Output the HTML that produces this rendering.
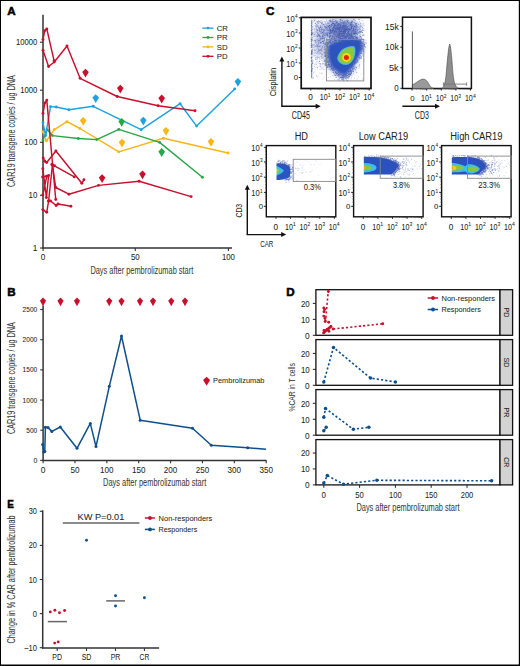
<!DOCTYPE html><html><head><meta charset="utf-8"><style>html,body{margin:0;padding:0;background:#fff;}svg{display:block;}text{font-family:"Liberation Sans", sans-serif;fill:#231f20;stroke:#231f20;stroke-width:0.05px;}</style></head><body>
<svg width="520" height="666" viewBox="0 0 520 666">
<defs><filter id="b1" x="-50%" y="-50%" width="200%" height="200%"><feGaussianBlur stdDeviation="1.2"/></filter><filter id="b3" x="-50%" y="-50%" width="200%" height="200%"><feGaussianBlur stdDeviation="3"/></filter><filter id="b2" x="-50%" y="-50%" width="200%" height="200%"><feGaussianBlur stdDeviation="2"/></filter><filter id="b05" x="-50%" y="-50%" width="200%" height="200%"><feGaussianBlur stdDeviation="0.6"/></filter></defs>
<rect x="0" y="0" width="520" height="666" fill="#000"/>
<rect x="1" y="1" width="517.8" height="663.5" fill="#fff"/>
<text x="7.2" y="14.9" font-size="11.6" font-weight="bold" style="fill:#000;stroke:#000;stroke-width:0.55px">A</text>
<line x1="43" y1="14.8" x2="43" y2="248.6" stroke="#333" stroke-width="1.5"/>
<line x1="42.3" y1="248" x2="232" y2="248" stroke="#333" stroke-width="1.5"/>
<line x1="40" y1="42.2" x2="43" y2="42.2" stroke="#333" stroke-width="1.1"/>
<text x="37.3" y="45.1" font-size="8.2" text-anchor="end" textLength="21.25" lengthAdjust="spacingAndGlyphs">10000</text>
<line x1="40" y1="90.2" x2="43" y2="90.2" stroke="#333" stroke-width="1.1"/>
<text x="37.3" y="93.1" font-size="8.2" text-anchor="end" textLength="17.1" lengthAdjust="spacingAndGlyphs">1000</text>
<line x1="40" y1="142.3" x2="43" y2="142.3" stroke="#333" stroke-width="1.1"/>
<text x="37.3" y="145.2" font-size="8.2" text-anchor="end" textLength="12.95" lengthAdjust="spacingAndGlyphs">100</text>
<line x1="40" y1="195.3" x2="43" y2="195.3" stroke="#333" stroke-width="1.1"/>
<text x="37.3" y="198.2" font-size="8.2" text-anchor="end" textLength="8.8" lengthAdjust="spacingAndGlyphs">10</text>
<line x1="40" y1="248" x2="43" y2="248" stroke="#333" stroke-width="1.1"/>
<text x="37.3" y="250.9" font-size="8.2" text-anchor="end" textLength="4.65" lengthAdjust="spacingAndGlyphs">1</text>
<line x1="43.1" y1="248" x2="43.1" y2="251" stroke="#333" stroke-width="1.1"/>
<text x="43.1" y="259.8" font-size="8.2" text-anchor="middle" textLength="4.6" lengthAdjust="spacingAndGlyphs">0</text>
<line x1="135.3" y1="248" x2="135.3" y2="251" stroke="#333" stroke-width="1.1"/>
<text x="135.3" y="259.8" font-size="8.2" text-anchor="middle" textLength="8.8" lengthAdjust="spacingAndGlyphs">50</text>
<line x1="228.4" y1="248" x2="228.4" y2="251" stroke="#333" stroke-width="1.1"/>
<text x="228.4" y="259.8" font-size="8.2" text-anchor="middle" textLength="13" lengthAdjust="spacingAndGlyphs">100</text>
<text x="90.4" y="273.7" font-size="10.1" textLength="102.8" lengthAdjust="spacingAndGlyphs" style="fill:#3a3a3a;stroke:#3a3a3a">Days after pembrolizumab start</text>
<text x="15" y="186.9" font-size="10" textLength="111.8" lengthAdjust="spacingAndGlyphs" transform="rotate(-90 15 186.9)" style="fill:#3a3a3a;stroke:#3a3a3a">CAR19 transgene copies / ug DNA</text>
<polyline points="43,131.8 46.4,140.8 54.3,129.6 67,121.7 79.9,128.5 118.8,151.9 163.4,138.2 228,153" fill="none" stroke="#fbb515" stroke-width="1.45" stroke-linejoin="round"/>
<circle cx="43" cy="131.8" r="1.45" fill="#fbb515"/>
<circle cx="46.4" cy="140.8" r="1.45" fill="#fbb515"/>
<circle cx="54.3" cy="129.6" r="1.45" fill="#fbb515"/>
<circle cx="67" cy="121.7" r="1.45" fill="#fbb515"/>
<circle cx="79.9" cy="128.5" r="1.45" fill="#fbb515"/>
<circle cx="118.8" cy="151.9" r="1.45" fill="#fbb515"/>
<circle cx="163.4" cy="138.2" r="1.45" fill="#fbb515"/>
<circle cx="228" cy="153" r="1.45" fill="#fbb515"/>
<polyline points="43,140.1 47.1,129.6 52.4,135.6 78.4,138.5 96.7,139.6 118.8,129.4 159.6,142.4 202.4,177.3" fill="none" stroke="#27a846" stroke-width="1.45" stroke-linejoin="round"/>
<circle cx="43" cy="140.1" r="1.45" fill="#27a846"/>
<circle cx="47.1" cy="129.6" r="1.45" fill="#27a846"/>
<circle cx="52.4" cy="135.6" r="1.45" fill="#27a846"/>
<circle cx="78.4" cy="138.5" r="1.45" fill="#27a846"/>
<circle cx="96.7" cy="139.6" r="1.45" fill="#27a846"/>
<circle cx="118.8" cy="129.4" r="1.45" fill="#27a846"/>
<circle cx="159.6" cy="142.4" r="1.45" fill="#27a846"/>
<circle cx="202.4" cy="177.3" r="1.45" fill="#27a846"/>
<polyline points="43,122.8 45.6,135.6 50.5,106.6 56.2,107 68.9,109.7 93.2,106.3 141.2,129.7 180.1,103.7 196.6,126.1 234.7,88.9" fill="none" stroke="#1fa2dd" stroke-width="1.45" stroke-linejoin="round"/>
<circle cx="43" cy="122.8" r="1.45" fill="#1fa2dd"/>
<circle cx="45.6" cy="135.6" r="1.45" fill="#1fa2dd"/>
<circle cx="50.5" cy="106.6" r="1.45" fill="#1fa2dd"/>
<circle cx="56.2" cy="107" r="1.45" fill="#1fa2dd"/>
<circle cx="68.9" cy="109.7" r="1.45" fill="#1fa2dd"/>
<circle cx="93.2" cy="106.3" r="1.45" fill="#1fa2dd"/>
<circle cx="141.2" cy="129.7" r="1.45" fill="#1fa2dd"/>
<circle cx="180.1" cy="103.7" r="1.45" fill="#1fa2dd"/>
<circle cx="196.6" cy="126.1" r="1.45" fill="#1fa2dd"/>
<circle cx="234.7" cy="88.9" r="1.45" fill="#1fa2dd"/>
<polyline points="43,39.5 44.7,30.8 46.8,28.9 54.1,60.8" fill="none" stroke="#c8102e" stroke-width="1.45" stroke-linejoin="round"/>
<circle cx="43" cy="39.5" r="1.45" fill="#c8102e"/>
<circle cx="44.7" cy="30.8" r="1.45" fill="#c8102e"/>
<circle cx="46.8" cy="28.9" r="1.45" fill="#c8102e"/>
<circle cx="54.1" cy="60.8" r="1.45" fill="#c8102e"/>
<polyline points="43,50.3 48.6,66.5 54.3,62 67,46 80.1,78.3 117.2,96.5 158.1,105.8 195,110.7" fill="none" stroke="#c8102e" stroke-width="1.45" stroke-linejoin="round"/>
<circle cx="43" cy="50.3" r="1.45" fill="#c8102e"/>
<circle cx="48.6" cy="66.5" r="1.45" fill="#c8102e"/>
<circle cx="54.3" cy="62" r="1.45" fill="#c8102e"/>
<circle cx="67" cy="46" r="1.45" fill="#c8102e"/>
<circle cx="80.1" cy="78.3" r="1.45" fill="#c8102e"/>
<circle cx="117.2" cy="96.5" r="1.45" fill="#c8102e"/>
<circle cx="158.1" cy="105.8" r="1.45" fill="#c8102e"/>
<circle cx="195" cy="110.7" r="1.45" fill="#c8102e"/>
<polyline points="43,113.4 44.9,102.9 46.8,100.1 55.75,199.5" fill="none" stroke="#c8102e" stroke-width="1.45" stroke-linejoin="round"/>
<circle cx="43" cy="113.4" r="1.45" fill="#c8102e"/>
<circle cx="44.9" cy="102.9" r="1.45" fill="#c8102e"/>
<circle cx="46.8" cy="100.1" r="1.45" fill="#c8102e"/>
<circle cx="55.75" cy="199.5" r="1.45" fill="#c8102e"/>
<polyline points="43.2,157.9 44.9,161.3 46.7,162.5 55.9,151 81.8,183.3 83.9,179.8" fill="none" stroke="#c8102e" stroke-width="1.45" stroke-linejoin="round"/>
<circle cx="43.2" cy="157.9" r="1.45" fill="#c8102e"/>
<circle cx="44.9" cy="161.3" r="1.45" fill="#c8102e"/>
<circle cx="46.7" cy="162.5" r="1.45" fill="#c8102e"/>
<circle cx="55.9" cy="151" r="1.45" fill="#c8102e"/>
<circle cx="81.8" cy="183.3" r="1.45" fill="#c8102e"/>
<circle cx="83.9" cy="179.8" r="1.45" fill="#c8102e"/>
<polyline points="51.8,164.5 54.5,165.8 74.3,176.9" fill="none" stroke="#c8102e" stroke-width="1.45" stroke-linejoin="round"/>
<circle cx="51.8" cy="164.5" r="1.45" fill="#c8102e"/>
<circle cx="54.5" cy="165.8" r="1.45" fill="#c8102e"/>
<circle cx="74.3" cy="176.9" r="1.45" fill="#c8102e"/>
<polyline points="42.85,168.75 46.4,197.6 48.6,175.5 42.6,177 46.75,176.3 42.85,195" fill="none" stroke="#c8102e" stroke-width="1.45" stroke-linejoin="round"/>
<circle cx="42.85" cy="168.75" r="1.45" fill="#c8102e"/>
<circle cx="46.4" cy="197.6" r="1.45" fill="#c8102e"/>
<circle cx="48.6" cy="175.5" r="1.45" fill="#c8102e"/>
<circle cx="42.6" cy="177" r="1.45" fill="#c8102e"/>
<circle cx="46.75" cy="176.3" r="1.45" fill="#c8102e"/>
<circle cx="42.85" cy="195" r="1.45" fill="#c8102e"/>
<polyline points="42.85,209.6 46.75,212.3 48.6,201 50.5,200.9 56.1,205.5 58,204 70.9,206.3" fill="none" stroke="#c8102e" stroke-width="1.45" stroke-linejoin="round"/>
<circle cx="42.85" cy="209.6" r="1.45" fill="#c8102e"/>
<circle cx="46.75" cy="212.3" r="1.45" fill="#c8102e"/>
<circle cx="48.6" cy="201" r="1.45" fill="#c8102e"/>
<circle cx="50.5" cy="200.9" r="1.45" fill="#c8102e"/>
<circle cx="56.1" cy="205.5" r="1.45" fill="#c8102e"/>
<circle cx="58" cy="204" r="1.45" fill="#c8102e"/>
<circle cx="70.9" cy="206.3" r="1.45" fill="#c8102e"/>
<polyline points="52.4,165 48.6,201" fill="none" stroke="#c8102e" stroke-width="1.45" stroke-linejoin="round"/>
<circle cx="52.4" cy="165" r="1.45" fill="#c8102e"/>
<circle cx="48.6" cy="201" r="1.45" fill="#c8102e"/>
<polyline points="52.4,165 55.75,187.5 68.9,194.2 98.5,185.4 139.1,181.2 191.1,196.6" fill="none" stroke="#c8102e" stroke-width="1.45" stroke-linejoin="round"/>
<circle cx="52.4" cy="165" r="1.45" fill="#c8102e"/>
<circle cx="55.75" cy="187.5" r="1.45" fill="#c8102e"/>
<circle cx="68.9" cy="194.2" r="1.45" fill="#c8102e"/>
<circle cx="98.5" cy="185.4" r="1.45" fill="#c8102e"/>
<circle cx="139.1" cy="181.2" r="1.45" fill="#c8102e"/>
<circle cx="191.1" cy="196.6" r="1.45" fill="#c8102e"/>
<path d="M85.5 68.7L88.8 72L85.5 77.5L82.2 72Z" fill="#c8102e"/>
<path d="M120.3 84.7L123.6 88L120.3 93.5L117 88Z" fill="#c8102e"/>
<path d="M161.7 94.6L165 97.9L161.7 103.4L158.4 97.9Z" fill="#c8102e"/>
<path d="M102.1 174.2L105.4 177.5L102.1 183L98.8 177.5Z" fill="#c8102e"/>
<path d="M142.5 170.4L145.8 173.7L142.5 179.2L139.2 173.7Z" fill="#c8102e"/>
<path d="M95.7 94.3L99 97.6L95.7 103.1L92.4 97.6Z" fill="#1fa2dd"/>
<path d="M143.3 116.8L146.6 120.1L143.3 125.6L140 120.1Z" fill="#1fa2dd"/>
<path d="M237.9 77.9L241.2 81.2L237.9 86.7L234.6 81.2Z" fill="#1fa2dd"/>
<path d="M83.2 117L86.5 120.3L83.2 125.8L79.9 120.3Z" fill="#fbb515"/>
<path d="M122 138.7L125.3 142L122 147.5L118.7 142Z" fill="#fbb515"/>
<path d="M166 127L169.3 130.3L166 135.8L162.7 130.3Z" fill="#fbb515"/>
<path d="M211 138L214.3 141.3L211 146.8L207.7 141.3Z" fill="#fbb515"/>
<path d="M121.7 117.9L125 121.2L121.7 126.7L118.4 121.2Z" fill="#27a846"/>
<path d="M161.7 148.1L165 151.4L161.7 156.9L158.4 151.4Z" fill="#27a846"/>
<line x1="202.4" y1="28.1" x2="213.5" y2="28.1" stroke="#1fa2dd" stroke-width="1.3"/>
<circle cx="208" cy="28.1" r="1.4" fill="#1fa2dd"/>
<text x="216.7" y="30.9" font-size="7.8">CR</text>
<line x1="202.4" y1="37.5" x2="213.5" y2="37.5" stroke="#27a846" stroke-width="1.3"/>
<circle cx="208" cy="37.5" r="1.4" fill="#27a846"/>
<text x="216.7" y="40.3" font-size="7.8">PR</text>
<line x1="202.4" y1="46.9" x2="213.5" y2="46.9" stroke="#fbb515" stroke-width="1.3"/>
<circle cx="208" cy="46.9" r="1.4" fill="#fbb515"/>
<text x="216.7" y="49.7" font-size="7.8">SD</text>
<line x1="202.4" y1="56.3" x2="213.5" y2="56.3" stroke="#c8102e" stroke-width="1.3"/>
<circle cx="208" cy="56.3" r="1.4" fill="#c8102e"/>
<text x="216.7" y="59.1" font-size="7.8">PD</text>
<text x="7.3" y="296.3" font-size="11.6" font-weight="bold" style="fill:#000;stroke:#000;stroke-width:0.55px">B</text>
<line x1="43.1" y1="305.5" x2="43.1" y2="461.1" stroke="#333" stroke-width="1.5"/>
<line x1="42.4" y1="460.4" x2="266.5" y2="460.4" stroke="#333" stroke-width="1.5"/>
<line x1="40.2" y1="460.4" x2="43.1" y2="460.4" stroke="#333" stroke-width="1.1"/>
<text x="37.3" y="463" font-size="7.4" text-anchor="end" textLength="3.9" lengthAdjust="spacingAndGlyphs">0</text>
<line x1="40.2" y1="430.22" x2="43.1" y2="430.22" stroke="#333" stroke-width="1.1"/>
<text x="37.3" y="432.82" font-size="7.4" text-anchor="end" textLength="11.1" lengthAdjust="spacingAndGlyphs">500</text>
<line x1="40.2" y1="400.04" x2="43.1" y2="400.04" stroke="#333" stroke-width="1.1"/>
<text x="37.3" y="402.64" font-size="7.4" text-anchor="end" textLength="14.7" lengthAdjust="spacingAndGlyphs">1000</text>
<line x1="40.2" y1="369.86" x2="43.1" y2="369.86" stroke="#333" stroke-width="1.1"/>
<text x="37.3" y="372.46" font-size="7.4" text-anchor="end" textLength="14.7" lengthAdjust="spacingAndGlyphs">1500</text>
<line x1="40.2" y1="339.68" x2="43.1" y2="339.68" stroke="#333" stroke-width="1.1"/>
<text x="37.3" y="342.28" font-size="7.4" text-anchor="end" textLength="14.7" lengthAdjust="spacingAndGlyphs">2000</text>
<line x1="40.2" y1="309.5" x2="43.1" y2="309.5" stroke="#333" stroke-width="1.1"/>
<text x="37.3" y="312.1" font-size="7.4" text-anchor="end" textLength="14.7" lengthAdjust="spacingAndGlyphs">2500</text>
<line x1="43.1" y1="460.4" x2="43.1" y2="463.2" stroke="#333" stroke-width="1.1"/>
<text x="43.1" y="472.7" font-size="9.2" text-anchor="middle" textLength="4.7" lengthAdjust="spacingAndGlyphs">0</text>
<line x1="74.97" y1="460.4" x2="74.97" y2="463.2" stroke="#333" stroke-width="1.1"/>
<text x="74.97" y="472.7" font-size="9.2" text-anchor="middle" textLength="9.1" lengthAdjust="spacingAndGlyphs">50</text>
<line x1="106.84" y1="460.4" x2="106.84" y2="463.2" stroke="#333" stroke-width="1.1"/>
<text x="106.84" y="472.7" font-size="9.2" text-anchor="middle" textLength="13.5" lengthAdjust="spacingAndGlyphs">100</text>
<line x1="138.71" y1="460.4" x2="138.71" y2="463.2" stroke="#333" stroke-width="1.1"/>
<text x="138.71" y="472.7" font-size="9.2" text-anchor="middle" textLength="13.5" lengthAdjust="spacingAndGlyphs">150</text>
<line x1="170.58" y1="460.4" x2="170.58" y2="463.2" stroke="#333" stroke-width="1.1"/>
<text x="170.58" y="472.7" font-size="9.2" text-anchor="middle" textLength="13.5" lengthAdjust="spacingAndGlyphs">200</text>
<line x1="202.45" y1="460.4" x2="202.45" y2="463.2" stroke="#333" stroke-width="1.1"/>
<text x="202.45" y="472.7" font-size="9.2" text-anchor="middle" textLength="13.5" lengthAdjust="spacingAndGlyphs">250</text>
<line x1="234.32" y1="460.4" x2="234.32" y2="463.2" stroke="#333" stroke-width="1.1"/>
<text x="234.32" y="472.7" font-size="9.2" text-anchor="middle" textLength="13.5" lengthAdjust="spacingAndGlyphs">300</text>
<line x1="266.19" y1="460.4" x2="266.19" y2="463.2" stroke="#333" stroke-width="1.1"/>
<text x="266.19" y="472.7" font-size="9.2" text-anchor="middle" textLength="13.5" lengthAdjust="spacingAndGlyphs">350</text>
<text x="103.1" y="485.8" font-size="10.1" textLength="103.1" lengthAdjust="spacingAndGlyphs" style="fill:#3a3a3a;stroke:#3a3a3a">Days after pembrolizumab start</text>
<text x="15" y="434.1" font-size="10" textLength="112" lengthAdjust="spacingAndGlyphs" transform="rotate(-90 15 434.1)" style="fill:#3a3a3a;stroke:#3a3a3a">CAR19 transgene copies / ug DNA</text>
<polyline points="42.7,444.5 43.75,451.9 44.8,451.5 45.4,427.2 48,427.6 51.8,431.4 60.3,427 77,448.3 90.3,423.4 96,446.6 109.3,386.3 121.5,336 140.2,420.2 192.5,428.3 211.3,445.2 247.7,447.7 266,449.2" fill="none" stroke="#0e4f8c" stroke-width="1.5" stroke-linejoin="round"/>
<circle cx="42.7" cy="444.5" r="1.5" fill="#0e4f8c"/>
<circle cx="43.75" cy="451.9" r="1.5" fill="#0e4f8c"/>
<circle cx="44.8" cy="451.5" r="1.5" fill="#0e4f8c"/>
<circle cx="45.4" cy="427.2" r="1.5" fill="#0e4f8c"/>
<circle cx="48" cy="427.6" r="1.5" fill="#0e4f8c"/>
<circle cx="51.8" cy="431.4" r="1.5" fill="#0e4f8c"/>
<circle cx="60.3" cy="427" r="1.5" fill="#0e4f8c"/>
<circle cx="77" cy="448.3" r="1.5" fill="#0e4f8c"/>
<circle cx="90.3" cy="423.4" r="1.5" fill="#0e4f8c"/>
<circle cx="96" cy="446.6" r="1.5" fill="#0e4f8c"/>
<circle cx="109.3" cy="386.3" r="1.5" fill="#0e4f8c"/>
<circle cx="121.5" cy="336" r="1.5" fill="#0e4f8c"/>
<circle cx="140.2" cy="420.2" r="1.5" fill="#0e4f8c"/>
<circle cx="192.5" cy="428.3" r="1.5" fill="#0e4f8c"/>
<circle cx="211.3" cy="445.2" r="1.5" fill="#0e4f8c"/>
<circle cx="247.7" cy="447.7" r="1.5" fill="#0e4f8c"/>
<path d="M43 297.59L46.1 300.81L43 306.19L39.9 300.81Z" fill="#c8102e"/>
<path d="M60.5 297.59L63.6 300.81L60.5 306.19L57.4 300.81Z" fill="#c8102e"/>
<path d="M77 297.59L80.1 300.81L77 306.19L73.9 300.81Z" fill="#c8102e"/>
<path d="M109.25 297.59L112.35 300.81L109.25 306.19L106.15 300.81Z" fill="#c8102e"/>
<path d="M121.5 297.59L124.6 300.81L121.5 306.19L118.4 300.81Z" fill="#c8102e"/>
<path d="M140 297.59L143.1 300.81L140 306.19L136.9 300.81Z" fill="#c8102e"/>
<path d="M153 297.59L156.1 300.81L153 306.19L149.9 300.81Z" fill="#c8102e"/>
<path d="M171.25 297.59L174.35 300.81L171.25 306.19L168.15 300.81Z" fill="#c8102e"/>
<path d="M185 297.59L188.1 300.81L185 306.19L181.9 300.81Z" fill="#c8102e"/>
<path d="M206.6 376.71L210.1 380.09L206.6 385.71L203.1 380.09Z" fill="#c8102e"/>
<text x="213.1" y="383.2" font-size="7.9" textLength="51.3" lengthAdjust="spacingAndGlyphs">Pembrolizumab</text>
<text x="266" y="15.1" font-size="11.6" font-weight="bold" style="fill:#000;stroke:#000;stroke-width:0.55px">C</text>
<clipPath id="c1"><rect x="302" y="18.4" width="68" height="69"/></clipPath>
<g clip-path="url(#c1)">
<g filter="url(#b3)">
<ellipse cx="342" cy="30" rx="18" ry="10" fill="#4c62b6" opacity="0.6"/>
<ellipse cx="320" cy="40" rx="7" ry="18" fill="#6a7cc0" opacity="0.35"/>
<path d="M326 44 L358 39 L363 47 L350 74 L343 78 L326 64Z" fill="#3c58b8" opacity="0.55"/>
</g>
<path d="M314.54 69.1h0.8v0.8h-0.8zM315.1 53.49h0.8v0.8h-0.8zM345.11 54.56h0.8v0.8h-0.8zM342.3 43.2h0.8v0.8h-0.8zM328.2 68.78h0.8v0.8h-0.8zM317.41 53.84h0.8v0.8h-0.8zM331.55 52.41h0.8v0.8h-0.8zM335.56 56.15h0.8v0.8h-0.8zM319.98 48.83h0.8v0.8h-0.8zM342.44 46.83h0.8v0.8h-0.8zM320.82 26.14h0.8v0.8h-0.8zM362.28 28.21h0.8v0.8h-0.8zM319.94 59.17h0.8v0.8h-0.8zM331.39 53.55h0.8v0.8h-0.8zM315.27 23.11h0.8v0.8h-0.8zM314.76 19.01h0.8v0.8h-0.8zM343.62 47.92h0.8v0.8h-0.8zM337.22 38.02h0.8v0.8h-0.8zM330.99 61.09h0.8v0.8h-0.8zM329.31 32.61h0.8v0.8h-0.8zM330.67 20.77h0.8v0.8h-0.8zM353.48 47.81h0.8v0.8h-0.8zM362.14 41.24h0.8v0.8h-0.8zM351.38 48.16h0.8v0.8h-0.8zM334.78 57.79h0.8v0.8h-0.8zM336.32 64.34h0.8v0.8h-0.8zM350.05 29.37h0.8v0.8h-0.8zM320.19 52.45h0.8v0.8h-0.8zM317.4 64.72h0.8v0.8h-0.8zM334.77 72.18h0.8v0.8h-0.8zM340.58 69.89h0.8v0.8h-0.8zM312.98 45.85h0.8v0.8h-0.8zM343.95 66.34h0.8v0.8h-0.8zM339.21 52.88h0.8v0.8h-0.8zM358.37 22.47h0.8v0.8h-0.8zM335.74 20.7h0.8v0.8h-0.8zM360.45 73.46h0.8v0.8h-0.8zM356.1 27.37h0.8v0.8h-0.8zM327.9 26.46h0.8v0.8h-0.8zM339.17 37.02h0.8v0.8h-0.8zM317.92 75.03h0.8v0.8h-0.8zM326.28 74.26h0.8v0.8h-0.8zM341.96 61.73h0.8v0.8h-0.8zM326.65 67.77h0.8v0.8h-0.8zM334.33 23.42h0.8v0.8h-0.8zM345.31 67.9h0.8v0.8h-0.8zM324.52 25.68h0.8v0.8h-0.8zM345.01 51.4h0.8v0.8h-0.8zM327.22 49.51h0.8v0.8h-0.8zM328.16 32.13h0.8v0.8h-0.8zM363.55 70.06h0.8v0.8h-0.8zM327.39 47.03h0.8v0.8h-0.8zM346.44 34.14h0.8v0.8h-0.8zM316.77 68.84h0.8v0.8h-0.8zM332.97 21.54h0.8v0.8h-0.8zM327.73 57.41h0.8v0.8h-0.8zM342.74 51.28h0.8v0.8h-0.8zM351.53 53.68h0.8v0.8h-0.8zM347.85 61.29h0.8v0.8h-0.8zM360.96 73.77h0.8v0.8h-0.8zM324.33 65.14h0.8v0.8h-0.8zM345.75 23.73h0.8v0.8h-0.8zM327.98 53.63h0.8v0.8h-0.8zM332.31 74.91h0.8v0.8h-0.8zM339.51 77.12h0.8v0.8h-0.8zM358.56 61.9h0.8v0.8h-0.8zM351.41 70.19h0.8v0.8h-0.8zM361.34 30.94h0.8v0.8h-0.8zM356.85 36.12h0.8v0.8h-0.8zM355.82 36.42h0.8v0.8h-0.8zM340.83 62.89h0.8v0.8h-0.8zM332.7 29.21h0.8v0.8h-0.8zM364.31 46.45h0.8v0.8h-0.8zM340.76 33.89h0.8v0.8h-0.8zM329.95 24.56h0.8v0.8h-0.8zM331.34 68.37h0.8v0.8h-0.8zM332.1 64.5h0.8v0.8h-0.8zM331.79 39.63h0.8v0.8h-0.8zM353.49 70.77h0.8v0.8h-0.8zM356.56 72.25h0.8v0.8h-0.8zM362.83 48.88h0.8v0.8h-0.8zM356.91 78.31h0.8v0.8h-0.8zM353.11 32.65h0.8v0.8h-0.8zM316.46 66.39h0.8v0.8h-0.8zM353.07 33.19h0.8v0.8h-0.8zM345.89 37.53h0.8v0.8h-0.8zM348.68 25.84h0.8v0.8h-0.8zM327.77 76.56h0.8v0.8h-0.8zM326.63 38.3h0.8v0.8h-0.8zM336.95 33.32h0.8v0.8h-0.8zM358.45 58.48h0.8v0.8h-0.8zM362.92 38.01h0.8v0.8h-0.8zM319.69 43h0.8v0.8h-0.8zM350.47 79.85h0.8v0.8h-0.8zM335.23 25.65h0.8v0.8h-0.8zM326.69 40.44h0.8v0.8h-0.8zM316.61 62.02h0.8v0.8h-0.8zM331.57 75.09h0.8v0.8h-0.8zM352.25 21.48h0.8v0.8h-0.8zM336.36 68h0.8v0.8h-0.8zM328.62 35.81h0.8v0.8h-0.8zM361.69 22.99h0.8v0.8h-0.8zM359.96 68.7h0.8v0.8h-0.8zM327.92 61.22h0.8v0.8h-0.8zM316.15 31.04h0.8v0.8h-0.8zM324.98 22.95h0.8v0.8h-0.8zM337.29 52.22h0.8v0.8h-0.8zM363.46 72.89h0.8v0.8h-0.8zM325.91 24.13h0.8v0.8h-0.8zM340.27 66.21h0.8v0.8h-0.8zM325.67 45.8h0.8v0.8h-0.8zM364.1 49.95h0.8v0.8h-0.8zM327.42 26.27h0.8v0.8h-0.8zM343.53 69.5h0.8v0.8h-0.8zM360.83 41.71h0.8v0.8h-0.8zM349.26 40.33h0.8v0.8h-0.8zM331.36 27.62h0.8v0.8h-0.8zM350.44 74.75h0.8v0.8h-0.8zM321.72 38.04h0.8v0.8h-0.8zM322.69 19.36h0.8v0.8h-0.8zM342.33 41.25h0.8v0.8h-0.8zM318.82 22.15h0.8v0.8h-0.8zM345.64 74.5h0.8v0.8h-0.8z" fill="#3c52ab" opacity="0.15"/>
<path d="M323.27 24.24h0.8v0.8h-0.8zM315.67 24.53h0.8v0.8h-0.8zM314.45 71.37h0.8v0.8h-0.8zM341.63 56.76h0.8v0.8h-0.8zM347.72 45.08h0.8v0.8h-0.8zM336.44 75.33h0.8v0.8h-0.8zM352.94 23.99h0.8v0.8h-0.8zM318.2 44.51h0.8v0.8h-0.8zM342.08 72.4h0.8v0.8h-0.8zM329.86 40.36h0.8v0.8h-0.8zM315.41 63.6h0.8v0.8h-0.8zM345.97 79.58h0.8v0.8h-0.8zM330.22 76.38h0.8v0.8h-0.8zM325 42.85h0.8v0.8h-0.8zM326.59 27.35h0.8v0.8h-0.8zM357.36 35.98h0.8v0.8h-0.8zM363.79 60.65h0.8v0.8h-0.8zM337.46 54.94h0.8v0.8h-0.8zM346.39 64.13h0.8v0.8h-0.8zM353.89 42.94h0.8v0.8h-0.8zM332.69 48.37h0.8v0.8h-0.8zM331.75 57.7h0.8v0.8h-0.8zM356.57 79.58h0.8v0.8h-0.8zM317.36 39.9h0.8v0.8h-0.8zM357.32 61.47h0.8v0.8h-0.8zM339.22 74.4h0.8v0.8h-0.8zM354.17 31.19h0.8v0.8h-0.8zM348.36 77.35h0.8v0.8h-0.8zM354.45 63.11h0.8v0.8h-0.8zM317.36 47.67h0.8v0.8h-0.8zM354.04 78.27h0.8v0.8h-0.8zM313.45 55.04h0.8v0.8h-0.8zM363.47 59.09h0.8v0.8h-0.8zM324.63 54.77h0.8v0.8h-0.8zM359.78 40.58h0.8v0.8h-0.8zM343.82 31.16h0.8v0.8h-0.8zM335.75 51.53h0.8v0.8h-0.8zM358.02 76.47h0.8v0.8h-0.8zM361.32 58.25h0.8v0.8h-0.8zM319.51 72.85h0.8v0.8h-0.8zM323.53 77.1h0.8v0.8h-0.8zM355.7 28.85h0.8v0.8h-0.8zM364.19 43.63h0.8v0.8h-0.8zM331.21 39.62h0.8v0.8h-0.8zM335.12 20.1h0.8v0.8h-0.8zM363.01 25.39h0.8v0.8h-0.8zM326.2 26.9h0.8v0.8h-0.8zM356.6 60.23h0.8v0.8h-0.8zM343.93 32.57h0.8v0.8h-0.8zM357.3 46.68h0.8v0.8h-0.8zM364.2 44.48h0.8v0.8h-0.8zM325.75 30.05h0.8v0.8h-0.8zM326.2 68.02h0.8v0.8h-0.8zM340.93 30.56h0.8v0.8h-0.8zM354.99 45.36h0.8v0.8h-0.8zM350.26 27.52h0.8v0.8h-0.8zM315.71 64.19h0.8v0.8h-0.8zM326.12 19.22h0.8v0.8h-0.8zM328.99 21.1h0.8v0.8h-0.8zM323.44 30.16h0.8v0.8h-0.8zM332.45 38.89h0.8v0.8h-0.8zM330.94 25.4h0.8v0.8h-0.8zM339.9 33.92h0.8v0.8h-0.8zM336.88 68.36h0.8v0.8h-0.8zM350.84 78.52h0.8v0.8h-0.8zM317.22 32.28h0.8v0.8h-0.8zM327.27 50.51h0.8v0.8h-0.8zM322.46 78.67h0.8v0.8h-0.8zM362.83 46.42h0.8v0.8h-0.8zM343.68 57.53h0.8v0.8h-0.8zM338.14 72.44h0.8v0.8h-0.8zM313.3 19.22h0.8v0.8h-0.8zM319.39 39.98h0.8v0.8h-0.8zM318.35 39.21h0.8v0.8h-0.8zM359.33 36.68h0.8v0.8h-0.8zM316.01 75.45h0.8v0.8h-0.8zM328.57 66.16h0.8v0.8h-0.8zM351.52 58.31h0.8v0.8h-0.8zM318.68 47.8h0.8v0.8h-0.8zM315.95 49.54h0.8v0.8h-0.8zM340.9 46.63h0.8v0.8h-0.8zM358.58 64.73h0.8v0.8h-0.8zM338.15 54.03h0.8v0.8h-0.8zM326.23 34.16h0.8v0.8h-0.8zM345.9 45.34h0.8v0.8h-0.8zM318.68 44.94h0.8v0.8h-0.8zM348.8 70.64h0.8v0.8h-0.8zM344.89 51.22h0.8v0.8h-0.8zM312.06 51.79h0.8v0.8h-0.8zM328.14 20.33h0.8v0.8h-0.8zM325.51 59.71h0.8v0.8h-0.8zM323.91 21.08h0.8v0.8h-0.8zM349.71 41.1h0.8v0.8h-0.8zM356.37 23.11h0.8v0.8h-0.8zM324.12 32.51h0.8v0.8h-0.8zM321.83 32.62h0.8v0.8h-0.8zM313.24 55.36h0.8v0.8h-0.8zM314.72 22.67h0.8v0.8h-0.8zM335.61 62.43h0.8v0.8h-0.8zM350.08 70.19h0.8v0.8h-0.8zM341.46 65.29h0.8v0.8h-0.8zM330.72 69.12h0.8v0.8h-0.8zM328.97 63.98h0.8v0.8h-0.8zM317.63 62.65h0.8v0.8h-0.8zM362.08 42.58h0.8v0.8h-0.8zM343.88 39h0.8v0.8h-0.8zM334.11 79.29h0.8v0.8h-0.8zM321.09 27.11h0.8v0.8h-0.8zM352.94 36.93h0.8v0.8h-0.8zM321.88 22.95h0.8v0.8h-0.8zM346.11 25.13h0.8v0.8h-0.8zM364.03 25.24h0.8v0.8h-0.8zM358.35 33.1h0.8v0.8h-0.8zM354.99 43.95h0.8v0.8h-0.8zM313.65 49.23h0.8v0.8h-0.8zM315.32 25.18h0.8v0.8h-0.8zM328.15 77.14h0.8v0.8h-0.8zM351.13 72.91h0.8v0.8h-0.8zM333.86 71.72h0.8v0.8h-0.8zM345.84 42.83h0.8v0.8h-0.8zM334.25 69.04h0.8v0.8h-0.8z" fill="#3c52ab" opacity="0.3"/>
<path d="M329 28.2h0.8v0.8h-0.8zM331.2 22.54h0.8v0.8h-0.8zM334 51.98h0.8v0.8h-0.8zM327.74 67.46h0.8v0.8h-0.8zM339.57 72.38h0.8v0.8h-0.8zM362.51 23.73h0.8v0.8h-0.8zM361.6 47.92h0.8v0.8h-0.8zM326.94 42.53h0.8v0.8h-0.8zM323.46 36.53h0.8v0.8h-0.8zM316.23 46.4h0.8v0.8h-0.8zM326.8 27.89h0.8v0.8h-0.8zM348.25 50.44h0.8v0.8h-0.8zM359.23 66.58h0.8v0.8h-0.8zM335.13 25.71h0.8v0.8h-0.8zM340.17 76.89h0.8v0.8h-0.8zM313.34 72.33h0.8v0.8h-0.8zM337.13 61.22h0.8v0.8h-0.8zM313.21 77.01h0.8v0.8h-0.8zM351.8 37.18h0.8v0.8h-0.8zM352.53 51.49h0.8v0.8h-0.8zM354.32 68.92h0.8v0.8h-0.8zM322.73 57.07h0.8v0.8h-0.8zM356.12 48.25h0.8v0.8h-0.8zM330.06 58.23h0.8v0.8h-0.8zM318.29 42.7h0.8v0.8h-0.8zM354.34 27.92h0.8v0.8h-0.8zM312.75 78.22h0.8v0.8h-0.8zM313.47 31.98h0.8v0.8h-0.8zM346.78 68.72h0.8v0.8h-0.8zM334.08 74.98h0.8v0.8h-0.8zM318.87 28.26h0.8v0.8h-0.8zM321.05 47.88h0.8v0.8h-0.8zM318.32 22.77h0.8v0.8h-0.8zM326.54 66.11h0.8v0.8h-0.8zM335.27 56.36h0.8v0.8h-0.8zM338.66 34.11h0.8v0.8h-0.8zM332.6 38.27h0.8v0.8h-0.8zM324.63 23.46h0.8v0.8h-0.8zM358.46 28.93h0.8v0.8h-0.8zM322.28 38.43h0.8v0.8h-0.8zM333.31 51.73h0.8v0.8h-0.8zM344.64 21.64h0.8v0.8h-0.8zM313.94 20.12h0.8v0.8h-0.8zM324.9 46.27h0.8v0.8h-0.8zM340.66 73.21h0.8v0.8h-0.8zM329.99 69.77h0.8v0.8h-0.8zM334.61 22.38h0.8v0.8h-0.8zM356.17 72.1h0.8v0.8h-0.8zM362.97 55.53h0.8v0.8h-0.8zM362.49 78.33h0.8v0.8h-0.8zM332.04 47.95h0.8v0.8h-0.8zM346.52 62.68h0.8v0.8h-0.8zM319.85 63.17h0.8v0.8h-0.8zM319.6 69.32h0.8v0.8h-0.8zM358.83 57.27h0.8v0.8h-0.8zM348.81 49.84h0.8v0.8h-0.8zM355.39 54.63h0.8v0.8h-0.8zM316.47 21.55h0.8v0.8h-0.8zM341.32 57.29h0.8v0.8h-0.8zM312.17 67.66h0.8v0.8h-0.8zM346.61 23.03h0.8v0.8h-0.8zM356.39 23.68h0.8v0.8h-0.8zM327.08 21.85h0.8v0.8h-0.8zM329.42 58.74h0.8v0.8h-0.8zM337.33 48.63h0.8v0.8h-0.8zM336.46 65.8h0.8v0.8h-0.8zM312.92 47h0.8v0.8h-0.8zM315.92 24.51h0.8v0.8h-0.8zM347.78 43.73h0.8v0.8h-0.8zM315.41 42.8h0.8v0.8h-0.8zM325.09 35.21h0.8v0.8h-0.8zM358.42 68.53h0.8v0.8h-0.8zM333 72.42h0.8v0.8h-0.8zM361.01 44.06h0.8v0.8h-0.8zM337.49 74.63h0.8v0.8h-0.8zM326.79 34.6h0.8v0.8h-0.8zM363.26 34.87h0.8v0.8h-0.8zM324.53 48.47h0.8v0.8h-0.8zM318.61 49.71h0.8v0.8h-0.8zM332.55 75.54h0.8v0.8h-0.8zM339.42 60.61h0.8v0.8h-0.8zM332.37 32.64h0.8v0.8h-0.8zM313.54 44.12h0.8v0.8h-0.8zM322.4 67.62h0.8v0.8h-0.8zM317.72 57.04h0.8v0.8h-0.8zM359.8 22.44h0.8v0.8h-0.8zM329.29 30.32h0.8v0.8h-0.8zM351.18 20.95h0.8v0.8h-0.8zM313.59 44.06h0.8v0.8h-0.8zM325.49 64.58h0.8v0.8h-0.8zM329.8 35.61h0.8v0.8h-0.8zM314.29 64.53h0.8v0.8h-0.8zM349.88 55.33h0.8v0.8h-0.8zM360.73 30.16h0.8v0.8h-0.8zM336.19 66.81h0.8v0.8h-0.8zM344.57 60.12h0.8v0.8h-0.8zM341.76 41.75h0.8v0.8h-0.8zM324.88 28.35h0.8v0.8h-0.8zM335.58 34.86h0.8v0.8h-0.8zM361.65 25.45h0.8v0.8h-0.8zM346.86 28.43h0.8v0.8h-0.8zM316.79 28.99h0.8v0.8h-0.8zM326.24 79.28h0.8v0.8h-0.8zM342.08 75.56h0.8v0.8h-0.8z" fill="#3c52ab" opacity="0.45"/>
<path d="M345.23 34.65h0.8v0.8h-0.8zM351 36.13h0.8v0.8h-0.8zM335.93 43.64h0.8v0.8h-0.8zM353.35 29.77h0.8v0.8h-0.8zM330.91 24.77h0.8v0.8h-0.8zM353.47 25.48h0.8v0.8h-0.8zM336.91 26.16h0.8v0.8h-0.8zM335.73 30.9h0.8v0.8h-0.8zM333.49 25.48h0.8v0.8h-0.8zM344.07 22.75h0.8v0.8h-0.8zM331.95 20.96h0.8v0.8h-0.8zM337.7 43.42h0.8v0.8h-0.8zM335.76 20.7h0.8v0.8h-0.8zM319.53 30.78h0.8v0.8h-0.8zM330.41 25.71h0.8v0.8h-0.8zM340.85 32.74h0.8v0.8h-0.8zM350.57 41.71h0.8v0.8h-0.8zM323.87 24.02h0.8v0.8h-0.8zM340 33.52h0.8v0.8h-0.8zM349.33 41.35h0.8v0.8h-0.8zM340.24 19.46h0.8v0.8h-0.8zM333.73 34.29h0.8v0.8h-0.8zM344.78 27.38h0.8v0.8h-0.8zM348.89 28.97h0.8v0.8h-0.8zM338.54 31.77h0.8v0.8h-0.8zM357.01 26.62h0.8v0.8h-0.8zM342.14 31.17h0.8v0.8h-0.8zM331.99 29.59h0.8v0.8h-0.8zM353.9 43.98h0.8v0.8h-0.8zM354.62 31.69h0.8v0.8h-0.8zM345.26 20.14h0.8v0.8h-0.8zM354.77 35.95h0.8v0.8h-0.8zM342.71 34.26h0.8v0.8h-0.8zM350.24 29.97h0.8v0.8h-0.8zM352.23 35.26h0.8v0.8h-0.8zM350.26 21.85h0.8v0.8h-0.8zM339.11 29.04h0.8v0.8h-0.8zM343.44 32.29h0.8v0.8h-0.8zM337.72 28.12h0.8v0.8h-0.8zM341.24 29.33h0.8v0.8h-0.8zM346.47 29.86h0.8v0.8h-0.8zM340.93 34.12h0.8v0.8h-0.8zM337.58 37.67h0.8v0.8h-0.8zM328.34 44.01h0.8v0.8h-0.8zM350.25 23.19h0.8v0.8h-0.8zM342.24 31.31h0.8v0.8h-0.8zM338.03 42.33h0.8v0.8h-0.8zM343.73 29.98h0.8v0.8h-0.8zM333.36 21.19h0.8v0.8h-0.8zM334.61 27.1h0.8v0.8h-0.8zM349.91 35.11h0.8v0.8h-0.8zM341.28 34.33h0.8v0.8h-0.8zM335.77 28.47h0.8v0.8h-0.8zM327.39 29.82h0.8v0.8h-0.8zM349.03 27.16h0.8v0.8h-0.8zM333.12 36.23h0.8v0.8h-0.8zM354.16 33.08h0.8v0.8h-0.8zM351.33 30.36h0.8v0.8h-0.8zM341.85 37.86h0.8v0.8h-0.8zM321.91 41.15h0.8v0.8h-0.8zM336.17 31.99h0.8v0.8h-0.8zM331.99 22.29h0.8v0.8h-0.8zM340.84 30.1h0.8v0.8h-0.8zM342 34.24h0.8v0.8h-0.8zM339.63 27.93h0.8v0.8h-0.8zM341.34 36.09h0.8v0.8h-0.8zM319.8 39.69h0.8v0.8h-0.8zM320.75 32.44h0.8v0.8h-0.8zM344.37 38.06h0.8v0.8h-0.8zM337.84 35.46h0.8v0.8h-0.8zM348.42 26.39h0.8v0.8h-0.8zM347.6 41.34h0.8v0.8h-0.8zM329.85 25.86h0.8v0.8h-0.8zM329.57 24.98h0.8v0.8h-0.8zM342.37 27.77h0.8v0.8h-0.8zM349.12 25.64h0.8v0.8h-0.8zM343.05 32.69h0.8v0.8h-0.8zM329.01 35.23h0.8v0.8h-0.8zM329.85 31.12h0.8v0.8h-0.8zM351.49 27.27h0.8v0.8h-0.8zM343.35 34.9h0.8v0.8h-0.8zM360.8 43.62h0.8v0.8h-0.8zM357.84 32.24h0.8v0.8h-0.8zM326.27 34.52h0.8v0.8h-0.8zM351.95 22.07h0.8v0.8h-0.8zM344.82 29.81h0.8v0.8h-0.8zM335.95 41.5h0.8v0.8h-0.8zM340.43 23.19h0.8v0.8h-0.8zM335.27 39.31h0.8v0.8h-0.8zM318.41 21.28h0.8v0.8h-0.8zM341.34 35.07h0.8v0.8h-0.8zM344.07 36.17h0.8v0.8h-0.8zM344.87 23.5h0.8v0.8h-0.8zM332.87 29.52h0.8v0.8h-0.8zM335.29 30.82h0.8v0.8h-0.8zM332.13 35.86h0.8v0.8h-0.8zM338.52 29.06h0.8v0.8h-0.8zM341.93 32.94h0.8v0.8h-0.8zM351.74 30.77h0.8v0.8h-0.8zM318.57 35.4h0.8v0.8h-0.8zM351.31 23.41h0.8v0.8h-0.8zM335.65 30.82h0.8v0.8h-0.8zM357.73 23.47h0.8v0.8h-0.8zM347.25 32.34h0.8v0.8h-0.8zM345.61 35.51h0.8v0.8h-0.8zM340.65 26.49h0.8v0.8h-0.8zM352.44 42.04h0.8v0.8h-0.8zM348.95 36.87h0.8v0.8h-0.8zM350.81 27.9h0.8v0.8h-0.8zM338.79 35.59h0.8v0.8h-0.8zM338.15 28.2h0.8v0.8h-0.8zM336.72 29.71h0.8v0.8h-0.8zM340.94 38.17h0.8v0.8h-0.8zM362.9 43.76h0.8v0.8h-0.8zM330.03 21.96h0.8v0.8h-0.8zM324.34 26.11h0.8v0.8h-0.8zM334.91 33.26h0.8v0.8h-0.8zM339.86 37.44h0.8v0.8h-0.8zM344.02 20.05h0.8v0.8h-0.8zM339.97 19.24h0.8v0.8h-0.8zM322.97 29.35h0.8v0.8h-0.8zM351.91 38.7h0.8v0.8h-0.8zM350.47 33.85h0.8v0.8h-0.8zM343.8 27.46h0.8v0.8h-0.8zM348.97 29.99h0.8v0.8h-0.8zM343.01 29.42h0.8v0.8h-0.8zM345.92 33.27h0.8v0.8h-0.8zM335.06 29.7h0.8v0.8h-0.8zM322.62 41.3h0.8v0.8h-0.8zM330.86 25.55h0.8v0.8h-0.8zM341.21 30.09h0.8v0.8h-0.8zM346.53 40.92h0.8v0.8h-0.8zM329.81 21.54h0.8v0.8h-0.8zM346.11 33.11h0.8v0.8h-0.8zM349.01 35.22h0.8v0.8h-0.8zM336.46 30.16h0.8v0.8h-0.8zM323.69 32.79h0.8v0.8h-0.8zM351.3 31.49h0.8v0.8h-0.8zM346.49 29.13h0.8v0.8h-0.8zM333.38 43.05h0.8v0.8h-0.8zM361.38 19.96h0.8v0.8h-0.8zM331.89 34.33h0.8v0.8h-0.8zM334.3 27.35h0.8v0.8h-0.8zM336.56 23.35h0.8v0.8h-0.8zM329.89 27.56h0.8v0.8h-0.8zM338.36 32.91h0.8v0.8h-0.8zM351.52 25.87h0.8v0.8h-0.8zM332.82 27.75h0.8v0.8h-0.8zM345.6 33h0.8v0.8h-0.8zM328.25 22.73h0.8v0.8h-0.8zM348.95 32.74h0.8v0.8h-0.8zM364.24 35.41h0.8v0.8h-0.8zM329.75 38.12h0.8v0.8h-0.8zM324.34 32.22h0.8v0.8h-0.8zM337.31 25.51h0.8v0.8h-0.8zM342.27 34.69h0.8v0.8h-0.8zM339.66 44.19h0.8v0.8h-0.8zM331.44 28.34h0.8v0.8h-0.8zM346.73 44.81h0.8v0.8h-0.8zM340.5 19.14h0.8v0.8h-0.8zM349.96 44.65h0.8v0.8h-0.8zM339.31 35.65h0.8v0.8h-0.8zM356.72 21.65h0.8v0.8h-0.8zM333.57 38.9h0.8v0.8h-0.8zM340.42 20h0.8v0.8h-0.8zM337.94 27.64h0.8v0.8h-0.8zM339.57 29.64h0.8v0.8h-0.8zM328.98 38.2h0.8v0.8h-0.8zM334.39 25.46h0.8v0.8h-0.8zM319.12 29.8h0.8v0.8h-0.8zM347.82 23.02h0.8v0.8h-0.8zM342.68 36.41h0.8v0.8h-0.8zM346.55 36.63h0.8v0.8h-0.8zM344.59 36.76h0.8v0.8h-0.8zM353.51 31.63h0.8v0.8h-0.8zM349.54 33.1h0.8v0.8h-0.8zM348.6 34.85h0.8v0.8h-0.8zM338.05 34.22h0.8v0.8h-0.8zM337.89 36.94h0.8v0.8h-0.8zM337.63 26.64h0.8v0.8h-0.8zM356.63 36.48h0.8v0.8h-0.8zM341.57 24.78h0.8v0.8h-0.8zM336.36 25.75h0.8v0.8h-0.8zM346.01 26.44h0.8v0.8h-0.8zM339.36 32.29h0.8v0.8h-0.8zM330.24 31.29h0.8v0.8h-0.8zM355.36 36.16h0.8v0.8h-0.8zM343.23 31.36h0.8v0.8h-0.8zM338.19 34.77h0.8v0.8h-0.8zM363.53 28.25h0.8v0.8h-0.8zM328.68 22.26h0.8v0.8h-0.8zM341.01 20.29h0.8v0.8h-0.8zM350.85 28.69h0.8v0.8h-0.8zM332.77 28.21h0.8v0.8h-0.8zM345.75 49.22h0.8v0.8h-0.8zM326.96 27.54h0.8v0.8h-0.8zM337.23 33.69h0.8v0.8h-0.8zM326.07 26.34h0.8v0.8h-0.8zM342.79 37.73h0.8v0.8h-0.8zM337.09 31.89h0.8v0.8h-0.8zM348.69 30.66h0.8v0.8h-0.8zM359.57 23.98h0.8v0.8h-0.8zM334.1 19.14h0.8v0.8h-0.8zM357.15 27.41h0.8v0.8h-0.8zM324.82 27.19h0.8v0.8h-0.8zM363.45 34.27h0.8v0.8h-0.8zM355.81 39.04h0.8v0.8h-0.8zM351.12 31.56h0.8v0.8h-0.8zM330.53 31.65h0.8v0.8h-0.8zM342.84 29.21h0.8v0.8h-0.8zM333.13 35.97h0.8v0.8h-0.8zM338.17 23.85h0.8v0.8h-0.8zM351.59 24.12h0.8v0.8h-0.8zM352.49 25.23h0.8v0.8h-0.8zM334.08 27.99h0.8v0.8h-0.8zM348.1 36.41h0.8v0.8h-0.8zM330.14 26.87h0.8v0.8h-0.8zM345.66 29.2h0.8v0.8h-0.8zM356.4 38.23h0.8v0.8h-0.8zM344.41 22.89h0.8v0.8h-0.8zM347.82 33.03h0.8v0.8h-0.8zM323.87 37.14h0.8v0.8h-0.8zM346.63 25.79h0.8v0.8h-0.8zM340.75 36.33h0.8v0.8h-0.8zM342.75 21.19h0.8v0.8h-0.8zM351.49 23.37h0.8v0.8h-0.8zM342.18 33.39h0.8v0.8h-0.8zM339.06 34.19h0.8v0.8h-0.8zM340.15 40.96h0.8v0.8h-0.8zM338.08 25.27h0.8v0.8h-0.8zM353.65 21.55h0.8v0.8h-0.8zM314.76 22.87h0.8v0.8h-0.8zM343.07 32.13h0.8v0.8h-0.8zM352.66 40.33h0.8v0.8h-0.8zM346.42 23.65h0.8v0.8h-0.8zM342.18 27.96h0.8v0.8h-0.8zM329.27 30.9h0.8v0.8h-0.8zM359.06 33.2h0.8v0.8h-0.8zM323.5 35.98h0.8v0.8h-0.8zM333.43 32.54h0.8v0.8h-0.8zM354.67 38.13h0.8v0.8h-0.8zM337.74 25.22h0.8v0.8h-0.8zM355.21 27.67h0.8v0.8h-0.8zM335.36 33.05h0.8v0.8h-0.8zM332.36 52.47h0.8v0.8h-0.8zM342.77 33.23h0.8v0.8h-0.8zM351.7 21.82h0.8v0.8h-0.8zM334.83 19.38h0.8v0.8h-0.8zM351.53 40.28h0.8v0.8h-0.8zM344.57 30.77h0.8v0.8h-0.8zM346.23 40.38h0.8v0.8h-0.8zM353.52 32.96h0.8v0.8h-0.8zM333.67 44.14h0.8v0.8h-0.8zM341.29 30.92h0.8v0.8h-0.8zM323.21 28.5h0.8v0.8h-0.8zM337.93 34.95h0.8v0.8h-0.8zM341.07 25.45h0.8v0.8h-0.8zM349.88 31.53h0.8v0.8h-0.8zM348.75 21.81h0.8v0.8h-0.8zM331.31 48.12h0.8v0.8h-0.8zM348.39 26.2h0.8v0.8h-0.8zM331.94 19.96h0.8v0.8h-0.8zM333.37 24.66h0.8v0.8h-0.8zM337.55 34.57h0.8v0.8h-0.8zM344.86 26.24h0.8v0.8h-0.8zM350.47 39.43h0.8v0.8h-0.8zM331.26 22.51h0.8v0.8h-0.8zM345.95 39.67h0.8v0.8h-0.8zM340.64 37.12h0.8v0.8h-0.8zM329.02 20.54h0.8v0.8h-0.8zM334.89 26.45h0.8v0.8h-0.8zM340.03 24.35h0.8v0.8h-0.8zM338.83 29.78h0.8v0.8h-0.8zM355.2 27.05h0.8v0.8h-0.8zM330.04 31.46h0.8v0.8h-0.8zM347.2 34.34h0.8v0.8h-0.8zM324.12 34.7h0.8v0.8h-0.8zM339.22 23.2h0.8v0.8h-0.8zM348.51 36.52h0.8v0.8h-0.8zM352.41 49.49h0.8v0.8h-0.8zM346.79 26.77h0.8v0.8h-0.8zM333.67 21.3h0.8v0.8h-0.8zM343.19 29.32h0.8v0.8h-0.8zM343.93 35.52h0.8v0.8h-0.8zM328.94 35.04h0.8v0.8h-0.8zM340.08 35.63h0.8v0.8h-0.8zM355.62 43.41h0.8v0.8h-0.8zM330.86 30.2h0.8v0.8h-0.8zM351.89 30.13h0.8v0.8h-0.8zM344.09 39.67h0.8v0.8h-0.8zM343.82 34.77h0.8v0.8h-0.8zM328.37 35.5h0.8v0.8h-0.8zM358.97 21.1h0.8v0.8h-0.8zM327.48 25.08h0.8v0.8h-0.8zM347.08 35.28h0.8v0.8h-0.8zM352.44 36.01h0.8v0.8h-0.8zM332.82 26.6h0.8v0.8h-0.8zM338.89 27.42h0.8v0.8h-0.8zM339.74 28.4h0.8v0.8h-0.8zM339.44 36.14h0.8v0.8h-0.8zM349.43 32.41h0.8v0.8h-0.8zM339.34 39.71h0.8v0.8h-0.8zM320.96 30.83h0.8v0.8h-0.8zM328.19 26.42h0.8v0.8h-0.8zM333.74 30.34h0.8v0.8h-0.8zM353.34 35.65h0.8v0.8h-0.8zM341.13 28.57h0.8v0.8h-0.8zM350.13 33.81h0.8v0.8h-0.8zM345.88 36.3h0.8v0.8h-0.8zM346.13 23.77h0.8v0.8h-0.8zM333.3 34.76h0.8v0.8h-0.8zM342.85 26.31h0.8v0.8h-0.8zM335.86 20.88h0.8v0.8h-0.8zM360.54 36.39h0.8v0.8h-0.8zM351.95 20.86h0.8v0.8h-0.8zM334.28 20.76h0.8v0.8h-0.8zM334.06 22.8h0.8v0.8h-0.8zM346.68 24.65h0.8v0.8h-0.8zM340.19 31.09h0.8v0.8h-0.8zM325.95 49.78h0.8v0.8h-0.8zM334.77 29.76h0.8v0.8h-0.8zM340.81 29.14h0.8v0.8h-0.8zM335.08 35.02h0.8v0.8h-0.8zM345.46 21.75h0.8v0.8h-0.8zM340.96 31.6h0.8v0.8h-0.8zM332.49 31.08h0.8v0.8h-0.8zM339.8 19.45h0.8v0.8h-0.8zM352.88 28.43h0.8v0.8h-0.8zM362.16 26.7h0.8v0.8h-0.8zM348.88 38.79h0.8v0.8h-0.8zM344.5 24.78h0.8v0.8h-0.8zM347.52 43.1h0.8v0.8h-0.8zM350.59 40.76h0.8v0.8h-0.8zM337.37 37.78h0.8v0.8h-0.8zM353.33 43.47h0.8v0.8h-0.8zM341.27 36.2h0.8v0.8h-0.8zM338.24 34.63h0.8v0.8h-0.8zM349.41 28.45h0.8v0.8h-0.8zM350.68 39.5h0.8v0.8h-0.8zM320.62 30.95h0.8v0.8h-0.8zM329.81 19.43h0.8v0.8h-0.8zM335.9 27.36h0.8v0.8h-0.8zM341 35.8h0.8v0.8h-0.8zM353.94 32.23h0.8v0.8h-0.8zM346.69 25.73h0.8v0.8h-0.8zM330.65 25.94h0.8v0.8h-0.8zM360.17 34.23h0.8v0.8h-0.8zM354 29.11h0.8v0.8h-0.8zM345.56 43.18h0.8v0.8h-0.8zM339.58 30.6h0.8v0.8h-0.8zM344.99 44.92h0.8v0.8h-0.8zM327.99 49h0.8v0.8h-0.8zM338.25 37h0.8v0.8h-0.8zM337.54 31.91h0.8v0.8h-0.8zM345.16 23.35h0.8v0.8h-0.8zM343.07 31.84h0.8v0.8h-0.8zM340.29 22.47h0.8v0.8h-0.8zM360.8 31.76h0.8v0.8h-0.8zM327.78 31.97h0.8v0.8h-0.8zM330.5 19.63h0.8v0.8h-0.8zM339.08 29.53h0.8v0.8h-0.8zM337.53 26.82h0.8v0.8h-0.8zM342.91 29.16h0.8v0.8h-0.8zM322.57 40.63h0.8v0.8h-0.8zM341.53 35.03h0.8v0.8h-0.8zM348.24 38.16h0.8v0.8h-0.8zM342.58 30.76h0.8v0.8h-0.8zM358.51 31.55h0.8v0.8h-0.8zM344.82 38.14h0.8v0.8h-0.8zM343.43 45.42h0.8v0.8h-0.8zM333.99 28.09h0.8v0.8h-0.8zM345.94 31.12h0.8v0.8h-0.8zM335.01 20.09h0.8v0.8h-0.8zM353.6 26.78h0.8v0.8h-0.8zM356.05 25.3h0.8v0.8h-0.8zM340.06 20.66h0.8v0.8h-0.8zM348.24 24.99h0.8v0.8h-0.8zM342.14 25.4h0.8v0.8h-0.8zM359.17 31.13h0.8v0.8h-0.8zM333.92 33.88h0.8v0.8h-0.8zM316.74 26.78h0.8v0.8h-0.8zM339.64 23.75h0.8v0.8h-0.8zM344.38 33.07h0.8v0.8h-0.8zM339.11 25.39h0.8v0.8h-0.8zM340.42 22.4h0.8v0.8h-0.8zM338.43 33.96h0.8v0.8h-0.8zM329.81 37.64h0.8v0.8h-0.8zM326.81 34.83h0.8v0.8h-0.8zM343.23 29.48h0.8v0.8h-0.8zM338.15 26.04h0.8v0.8h-0.8zM344.2 28.76h0.8v0.8h-0.8zM339.03 36.06h0.8v0.8h-0.8zM344.8 33.48h0.8v0.8h-0.8zM361.48 32.27h0.8v0.8h-0.8zM341.9 31.86h0.8v0.8h-0.8zM332.17 19.59h0.8v0.8h-0.8zM335.87 31.56h0.8v0.8h-0.8zM338.84 32.11h0.8v0.8h-0.8zM342.62 37.35h0.8v0.8h-0.8zM346.56 27.36h0.8v0.8h-0.8zM337.08 25.34h0.8v0.8h-0.8zM332.55 22.63h0.8v0.8h-0.8zM327.45 42.16h0.8v0.8h-0.8zM345.37 29.32h0.8v0.8h-0.8zM346.82 26.36h0.8v0.8h-0.8zM342.93 25.87h0.8v0.8h-0.8zM360.46 43.21h0.8v0.8h-0.8zM347.81 35.63h0.8v0.8h-0.8zM347.18 37.38h0.8v0.8h-0.8zM341.74 40.09h0.8v0.8h-0.8zM350.85 35.2h0.8v0.8h-0.8zM363.2 27.92h0.8v0.8h-0.8zM335.67 48.73h0.8v0.8h-0.8zM362.6 20.35h0.8v0.8h-0.8zM348.8 21.22h0.8v0.8h-0.8zM358.96 27.83h0.8v0.8h-0.8zM346.28 30.59h0.8v0.8h-0.8zM332.23 29.13h0.8v0.8h-0.8zM342.55 27.36h0.8v0.8h-0.8zM328.88 19.93h0.8v0.8h-0.8zM356.92 32.16h0.8v0.8h-0.8zM359.6 33.27h0.8v0.8h-0.8zM348.49 33.72h0.8v0.8h-0.8zM343.62 25.99h0.8v0.8h-0.8zM359.59 41.75h0.8v0.8h-0.8zM334.33 31.72h0.8v0.8h-0.8zM336.4 38.27h0.8v0.8h-0.8zM334.6 33.73h0.8v0.8h-0.8zM353.02 36.19h0.8v0.8h-0.8zM343.86 26.09h0.8v0.8h-0.8zM333.1 30.14h0.8v0.8h-0.8zM357.75 33.17h0.8v0.8h-0.8zM337.01 21.98h0.8v0.8h-0.8zM346.26 28.79h0.8v0.8h-0.8zM349.98 25.57h0.8v0.8h-0.8zM333.47 31.89h0.8v0.8h-0.8zM354.71 27.08h0.8v0.8h-0.8zM343.4 23.56h0.8v0.8h-0.8zM345 32.66h0.8v0.8h-0.8zM339.52 24.59h0.8v0.8h-0.8zM329.77 33.31h0.8v0.8h-0.8zM351.33 26.52h0.8v0.8h-0.8zM336.74 33.92h0.8v0.8h-0.8zM335.97 21.63h0.8v0.8h-0.8zM336.13 36.45h0.8v0.8h-0.8zM334.1 33.31h0.8v0.8h-0.8zM333.22 29.46h0.8v0.8h-0.8zM350.74 24.74h0.8v0.8h-0.8zM339.67 32.95h0.8v0.8h-0.8zM340.93 32.42h0.8v0.8h-0.8zM342.55 33.65h0.8v0.8h-0.8zM341.36 24.49h0.8v0.8h-0.8zM347.24 31.55h0.8v0.8h-0.8zM344.27 24.62h0.8v0.8h-0.8zM345.71 21.84h0.8v0.8h-0.8zM325.49 26.33h0.8v0.8h-0.8zM356.39 32.11h0.8v0.8h-0.8zM348.42 26.12h0.8v0.8h-0.8zM353.48 28.66h0.8v0.8h-0.8zM339.7 31.66h0.8v0.8h-0.8zM337.68 31.61h0.8v0.8h-0.8zM341.57 39.44h0.8v0.8h-0.8zM342.69 35.31h0.8v0.8h-0.8zM357.81 29.32h0.8v0.8h-0.8zM344.93 29.96h0.8v0.8h-0.8zM338.02 32.05h0.8v0.8h-0.8zM342.78 25.78h0.8v0.8h-0.8zM335.74 26.98h0.8v0.8h-0.8zM334.82 25.3h0.8v0.8h-0.8zM352.62 28.31h0.8v0.8h-0.8zM339.18 32.78h0.8v0.8h-0.8zM345.4 43.35h0.8v0.8h-0.8zM332.34 28.83h0.8v0.8h-0.8zM340.8 34.69h0.8v0.8h-0.8zM332.5 31.18h0.8v0.8h-0.8zM339.15 32.94h0.8v0.8h-0.8zM358.85 35.62h0.8v0.8h-0.8zM345.97 29.16h0.8v0.8h-0.8zM320.56 26.03h0.8v0.8h-0.8zM342.81 27.07h0.8v0.8h-0.8zM345.3 31.56h0.8v0.8h-0.8zM338.66 28.51h0.8v0.8h-0.8zM340.3 26.82h0.8v0.8h-0.8zM322.14 26.74h0.8v0.8h-0.8zM330.62 38.18h0.8v0.8h-0.8zM347.14 28.21h0.8v0.8h-0.8zM346.62 19.1h0.8v0.8h-0.8zM334 31.4h0.8v0.8h-0.8zM323.24 31.66h0.8v0.8h-0.8zM321.11 38.19h0.8v0.8h-0.8zM344.98 30.44h0.8v0.8h-0.8zM353.15 32.66h0.8v0.8h-0.8zM357.41 37.09h0.8v0.8h-0.8zM344.14 34.49h0.8v0.8h-0.8zM338.91 34.59h0.8v0.8h-0.8zM341.79 33.48h0.8v0.8h-0.8zM353.46 25.65h0.8v0.8h-0.8zM348.39 35.19h0.8v0.8h-0.8zM337.66 36.65h0.8v0.8h-0.8zM324.92 44.11h0.8v0.8h-0.8zM342.98 49.79h0.8v0.8h-0.8zM335.98 33.3h0.8v0.8h-0.8zM345.27 39.01h0.8v0.8h-0.8zM342.15 25.85h0.8v0.8h-0.8zM352.92 25.63h0.8v0.8h-0.8zM348.71 31.39h0.8v0.8h-0.8zM347.92 28.23h0.8v0.8h-0.8zM329.21 37.08h0.8v0.8h-0.8zM344.33 31.23h0.8v0.8h-0.8zM341.82 34.87h0.8v0.8h-0.8zM344.8 33.76h0.8v0.8h-0.8zM340.32 30.67h0.8v0.8h-0.8zM342.48 34.84h0.8v0.8h-0.8zM342.95 44.03h0.8v0.8h-0.8zM342.19 32.93h0.8v0.8h-0.8zM342.26 24.64h0.8v0.8h-0.8zM336.57 32.82h0.8v0.8h-0.8zM344.05 25.45h0.8v0.8h-0.8zM341.38 38.69h0.8v0.8h-0.8zM342.69 30.66h0.8v0.8h-0.8zM338 24.12h0.8v0.8h-0.8zM344.95 32.22h0.8v0.8h-0.8zM364.43 30.07h0.8v0.8h-0.8zM331.94 28.07h0.8v0.8h-0.8zM357.22 34.11h0.8v0.8h-0.8zM348.69 35.02h0.8v0.8h-0.8zM326.39 38.26h0.8v0.8h-0.8zM352.63 29.97h0.8v0.8h-0.8zM351.39 23.52h0.8v0.8h-0.8zM337.8 26.42h0.8v0.8h-0.8zM333.55 29.75h0.8v0.8h-0.8zM334.17 38.09h0.8v0.8h-0.8zM331.27 23.99h0.8v0.8h-0.8zM325.89 32.24h0.8v0.8h-0.8zM339.21 23.54h0.8v0.8h-0.8zM342.48 19.62h0.8v0.8h-0.8zM348.96 45.09h0.8v0.8h-0.8zM340.61 34.95h0.8v0.8h-0.8zM348.28 30.28h0.8v0.8h-0.8zM347.4 25.98h0.8v0.8h-0.8zM350.17 26.32h0.8v0.8h-0.8zM337.01 33.82h0.8v0.8h-0.8zM354.79 37.36h0.8v0.8h-0.8zM351.38 35.17h0.8v0.8h-0.8zM343.52 30.37h0.8v0.8h-0.8zM363.87 44.67h0.8v0.8h-0.8zM333.69 27.45h0.8v0.8h-0.8z" fill="#3c52ab" opacity="0.35"/>
<path d="M336.39 30.89h0.8v0.8h-0.8zM326.03 38.65h0.8v0.8h-0.8zM344.87 35.48h0.8v0.8h-0.8zM347.4 29.46h0.8v0.8h-0.8zM323.3 34.74h0.8v0.8h-0.8zM328.9 35.62h0.8v0.8h-0.8zM328.88 34.19h0.8v0.8h-0.8zM351.44 20.07h0.8v0.8h-0.8zM346.1 33.29h0.8v0.8h-0.8zM357.44 42.55h0.8v0.8h-0.8zM351.8 49.58h0.8v0.8h-0.8zM350.52 33.6h0.8v0.8h-0.8zM353.55 43.53h0.8v0.8h-0.8zM351.13 26.66h0.8v0.8h-0.8zM330.31 36.68h0.8v0.8h-0.8zM342.36 28.81h0.8v0.8h-0.8zM341.84 39.67h0.8v0.8h-0.8zM341.27 24.27h0.8v0.8h-0.8zM355.1 30.45h0.8v0.8h-0.8zM338.54 39.08h0.8v0.8h-0.8zM329.33 25.69h0.8v0.8h-0.8zM350.18 38.81h0.8v0.8h-0.8zM339.09 33.62h0.8v0.8h-0.8zM331.91 29.46h0.8v0.8h-0.8zM354.05 22.16h0.8v0.8h-0.8zM359.4 35.48h0.8v0.8h-0.8zM332.98 23.1h0.8v0.8h-0.8zM344.4 27h0.8v0.8h-0.8zM334.42 36.3h0.8v0.8h-0.8zM363.33 23.41h0.8v0.8h-0.8zM343.72 34.94h0.8v0.8h-0.8zM348.74 23.72h0.8v0.8h-0.8zM355.22 22.82h0.8v0.8h-0.8zM345.76 21.26h0.8v0.8h-0.8zM339.95 24.45h0.8v0.8h-0.8zM343.64 21.57h0.8v0.8h-0.8zM344.83 28.67h0.8v0.8h-0.8zM353.61 31.22h0.8v0.8h-0.8zM340.41 47.76h0.8v0.8h-0.8zM337.64 29.76h0.8v0.8h-0.8zM335.76 36.59h0.8v0.8h-0.8zM354.86 23.72h0.8v0.8h-0.8zM336.39 25.85h0.8v0.8h-0.8zM322.06 29.08h0.8v0.8h-0.8zM327.12 33.45h0.8v0.8h-0.8zM337.44 29.27h0.8v0.8h-0.8zM346.2 35.39h0.8v0.8h-0.8zM346.52 20.07h0.8v0.8h-0.8zM338 45.29h0.8v0.8h-0.8zM351.86 32.49h0.8v0.8h-0.8zM341.39 32.42h0.8v0.8h-0.8zM327.13 25.78h0.8v0.8h-0.8zM335.07 25.02h0.8v0.8h-0.8zM341.04 41.85h0.8v0.8h-0.8zM336.79 27.14h0.8v0.8h-0.8zM340.02 31.15h0.8v0.8h-0.8zM335.47 32.27h0.8v0.8h-0.8zM327.76 30.24h0.8v0.8h-0.8zM331.82 30.02h0.8v0.8h-0.8zM345.77 41.3h0.8v0.8h-0.8zM352.38 31.61h0.8v0.8h-0.8zM347.19 21.76h0.8v0.8h-0.8zM333.39 38.96h0.8v0.8h-0.8zM331.74 21.17h0.8v0.8h-0.8zM330.07 41.8h0.8v0.8h-0.8zM337.67 20.76h0.8v0.8h-0.8zM338.34 38.58h0.8v0.8h-0.8zM338.98 28.93h0.8v0.8h-0.8zM346.88 35.87h0.8v0.8h-0.8zM359.57 35.61h0.8v0.8h-0.8zM343.17 27.24h0.8v0.8h-0.8zM342.97 33.62h0.8v0.8h-0.8zM345.9 27.44h0.8v0.8h-0.8zM338.72 34.31h0.8v0.8h-0.8zM342.93 33.76h0.8v0.8h-0.8zM329.42 32.5h0.8v0.8h-0.8zM336.53 31.8h0.8v0.8h-0.8zM342.75 30.39h0.8v0.8h-0.8zM338.75 38.5h0.8v0.8h-0.8zM343.6 28.1h0.8v0.8h-0.8zM331.49 42.82h0.8v0.8h-0.8zM342.89 26.22h0.8v0.8h-0.8zM345.86 25.84h0.8v0.8h-0.8zM332.26 35.71h0.8v0.8h-0.8zM332 20.76h0.8v0.8h-0.8zM331.77 36.28h0.8v0.8h-0.8zM338.94 30.37h0.8v0.8h-0.8zM344.39 32.36h0.8v0.8h-0.8zM354.53 25.75h0.8v0.8h-0.8zM345.79 28.24h0.8v0.8h-0.8zM334.86 28.94h0.8v0.8h-0.8zM353.28 30.04h0.8v0.8h-0.8zM338.03 30.12h0.8v0.8h-0.8zM343.01 34.49h0.8v0.8h-0.8zM338.58 39.61h0.8v0.8h-0.8zM319.5 34.98h0.8v0.8h-0.8zM336.62 22.05h0.8v0.8h-0.8zM352.96 40.88h0.8v0.8h-0.8zM347.74 29.8h0.8v0.8h-0.8zM324.83 32.75h0.8v0.8h-0.8zM348.63 22.72h0.8v0.8h-0.8zM342.98 25.93h0.8v0.8h-0.8zM341.88 31.4h0.8v0.8h-0.8zM343.41 40.16h0.8v0.8h-0.8zM351.12 25.38h0.8v0.8h-0.8zM338.75 39.91h0.8v0.8h-0.8zM342.53 46.83h0.8v0.8h-0.8zM337.98 31.66h0.8v0.8h-0.8zM362.02 30.15h0.8v0.8h-0.8zM336.07 28.49h0.8v0.8h-0.8zM340.82 28.07h0.8v0.8h-0.8zM342.5 32.93h0.8v0.8h-0.8zM355.95 27.09h0.8v0.8h-0.8zM348.98 34.81h0.8v0.8h-0.8zM334.53 35.32h0.8v0.8h-0.8zM360.12 23.42h0.8v0.8h-0.8zM334.41 25.45h0.8v0.8h-0.8zM341.45 26.6h0.8v0.8h-0.8zM354.84 32.45h0.8v0.8h-0.8zM338.93 34.66h0.8v0.8h-0.8zM350.54 35.9h0.8v0.8h-0.8zM341.67 35.69h0.8v0.8h-0.8zM346.04 29.56h0.8v0.8h-0.8zM360.05 32.28h0.8v0.8h-0.8zM337.48 27.7h0.8v0.8h-0.8zM332.82 30.25h0.8v0.8h-0.8zM352.91 19.27h0.8v0.8h-0.8zM350.66 34.86h0.8v0.8h-0.8zM349.38 43.16h0.8v0.8h-0.8zM335.2 40.95h0.8v0.8h-0.8zM323.04 24.1h0.8v0.8h-0.8zM356.66 25.88h0.8v0.8h-0.8zM334.81 32.16h0.8v0.8h-0.8zM345.45 36.04h0.8v0.8h-0.8zM330.22 31.33h0.8v0.8h-0.8zM351.17 28.35h0.8v0.8h-0.8zM323.13 41.16h0.8v0.8h-0.8zM338.08 35.41h0.8v0.8h-0.8zM315.18 22.96h0.8v0.8h-0.8zM348.94 28.87h0.8v0.8h-0.8zM338.28 30.49h0.8v0.8h-0.8zM358.93 45.22h0.8v0.8h-0.8zM355.99 33.15h0.8v0.8h-0.8zM319.55 37.95h0.8v0.8h-0.8zM321.25 29.94h0.8v0.8h-0.8zM352.71 35.61h0.8v0.8h-0.8zM332.45 36.77h0.8v0.8h-0.8zM316.66 25.74h0.8v0.8h-0.8zM338.02 36.55h0.8v0.8h-0.8zM335.57 51.23h0.8v0.8h-0.8zM360.49 36.78h0.8v0.8h-0.8zM335.39 23.94h0.8v0.8h-0.8zM358.29 38.75h0.8v0.8h-0.8zM353.48 42.01h0.8v0.8h-0.8zM351.53 24.14h0.8v0.8h-0.8zM351.16 22.37h0.8v0.8h-0.8zM340.6 25.26h0.8v0.8h-0.8zM334.31 42.07h0.8v0.8h-0.8zM336.8 34.55h0.8v0.8h-0.8zM348.54 29.79h0.8v0.8h-0.8zM354.33 33.65h0.8v0.8h-0.8zM338.18 39.26h0.8v0.8h-0.8zM353.26 29.21h0.8v0.8h-0.8zM344.46 27.08h0.8v0.8h-0.8zM339.36 33.06h0.8v0.8h-0.8zM337.18 30.73h0.8v0.8h-0.8zM362.89 30.1h0.8v0.8h-0.8zM347.54 45.29h0.8v0.8h-0.8zM340.08 29.44h0.8v0.8h-0.8zM341.68 30.42h0.8v0.8h-0.8zM338.74 26.97h0.8v0.8h-0.8zM352.99 28.38h0.8v0.8h-0.8zM335 40.96h0.8v0.8h-0.8zM339.48 32.55h0.8v0.8h-0.8zM320.01 22.2h0.8v0.8h-0.8zM333.52 44.76h0.8v0.8h-0.8zM337.5 39.97h0.8v0.8h-0.8zM347.2 33.23h0.8v0.8h-0.8zM352.36 48.21h0.8v0.8h-0.8zM334.46 35.04h0.8v0.8h-0.8zM332.35 29.55h0.8v0.8h-0.8zM342.21 35.56h0.8v0.8h-0.8zM336.02 37.21h0.8v0.8h-0.8zM352.65 39.03h0.8v0.8h-0.8zM333.13 26.72h0.8v0.8h-0.8zM340.08 28.24h0.8v0.8h-0.8zM334.89 23.42h0.8v0.8h-0.8zM350.63 43.25h0.8v0.8h-0.8zM346.11 24.55h0.8v0.8h-0.8zM347.74 29.31h0.8v0.8h-0.8zM335.68 21.66h0.8v0.8h-0.8zM339.63 25.98h0.8v0.8h-0.8zM330.69 36.41h0.8v0.8h-0.8zM344.72 36.63h0.8v0.8h-0.8zM327.64 26.26h0.8v0.8h-0.8zM340.85 29.25h0.8v0.8h-0.8zM341.16 33.98h0.8v0.8h-0.8zM337.5 23.56h0.8v0.8h-0.8zM350.09 38.01h0.8v0.8h-0.8zM338.56 28.45h0.8v0.8h-0.8zM357.68 47.11h0.8v0.8h-0.8zM344.41 27.99h0.8v0.8h-0.8zM352.79 33.22h0.8v0.8h-0.8zM337.58 29.69h0.8v0.8h-0.8zM350.59 41.69h0.8v0.8h-0.8zM333.42 37.51h0.8v0.8h-0.8zM351.19 38.61h0.8v0.8h-0.8zM344.41 32.07h0.8v0.8h-0.8zM335.04 31.63h0.8v0.8h-0.8zM356.81 34.75h0.8v0.8h-0.8zM346.94 28.62h0.8v0.8h-0.8zM330.37 28.76h0.8v0.8h-0.8zM338.21 39.71h0.8v0.8h-0.8zM327.67 32.22h0.8v0.8h-0.8zM337.34 29.98h0.8v0.8h-0.8zM332.28 37.94h0.8v0.8h-0.8zM345.79 25.03h0.8v0.8h-0.8zM341.81 35.58h0.8v0.8h-0.8zM325.55 35.57h0.8v0.8h-0.8zM342.57 25.48h0.8v0.8h-0.8zM334.13 37.58h0.8v0.8h-0.8zM329.15 32.85h0.8v0.8h-0.8zM350.02 28.67h0.8v0.8h-0.8zM339.07 32.38h0.8v0.8h-0.8zM334.67 27.97h0.8v0.8h-0.8zM340.02 26.29h0.8v0.8h-0.8zM321.99 35.76h0.8v0.8h-0.8zM335.67 26.5h0.8v0.8h-0.8zM352.07 30.46h0.8v0.8h-0.8zM343.6 29.86h0.8v0.8h-0.8zM328.45 36.6h0.8v0.8h-0.8zM336.06 36.17h0.8v0.8h-0.8zM334 41.05h0.8v0.8h-0.8zM352.88 29.91h0.8v0.8h-0.8zM334.09 37.58h0.8v0.8h-0.8zM342.91 31.7h0.8v0.8h-0.8zM356.74 38.48h0.8v0.8h-0.8zM350.23 39h0.8v0.8h-0.8zM335.97 26.15h0.8v0.8h-0.8zM332.55 28.18h0.8v0.8h-0.8zM337.16 37.55h0.8v0.8h-0.8zM359.57 29.55h0.8v0.8h-0.8zM355.16 20.3h0.8v0.8h-0.8zM347.2 29.93h0.8v0.8h-0.8zM340.18 37.15h0.8v0.8h-0.8zM347.26 27.18h0.8v0.8h-0.8zM336.47 22.39h0.8v0.8h-0.8zM350.24 43.74h0.8v0.8h-0.8zM343.36 30.85h0.8v0.8h-0.8zM342.09 23.18h0.8v0.8h-0.8zM349.53 29.36h0.8v0.8h-0.8zM340.2 37.15h0.8v0.8h-0.8zM318.52 40.15h0.8v0.8h-0.8zM356.65 34.3h0.8v0.8h-0.8zM327.76 32.68h0.8v0.8h-0.8zM328.63 30.4h0.8v0.8h-0.8zM357.12 25.52h0.8v0.8h-0.8zM344.01 29.46h0.8v0.8h-0.8zM329.11 41.67h0.8v0.8h-0.8zM346.14 33.83h0.8v0.8h-0.8zM345.98 22.97h0.8v0.8h-0.8zM337.8 26.22h0.8v0.8h-0.8zM357.41 30.79h0.8v0.8h-0.8zM342.75 37.72h0.8v0.8h-0.8zM359.46 43.74h0.8v0.8h-0.8zM340.05 25.31h0.8v0.8h-0.8zM329.59 35.02h0.8v0.8h-0.8zM340.17 33.35h0.8v0.8h-0.8zM333.13 36.88h0.8v0.8h-0.8zM352.03 36.65h0.8v0.8h-0.8zM338.75 23.86h0.8v0.8h-0.8zM343.64 33.3h0.8v0.8h-0.8zM334.12 20.91h0.8v0.8h-0.8zM319.97 26.87h0.8v0.8h-0.8zM325.85 27.02h0.8v0.8h-0.8zM340.41 30.47h0.8v0.8h-0.8zM345.89 28.17h0.8v0.8h-0.8zM349.99 30.6h0.8v0.8h-0.8zM353.39 24.04h0.8v0.8h-0.8zM335.26 44.24h0.8v0.8h-0.8zM334.16 36.57h0.8v0.8h-0.8zM340.62 27.26h0.8v0.8h-0.8zM319.57 35.6h0.8v0.8h-0.8zM325.34 26.29h0.8v0.8h-0.8zM329.39 36.24h0.8v0.8h-0.8zM339.06 23.72h0.8v0.8h-0.8zM345.95 34.07h0.8v0.8h-0.8zM354.51 43.71h0.8v0.8h-0.8zM339.27 34.6h0.8v0.8h-0.8zM353.35 27.82h0.8v0.8h-0.8zM340.11 31.08h0.8v0.8h-0.8zM320.72 20.35h0.8v0.8h-0.8zM343.97 34.78h0.8v0.8h-0.8zM350.56 32.95h0.8v0.8h-0.8zM333.12 31.74h0.8v0.8h-0.8zM349.61 42.11h0.8v0.8h-0.8zM347.81 20.54h0.8v0.8h-0.8zM354.75 33.27h0.8v0.8h-0.8zM353.14 19.09h0.8v0.8h-0.8zM345.62 28.59h0.8v0.8h-0.8zM340.4 39.66h0.8v0.8h-0.8zM347.24 33.23h0.8v0.8h-0.8zM339.52 27.39h0.8v0.8h-0.8zM359.71 30.79h0.8v0.8h-0.8zM353.87 33.01h0.8v0.8h-0.8zM326.35 24.73h0.8v0.8h-0.8zM341.1 41.75h0.8v0.8h-0.8zM359.26 28.57h0.8v0.8h-0.8zM344.02 41.35h0.8v0.8h-0.8zM334.36 33.66h0.8v0.8h-0.8zM350.19 25.49h0.8v0.8h-0.8zM333.25 26.26h0.8v0.8h-0.8zM338 30.18h0.8v0.8h-0.8zM349.78 22.94h0.8v0.8h-0.8zM344.77 26.05h0.8v0.8h-0.8zM325.58 42.25h0.8v0.8h-0.8zM338.16 35.81h0.8v0.8h-0.8zM349.13 35.63h0.8v0.8h-0.8zM354.44 32.42h0.8v0.8h-0.8zM328.21 42.63h0.8v0.8h-0.8zM319.24 21.27h0.8v0.8h-0.8zM348.26 29.94h0.8v0.8h-0.8zM338.05 24.97h0.8v0.8h-0.8zM322.64 42.87h0.8v0.8h-0.8zM351.71 40.62h0.8v0.8h-0.8zM331.74 19.46h0.8v0.8h-0.8zM342.13 25.38h0.8v0.8h-0.8zM339.95 24.12h0.8v0.8h-0.8zM345.02 28.14h0.8v0.8h-0.8zM333.46 28.35h0.8v0.8h-0.8zM335.85 19.71h0.8v0.8h-0.8zM351.61 20.63h0.8v0.8h-0.8zM332.48 35.84h0.8v0.8h-0.8zM340.05 33.19h0.8v0.8h-0.8zM335.52 23.01h0.8v0.8h-0.8zM329.74 19.58h0.8v0.8h-0.8zM359.78 29.02h0.8v0.8h-0.8zM325.6 34.12h0.8v0.8h-0.8zM341.45 33.41h0.8v0.8h-0.8zM333.7 31.6h0.8v0.8h-0.8zM353.67 32.47h0.8v0.8h-0.8zM324.49 43.35h0.8v0.8h-0.8zM339.89 21.84h0.8v0.8h-0.8zM322.81 42.07h0.8v0.8h-0.8zM333.77 23.87h0.8v0.8h-0.8zM345.74 37.61h0.8v0.8h-0.8zM347.07 42.2h0.8v0.8h-0.8zM351.3 31.65h0.8v0.8h-0.8zM347.97 32.19h0.8v0.8h-0.8zM347.98 25.82h0.8v0.8h-0.8zM337.86 31.26h0.8v0.8h-0.8zM349.2 24.06h0.8v0.8h-0.8zM335.16 30.76h0.8v0.8h-0.8zM327.03 35.4h0.8v0.8h-0.8zM353.3 43.63h0.8v0.8h-0.8zM338.25 30.43h0.8v0.8h-0.8zM335.24 38.62h0.8v0.8h-0.8zM348.76 31.22h0.8v0.8h-0.8zM359.3 19.28h0.8v0.8h-0.8zM352.64 33.62h0.8v0.8h-0.8zM339.67 23.29h0.8v0.8h-0.8zM338.05 28.83h0.8v0.8h-0.8zM316.98 29.92h0.8v0.8h-0.8zM346.56 38.69h0.8v0.8h-0.8zM348.76 34h0.8v0.8h-0.8zM331.06 30.03h0.8v0.8h-0.8zM352.21 46.14h0.8v0.8h-0.8zM341.82 34.75h0.8v0.8h-0.8zM343.36 29.62h0.8v0.8h-0.8zM354.38 31.72h0.8v0.8h-0.8zM344.51 45.49h0.8v0.8h-0.8zM343.42 32.59h0.8v0.8h-0.8zM319.1 27.06h0.8v0.8h-0.8zM347.84 33.58h0.8v0.8h-0.8zM348.21 30.72h0.8v0.8h-0.8zM339.87 37.81h0.8v0.8h-0.8zM338.94 25.83h0.8v0.8h-0.8zM344.01 33.89h0.8v0.8h-0.8zM349.15 25.05h0.8v0.8h-0.8zM347.37 33.97h0.8v0.8h-0.8zM338.9 29.74h0.8v0.8h-0.8zM347.07 28.72h0.8v0.8h-0.8zM344.43 35.62h0.8v0.8h-0.8zM346.48 26.86h0.8v0.8h-0.8zM339.75 38.76h0.8v0.8h-0.8zM331.83 31.35h0.8v0.8h-0.8zM350.62 33.74h0.8v0.8h-0.8zM344.93 40.4h0.8v0.8h-0.8zM330.87 32.12h0.8v0.8h-0.8zM343.16 27.37h0.8v0.8h-0.8zM338.91 28.67h0.8v0.8h-0.8zM338.73 23.39h0.8v0.8h-0.8zM334.89 29.82h0.8v0.8h-0.8zM339.2 27.71h0.8v0.8h-0.8zM353.06 40.98h0.8v0.8h-0.8zM341.45 29.82h0.8v0.8h-0.8zM346.53 25.95h0.8v0.8h-0.8zM321.49 22.71h0.8v0.8h-0.8zM347.93 31.66h0.8v0.8h-0.8zM348.91 29.38h0.8v0.8h-0.8zM336.95 27.63h0.8v0.8h-0.8zM353.74 57.36h0.8v0.8h-0.8zM338.43 49.84h0.8v0.8h-0.8zM348.13 31.87h0.8v0.8h-0.8zM340.95 29.68h0.8v0.8h-0.8zM332.57 27.06h0.8v0.8h-0.8zM339.17 47.59h0.8v0.8h-0.8zM331.24 35.14h0.8v0.8h-0.8zM332.58 27.2h0.8v0.8h-0.8zM334.75 23.21h0.8v0.8h-0.8zM329.67 34.67h0.8v0.8h-0.8zM355.83 28.29h0.8v0.8h-0.8zM331.4 44.88h0.8v0.8h-0.8zM362.2 26.99h0.8v0.8h-0.8zM339.46 24.39h0.8v0.8h-0.8zM347.27 31.84h0.8v0.8h-0.8zM331.24 24.28h0.8v0.8h-0.8zM333.13 29.28h0.8v0.8h-0.8zM327.67 24.44h0.8v0.8h-0.8zM342.86 25.11h0.8v0.8h-0.8zM343.89 33.19h0.8v0.8h-0.8zM326.3 28.55h0.8v0.8h-0.8zM349.03 28.58h0.8v0.8h-0.8zM344.3 43.4h0.8v0.8h-0.8zM344.99 23.61h0.8v0.8h-0.8zM347.12 23.95h0.8v0.8h-0.8zM346.08 44.09h0.8v0.8h-0.8zM342.44 36.41h0.8v0.8h-0.8zM344.37 25.21h0.8v0.8h-0.8zM338.67 36.35h0.8v0.8h-0.8zM344.99 32.65h0.8v0.8h-0.8zM331.11 30.35h0.8v0.8h-0.8zM342.51 28.02h0.8v0.8h-0.8zM345.16 30.48h0.8v0.8h-0.8zM347.68 22.35h0.8v0.8h-0.8zM345.01 34.78h0.8v0.8h-0.8zM335.45 27.49h0.8v0.8h-0.8zM338 35.48h0.8v0.8h-0.8zM353.69 42.04h0.8v0.8h-0.8zM335.72 41.43h0.8v0.8h-0.8zM340.71 30.54h0.8v0.8h-0.8zM325.19 21.69h0.8v0.8h-0.8zM343.21 37.06h0.8v0.8h-0.8zM339.7 19.37h0.8v0.8h-0.8zM341.7 41.22h0.8v0.8h-0.8zM331.14 42.14h0.8v0.8h-0.8zM346.75 27.45h0.8v0.8h-0.8zM338.71 31.03h0.8v0.8h-0.8zM336.5 26.34h0.8v0.8h-0.8zM351.95 25.02h0.8v0.8h-0.8zM355.14 24.29h0.8v0.8h-0.8zM344.99 29.4h0.8v0.8h-0.8zM355.05 33.03h0.8v0.8h-0.8zM351.19 34.38h0.8v0.8h-0.8zM335.79 27.76h0.8v0.8h-0.8zM346.05 44.01h0.8v0.8h-0.8zM352.25 25.63h0.8v0.8h-0.8zM344.62 39.57h0.8v0.8h-0.8zM344.82 44.98h0.8v0.8h-0.8zM339.03 37.98h0.8v0.8h-0.8zM343.57 21.69h0.8v0.8h-0.8zM335.6 36.85h0.8v0.8h-0.8zM350.89 27.59h0.8v0.8h-0.8zM347.83 36.29h0.8v0.8h-0.8zM328.51 22.53h0.8v0.8h-0.8zM334.77 37.98h0.8v0.8h-0.8zM334.7 24.89h0.8v0.8h-0.8zM343.74 25.7h0.8v0.8h-0.8zM334.21 29.64h0.8v0.8h-0.8zM339.36 35.57h0.8v0.8h-0.8zM342.3 21.57h0.8v0.8h-0.8zM347.19 33.89h0.8v0.8h-0.8zM324.19 45.94h0.8v0.8h-0.8zM337.33 37.39h0.8v0.8h-0.8zM326.37 20.44h0.8v0.8h-0.8zM340.94 30.93h0.8v0.8h-0.8zM331.22 38.04h0.8v0.8h-0.8zM354.47 26.82h0.8v0.8h-0.8zM357.24 30.38h0.8v0.8h-0.8zM337.46 29.01h0.8v0.8h-0.8zM341.18 34.39h0.8v0.8h-0.8zM326.96 35.03h0.8v0.8h-0.8zM351.52 34.74h0.8v0.8h-0.8zM340.88 33.44h0.8v0.8h-0.8zM342.59 23.28h0.8v0.8h-0.8zM322.08 40.96h0.8v0.8h-0.8zM350.6 28.51h0.8v0.8h-0.8zM330.31 20.44h0.8v0.8h-0.8zM324.68 33.01h0.8v0.8h-0.8zM333.6 24.67h0.8v0.8h-0.8zM344.44 38.06h0.8v0.8h-0.8zM331.18 37.8h0.8v0.8h-0.8zM360.42 23.37h0.8v0.8h-0.8zM334.11 31.24h0.8v0.8h-0.8zM333.85 31.05h0.8v0.8h-0.8zM332.55 36.83h0.8v0.8h-0.8zM343.12 24.93h0.8v0.8h-0.8zM338.1 26.21h0.8v0.8h-0.8zM337.79 23.11h0.8v0.8h-0.8zM333.2 30.4h0.8v0.8h-0.8zM329.29 24.83h0.8v0.8h-0.8zM354.73 38.42h0.8v0.8h-0.8zM334.76 35.46h0.8v0.8h-0.8zM333.05 28.91h0.8v0.8h-0.8zM351.65 35.66h0.8v0.8h-0.8zM333.02 27.07h0.8v0.8h-0.8zM344.48 36.14h0.8v0.8h-0.8zM346.81 35.94h0.8v0.8h-0.8zM341.92 26.44h0.8v0.8h-0.8zM349.33 40.07h0.8v0.8h-0.8zM339.57 28.25h0.8v0.8h-0.8zM354.99 36.6h0.8v0.8h-0.8zM340.66 32.7h0.8v0.8h-0.8zM330.83 38.12h0.8v0.8h-0.8zM347.13 40.78h0.8v0.8h-0.8zM358.8 25.81h0.8v0.8h-0.8zM344.6 32.87h0.8v0.8h-0.8zM346.41 47.76h0.8v0.8h-0.8zM333.1 39.81h0.8v0.8h-0.8zM350.46 37.47h0.8v0.8h-0.8zM343.04 34.97h0.8v0.8h-0.8zM332.98 31.68h0.8v0.8h-0.8zM339.56 29.79h0.8v0.8h-0.8zM332.86 33.26h0.8v0.8h-0.8zM329.91 28.68h0.8v0.8h-0.8zM329.18 37.35h0.8v0.8h-0.8zM327.16 35.72h0.8v0.8h-0.8zM331.85 22.91h0.8v0.8h-0.8zM333.27 29.08h0.8v0.8h-0.8zM327.29 29.38h0.8v0.8h-0.8zM344.42 26.24h0.8v0.8h-0.8zM341.06 22.93h0.8v0.8h-0.8zM353.7 19.55h0.8v0.8h-0.8zM357.8 41.3h0.8v0.8h-0.8zM341.56 27.57h0.8v0.8h-0.8zM335.71 22.45h0.8v0.8h-0.8zM344 36.88h0.8v0.8h-0.8zM336.05 24.96h0.8v0.8h-0.8zM329.46 29.91h0.8v0.8h-0.8zM339.92 43.02h0.8v0.8h-0.8zM348.12 39.44h0.8v0.8h-0.8z" fill="#3c52ab" opacity="0.55"/>
<path d="M329.47 20.35h0.8v0.8h-0.8zM347.39 34.68h0.8v0.8h-0.8zM344.62 26.81h0.8v0.8h-0.8zM350.2 22.26h0.8v0.8h-0.8zM344.63 28.02h0.8v0.8h-0.8zM330.06 40.44h0.8v0.8h-0.8zM339.12 30.87h0.8v0.8h-0.8zM352.74 29.38h0.8v0.8h-0.8zM346.85 34.71h0.8v0.8h-0.8zM345.21 31.66h0.8v0.8h-0.8zM336.27 28.49h0.8v0.8h-0.8zM331.12 25.84h0.8v0.8h-0.8zM346.18 34.64h0.8v0.8h-0.8zM354.91 34.83h0.8v0.8h-0.8zM338.83 28.18h0.8v0.8h-0.8zM340.12 25.65h0.8v0.8h-0.8zM335.46 21.38h0.8v0.8h-0.8zM341.52 36.13h0.8v0.8h-0.8zM345.54 37.49h0.8v0.8h-0.8zM343.48 46.24h0.8v0.8h-0.8zM327.17 35.32h0.8v0.8h-0.8zM337 21.71h0.8v0.8h-0.8zM344.82 31.89h0.8v0.8h-0.8zM342.49 26.35h0.8v0.8h-0.8zM344.87 29.37h0.8v0.8h-0.8zM342.76 32.76h0.8v0.8h-0.8zM356.23 37.1h0.8v0.8h-0.8zM342.61 29.29h0.8v0.8h-0.8zM343.33 24.61h0.8v0.8h-0.8zM354.34 33.69h0.8v0.8h-0.8zM355.12 29.08h0.8v0.8h-0.8zM342.7 35.19h0.8v0.8h-0.8zM343.22 22.92h0.8v0.8h-0.8zM338.54 37.99h0.8v0.8h-0.8zM332.23 30.95h0.8v0.8h-0.8zM343.15 38.74h0.8v0.8h-0.8zM329.31 25.04h0.8v0.8h-0.8zM332.36 22.55h0.8v0.8h-0.8zM345.04 36.53h0.8v0.8h-0.8zM348.41 22.4h0.8v0.8h-0.8zM338.95 35h0.8v0.8h-0.8zM347.99 30.87h0.8v0.8h-0.8zM337.9 23.27h0.8v0.8h-0.8zM333.9 26.68h0.8v0.8h-0.8zM342.95 44.69h0.8v0.8h-0.8zM350.42 22.44h0.8v0.8h-0.8zM354.58 22.74h0.8v0.8h-0.8zM342.48 38.07h0.8v0.8h-0.8zM344.87 37.16h0.8v0.8h-0.8zM318.86 29.59h0.8v0.8h-0.8zM331.64 23.42h0.8v0.8h-0.8zM341.32 35.97h0.8v0.8h-0.8zM333.82 32.16h0.8v0.8h-0.8zM337.04 23.77h0.8v0.8h-0.8zM344.85 24.72h0.8v0.8h-0.8zM343.57 26.9h0.8v0.8h-0.8zM328.45 23.32h0.8v0.8h-0.8zM352.28 25.89h0.8v0.8h-0.8zM345.51 27.06h0.8v0.8h-0.8zM342.13 35.2h0.8v0.8h-0.8zM329.4 32.8h0.8v0.8h-0.8zM346 37h0.8v0.8h-0.8zM355.5 32.71h0.8v0.8h-0.8zM332.58 41.21h0.8v0.8h-0.8zM330.64 24.53h0.8v0.8h-0.8zM353.61 25.83h0.8v0.8h-0.8zM351.02 39.36h0.8v0.8h-0.8zM355.74 33.44h0.8v0.8h-0.8zM343.56 23.76h0.8v0.8h-0.8zM336.28 22.5h0.8v0.8h-0.8zM340.77 31.42h0.8v0.8h-0.8zM330.96 39.67h0.8v0.8h-0.8zM343.72 31.09h0.8v0.8h-0.8zM360.31 27.51h0.8v0.8h-0.8zM350.91 33.46h0.8v0.8h-0.8zM358.48 26.84h0.8v0.8h-0.8zM337.92 35.9h0.8v0.8h-0.8zM357.38 29.22h0.8v0.8h-0.8zM331.14 38.44h0.8v0.8h-0.8zM340.68 34.74h0.8v0.8h-0.8zM358.41 46.2h0.8v0.8h-0.8zM339.59 33.42h0.8v0.8h-0.8zM332.24 31.66h0.8v0.8h-0.8zM348.64 28.87h0.8v0.8h-0.8zM351.38 33.49h0.8v0.8h-0.8zM344.24 35.13h0.8v0.8h-0.8zM338.67 33.36h0.8v0.8h-0.8zM334.47 27.31h0.8v0.8h-0.8zM320.37 38.6h0.8v0.8h-0.8zM354.12 33.81h0.8v0.8h-0.8zM328.85 27.05h0.8v0.8h-0.8zM336.96 34.72h0.8v0.8h-0.8zM345.26 30.12h0.8v0.8h-0.8zM341.4 39.39h0.8v0.8h-0.8zM332.88 26.96h0.8v0.8h-0.8zM360.37 25.34h0.8v0.8h-0.8zM336.87 33.11h0.8v0.8h-0.8zM347.53 30.47h0.8v0.8h-0.8zM331.21 30.49h0.8v0.8h-0.8zM347.97 28.42h0.8v0.8h-0.8zM350.12 43.22h0.8v0.8h-0.8zM326.84 23.22h0.8v0.8h-0.8zM345.76 40.27h0.8v0.8h-0.8zM343.09 33.47h0.8v0.8h-0.8zM357.15 33.49h0.8v0.8h-0.8zM341.2 30.62h0.8v0.8h-0.8zM330.01 31.27h0.8v0.8h-0.8zM346.27 36.26h0.8v0.8h-0.8zM355.44 32.05h0.8v0.8h-0.8zM358.11 39.51h0.8v0.8h-0.8zM349.85 38.29h0.8v0.8h-0.8zM353.39 33.79h0.8v0.8h-0.8zM354.16 26.18h0.8v0.8h-0.8zM320.07 26.83h0.8v0.8h-0.8zM351.77 37.45h0.8v0.8h-0.8zM345.42 29.29h0.8v0.8h-0.8zM334.92 28.38h0.8v0.8h-0.8zM331.98 25.2h0.8v0.8h-0.8zM329.78 33.15h0.8v0.8h-0.8zM342.34 35.95h0.8v0.8h-0.8zM343.97 31.51h0.8v0.8h-0.8zM331.68 40.42h0.8v0.8h-0.8zM345.93 48.5h0.8v0.8h-0.8zM351.5 28.07h0.8v0.8h-0.8zM333 39.4h0.8v0.8h-0.8zM335.82 27.39h0.8v0.8h-0.8zM340.35 40.81h0.8v0.8h-0.8zM359.03 31.32h0.8v0.8h-0.8zM349.45 35.74h0.8v0.8h-0.8zM328.73 29.46h0.8v0.8h-0.8zM335.82 35.03h0.8v0.8h-0.8zM340.14 34.69h0.8v0.8h-0.8zM330 30.08h0.8v0.8h-0.8zM332.06 35.44h0.8v0.8h-0.8zM328.92 25.4h0.8v0.8h-0.8zM333.72 24.74h0.8v0.8h-0.8zM347.81 40h0.8v0.8h-0.8zM352.18 36.65h0.8v0.8h-0.8zM342.74 31.04h0.8v0.8h-0.8zM343.54 22.01h0.8v0.8h-0.8zM349.39 37.7h0.8v0.8h-0.8zM333.08 22.39h0.8v0.8h-0.8zM341.59 32.79h0.8v0.8h-0.8zM359.55 39.86h0.8v0.8h-0.8zM348.02 32.76h0.8v0.8h-0.8zM345.71 30.66h0.8v0.8h-0.8zM333.37 34.65h0.8v0.8h-0.8zM322.48 38.26h0.8v0.8h-0.8zM347.04 36.5h0.8v0.8h-0.8zM330.34 36.54h0.8v0.8h-0.8zM348.4 47.59h0.8v0.8h-0.8zM347.58 44.28h0.8v0.8h-0.8zM332.06 29.46h0.8v0.8h-0.8zM357.68 32.04h0.8v0.8h-0.8zM333.24 28.48h0.8v0.8h-0.8zM342.35 26.42h0.8v0.8h-0.8zM324.02 39.74h0.8v0.8h-0.8zM343.8 30.04h0.8v0.8h-0.8zM339.95 36.38h0.8v0.8h-0.8zM341.07 22.15h0.8v0.8h-0.8zM355.3 26.31h0.8v0.8h-0.8zM341.74 31.25h0.8v0.8h-0.8zM341.33 33.02h0.8v0.8h-0.8zM347.5 46.04h0.8v0.8h-0.8zM350.9 27.24h0.8v0.8h-0.8zM333.47 33.25h0.8v0.8h-0.8zM338.98 26.74h0.8v0.8h-0.8zM335.54 31.3h0.8v0.8h-0.8zM316.71 25.69h0.8v0.8h-0.8zM342.57 36.19h0.8v0.8h-0.8zM340.08 27.51h0.8v0.8h-0.8zM336.98 35.74h0.8v0.8h-0.8zM342.4 26.75h0.8v0.8h-0.8zM347.74 37.45h0.8v0.8h-0.8zM355.73 36.6h0.8v0.8h-0.8zM353.15 28.82h0.8v0.8h-0.8zM333.35 23.24h0.8v0.8h-0.8zM340.16 35.3h0.8v0.8h-0.8zM321.01 28.63h0.8v0.8h-0.8zM354.5 33.32h0.8v0.8h-0.8zM355.58 30.74h0.8v0.8h-0.8zM361.17 31.24h0.8v0.8h-0.8zM334.72 33.58h0.8v0.8h-0.8zM360.05 31.33h0.8v0.8h-0.8zM340.47 24.81h0.8v0.8h-0.8zM350.15 24.55h0.8v0.8h-0.8zM348.37 31.79h0.8v0.8h-0.8zM336.86 25.29h0.8v0.8h-0.8zM338.2 27.36h0.8v0.8h-0.8zM341.89 39.11h0.8v0.8h-0.8zM329.95 33.27h0.8v0.8h-0.8zM351.1 36.48h0.8v0.8h-0.8zM324.17 25.42h0.8v0.8h-0.8zM351.63 34.36h0.8v0.8h-0.8zM330.95 30.26h0.8v0.8h-0.8zM323.27 37.58h0.8v0.8h-0.8zM329.13 40.97h0.8v0.8h-0.8zM342.81 39.38h0.8v0.8h-0.8zM355.57 44.11h0.8v0.8h-0.8zM332.79 19.35h0.8v0.8h-0.8zM350.82 24.86h0.8v0.8h-0.8zM331.54 24.09h0.8v0.8h-0.8zM346.44 43.57h0.8v0.8h-0.8zM342.16 45.31h0.8v0.8h-0.8zM347.39 32.11h0.8v0.8h-0.8zM334.2 31h0.8v0.8h-0.8zM344.63 30.91h0.8v0.8h-0.8zM344.15 21.2h0.8v0.8h-0.8zM358.48 19.15h0.8v0.8h-0.8zM336.84 36.58h0.8v0.8h-0.8zM342.61 45.21h0.8v0.8h-0.8zM345.96 34.85h0.8v0.8h-0.8zM331.61 33.21h0.8v0.8h-0.8zM337.24 28.98h0.8v0.8h-0.8zM336.21 41.52h0.8v0.8h-0.8zM351.37 30.48h0.8v0.8h-0.8zM338.73 29.31h0.8v0.8h-0.8zM344.09 37.05h0.8v0.8h-0.8zM353.38 32.37h0.8v0.8h-0.8zM329.07 28.76h0.8v0.8h-0.8zM358.1 47.23h0.8v0.8h-0.8zM343.4 25.06h0.8v0.8h-0.8zM338.38 28.48h0.8v0.8h-0.8zM341.22 40.54h0.8v0.8h-0.8zM345.7 34.53h0.8v0.8h-0.8zM352.71 21.42h0.8v0.8h-0.8zM344.01 31.27h0.8v0.8h-0.8zM349.68 34.42h0.8v0.8h-0.8zM328.2 26.09h0.8v0.8h-0.8zM339.77 27.36h0.8v0.8h-0.8zM343.03 33.07h0.8v0.8h-0.8zM336.49 21.57h0.8v0.8h-0.8zM362.23 29.42h0.8v0.8h-0.8zM340.78 38.28h0.8v0.8h-0.8zM337.11 27.12h0.8v0.8h-0.8zM348.86 28.6h0.8v0.8h-0.8zM351.66 20.78h0.8v0.8h-0.8zM337.7 24.06h0.8v0.8h-0.8zM343.38 40.82h0.8v0.8h-0.8zM332.41 36.31h0.8v0.8h-0.8zM351.51 26.7h0.8v0.8h-0.8zM334.31 38.63h0.8v0.8h-0.8zM343 34.81h0.8v0.8h-0.8zM330.1 20.86h0.8v0.8h-0.8zM335.26 35.71h0.8v0.8h-0.8zM342.32 27.02h0.8v0.8h-0.8zM349.9 36.93h0.8v0.8h-0.8zM344.43 25.93h0.8v0.8h-0.8zM334.79 27.77h0.8v0.8h-0.8zM340.96 38.48h0.8v0.8h-0.8zM336.08 36.53h0.8v0.8h-0.8zM351.54 38.06h0.8v0.8h-0.8zM356.22 37.17h0.8v0.8h-0.8zM326.22 27.38h0.8v0.8h-0.8zM350.42 34.57h0.8v0.8h-0.8zM350.05 24.09h0.8v0.8h-0.8zM346.61 34.52h0.8v0.8h-0.8zM348.9 45.95h0.8v0.8h-0.8zM331.97 29.52h0.8v0.8h-0.8zM344.37 25.43h0.8v0.8h-0.8zM348.79 49.22h0.8v0.8h-0.8zM355.42 41.93h0.8v0.8h-0.8zM340.31 31.02h0.8v0.8h-0.8zM344.91 41.99h0.8v0.8h-0.8zM343.92 32.98h0.8v0.8h-0.8zM340.03 35.9h0.8v0.8h-0.8zM346.58 20.51h0.8v0.8h-0.8zM335.37 29.53h0.8v0.8h-0.8zM351.04 32.57h0.8v0.8h-0.8zM322.12 32.34h0.8v0.8h-0.8zM334.57 28.19h0.8v0.8h-0.8zM338.79 28.03h0.8v0.8h-0.8zM344.07 28.62h0.8v0.8h-0.8zM336.14 31.84h0.8v0.8h-0.8zM355.51 24.86h0.8v0.8h-0.8zM344.61 32.43h0.8v0.8h-0.8zM352.5 30.91h0.8v0.8h-0.8zM342.7 43.08h0.8v0.8h-0.8zM355.42 33.49h0.8v0.8h-0.8zM343.36 27.15h0.8v0.8h-0.8zM355.98 24.62h0.8v0.8h-0.8zM355.66 24.48h0.8v0.8h-0.8zM332.99 26.97h0.8v0.8h-0.8zM334.29 47.99h0.8v0.8h-0.8zM342.83 40.3h0.8v0.8h-0.8zM342.98 39.13h0.8v0.8h-0.8zM344.47 29.56h0.8v0.8h-0.8zM338.74 23.79h0.8v0.8h-0.8zM337.38 34.8h0.8v0.8h-0.8zM338.85 36.72h0.8v0.8h-0.8zM347.97 34.19h0.8v0.8h-0.8zM340.38 19.35h0.8v0.8h-0.8zM340.01 28.59h0.8v0.8h-0.8zM332.49 38.86h0.8v0.8h-0.8zM343.26 28.71h0.8v0.8h-0.8zM359.77 35.65h0.8v0.8h-0.8zM350.54 45.47h0.8v0.8h-0.8zM351.55 33.02h0.8v0.8h-0.8zM318 20.4h0.8v0.8h-0.8zM342.65 25.21h0.8v0.8h-0.8zM331.26 20.82h0.8v0.8h-0.8zM334.54 24.73h0.8v0.8h-0.8zM350.8 25.98h0.8v0.8h-0.8zM359.35 41.37h0.8v0.8h-0.8zM323.87 35.1h0.8v0.8h-0.8zM342.39 28.98h0.8v0.8h-0.8zM345.2 28.78h0.8v0.8h-0.8zM337.49 24.5h0.8v0.8h-0.8zM348.55 34.86h0.8v0.8h-0.8zM349.15 41.04h0.8v0.8h-0.8zM330.1 29.31h0.8v0.8h-0.8zM342.72 31.23h0.8v0.8h-0.8zM345.63 42.02h0.8v0.8h-0.8zM343.84 21.55h0.8v0.8h-0.8zM338.56 37.16h0.8v0.8h-0.8zM336.66 49.53h0.8v0.8h-0.8zM327.48 34.02h0.8v0.8h-0.8zM337.19 27.93h0.8v0.8h-0.8zM342.24 28.21h0.8v0.8h-0.8zM359.24 32.26h0.8v0.8h-0.8zM356.03 25.6h0.8v0.8h-0.8zM361.89 32.14h0.8v0.8h-0.8zM341.79 22.31h0.8v0.8h-0.8zM338.32 34.3h0.8v0.8h-0.8zM339.85 31.81h0.8v0.8h-0.8zM344.83 36.3h0.8v0.8h-0.8zM339.1 31.47h0.8v0.8h-0.8zM338.53 33.21h0.8v0.8h-0.8zM329.22 33.51h0.8v0.8h-0.8zM342.95 21.93h0.8v0.8h-0.8zM354.92 31.28h0.8v0.8h-0.8zM348.34 22.13h0.8v0.8h-0.8zM342.48 28.92h0.8v0.8h-0.8zM317.18 33.32h0.8v0.8h-0.8zM346.57 33.22h0.8v0.8h-0.8zM324.57 26.53h0.8v0.8h-0.8zM329.24 27.36h0.8v0.8h-0.8zM344.95 32.1h0.8v0.8h-0.8zM333.71 25.88h0.8v0.8h-0.8zM346.02 41.62h0.8v0.8h-0.8zM338.77 29.07h0.8v0.8h-0.8zM339.33 33.49h0.8v0.8h-0.8zM342.44 27.05h0.8v0.8h-0.8zM358.27 24.06h0.8v0.8h-0.8zM350.96 35.24h0.8v0.8h-0.8zM335.69 24.42h0.8v0.8h-0.8zM355.7 23.05h0.8v0.8h-0.8zM342.79 33.25h0.8v0.8h-0.8zM352.99 27.46h0.8v0.8h-0.8zM337.46 28.22h0.8v0.8h-0.8zM341.89 32.66h0.8v0.8h-0.8zM351.55 23.53h0.8v0.8h-0.8zM356 28.77h0.8v0.8h-0.8zM339.51 21.03h0.8v0.8h-0.8zM350.01 39.6h0.8v0.8h-0.8zM331.22 37.82h0.8v0.8h-0.8zM350.62 28.43h0.8v0.8h-0.8zM341.07 27.24h0.8v0.8h-0.8zM341.9 37.69h0.8v0.8h-0.8zM344.25 30.29h0.8v0.8h-0.8zM350.29 36.17h0.8v0.8h-0.8zM348.39 33.16h0.8v0.8h-0.8zM360.48 41.71h0.8v0.8h-0.8zM353.4 33.93h0.8v0.8h-0.8zM342.63 31.94h0.8v0.8h-0.8zM328.26 40.78h0.8v0.8h-0.8zM352.29 41.57h0.8v0.8h-0.8zM329.68 33.55h0.8v0.8h-0.8zM336.12 34.56h0.8v0.8h-0.8zM347.11 21.46h0.8v0.8h-0.8zM336.28 29.11h0.8v0.8h-0.8zM333.87 37.35h0.8v0.8h-0.8zM333.97 25.43h0.8v0.8h-0.8zM327.13 32.63h0.8v0.8h-0.8zM347.89 28.01h0.8v0.8h-0.8zM321.24 22.73h0.8v0.8h-0.8zM334.8 42.75h0.8v0.8h-0.8zM338.07 33.16h0.8v0.8h-0.8zM333.1 23.26h0.8v0.8h-0.8zM353.95 19.43h0.8v0.8h-0.8zM362.45 35.22h0.8v0.8h-0.8zM342.99 36.45h0.8v0.8h-0.8zM347.38 36.09h0.8v0.8h-0.8zM337.16 35.73h0.8v0.8h-0.8zM353.74 36.32h0.8v0.8h-0.8zM347.24 30.38h0.8v0.8h-0.8zM350.68 45.91h0.8v0.8h-0.8zM347.67 20.02h0.8v0.8h-0.8zM346.23 34.5h0.8v0.8h-0.8zM335.13 30.61h0.8v0.8h-0.8zM344.43 36.8h0.8v0.8h-0.8zM344.55 42.89h0.8v0.8h-0.8zM333.53 30.14h0.8v0.8h-0.8zM336.29 30.65h0.8v0.8h-0.8zM334.48 42.09h0.8v0.8h-0.8zM332.59 30.11h0.8v0.8h-0.8zM338.57 32h0.8v0.8h-0.8zM351.63 28.23h0.8v0.8h-0.8zM334.47 36.5h0.8v0.8h-0.8zM355.25 41.27h0.8v0.8h-0.8zM349.72 36.68h0.8v0.8h-0.8zM356.29 33.24h0.8v0.8h-0.8zM351.49 39.55h0.8v0.8h-0.8zM354.57 25.4h0.8v0.8h-0.8zM341.01 42.48h0.8v0.8h-0.8zM321.93 31.79h0.8v0.8h-0.8zM323.71 29.97h0.8v0.8h-0.8zM350.05 29.15h0.8v0.8h-0.8zM343.49 30.61h0.8v0.8h-0.8zM329.97 36.3h0.8v0.8h-0.8zM342.26 25.76h0.8v0.8h-0.8zM345.96 28.36h0.8v0.8h-0.8zM331.06 32.45h0.8v0.8h-0.8zM350.26 29.28h0.8v0.8h-0.8zM324.17 38.23h0.8v0.8h-0.8zM342.98 35.74h0.8v0.8h-0.8zM325.51 44.38h0.8v0.8h-0.8zM351.52 23.27h0.8v0.8h-0.8zM345.35 36.31h0.8v0.8h-0.8zM346.01 45.23h0.8v0.8h-0.8zM333.06 33.78h0.8v0.8h-0.8zM339.15 36.93h0.8v0.8h-0.8zM353.45 29.6h0.8v0.8h-0.8zM362.2 31.96h0.8v0.8h-0.8zM342.58 32.47h0.8v0.8h-0.8zM351.4 22.08h0.8v0.8h-0.8zM336.82 29.57h0.8v0.8h-0.8zM342.71 35.86h0.8v0.8h-0.8zM350.85 41.55h0.8v0.8h-0.8zM341.92 19.95h0.8v0.8h-0.8zM348.96 37.05h0.8v0.8h-0.8zM345.05 36.71h0.8v0.8h-0.8zM330.26 32.47h0.8v0.8h-0.8zM343.9 33.39h0.8v0.8h-0.8zM335.17 24.8h0.8v0.8h-0.8zM339.21 30.39h0.8v0.8h-0.8zM330.2 32.21h0.8v0.8h-0.8zM337.74 28.21h0.8v0.8h-0.8zM333.5 21.26h0.8v0.8h-0.8zM345.4 21.96h0.8v0.8h-0.8zM341.61 40.6h0.8v0.8h-0.8zM343.15 28.52h0.8v0.8h-0.8zM339.24 38.95h0.8v0.8h-0.8zM340.59 42.34h0.8v0.8h-0.8zM353.36 33.03h0.8v0.8h-0.8zM338.67 33.04h0.8v0.8h-0.8zM350.65 32.51h0.8v0.8h-0.8zM344.95 49.86h0.8v0.8h-0.8zM355.89 23.24h0.8v0.8h-0.8zM341.72 28.57h0.8v0.8h-0.8zM322.3 35.33h0.8v0.8h-0.8zM332.17 23.36h0.8v0.8h-0.8zM360.57 26.17h0.8v0.8h-0.8zM330.34 30.15h0.8v0.8h-0.8zM319.37 30.97h0.8v0.8h-0.8zM329.24 36.35h0.8v0.8h-0.8zM333.99 24h0.8v0.8h-0.8zM335.23 38.81h0.8v0.8h-0.8zM352.02 40.54h0.8v0.8h-0.8zM334.83 33.99h0.8v0.8h-0.8zM351.54 35.7h0.8v0.8h-0.8zM340.32 37.63h0.8v0.8h-0.8zM330.33 35.05h0.8v0.8h-0.8zM345.14 25.57h0.8v0.8h-0.8zM354.44 30.36h0.8v0.8h-0.8zM346.86 26.77h0.8v0.8h-0.8zM344.92 40.26h0.8v0.8h-0.8zM349.25 33.81h0.8v0.8h-0.8zM347.18 21.04h0.8v0.8h-0.8zM347.24 29.08h0.8v0.8h-0.8zM351.54 35.78h0.8v0.8h-0.8zM347.82 35.02h0.8v0.8h-0.8zM330.17 39.88h0.8v0.8h-0.8zM338.16 23.45h0.8v0.8h-0.8zM350.12 47.69h0.8v0.8h-0.8zM337.44 25.2h0.8v0.8h-0.8zM345.05 36.43h0.8v0.8h-0.8zM357.04 30.48h0.8v0.8h-0.8zM348.92 33.97h0.8v0.8h-0.8zM349.18 28.71h0.8v0.8h-0.8zM331.48 30.33h0.8v0.8h-0.8zM355.96 30.61h0.8v0.8h-0.8zM348.33 37.99h0.8v0.8h-0.8zM342.67 26.06h0.8v0.8h-0.8zM345.16 30.9h0.8v0.8h-0.8zM334.38 33.78h0.8v0.8h-0.8zM343.97 23.51h0.8v0.8h-0.8zM346.31 29.62h0.8v0.8h-0.8zM340.44 19.53h0.8v0.8h-0.8zM339.62 33.8h0.8v0.8h-0.8zM338 35.74h0.8v0.8h-0.8zM352.62 38.63h0.8v0.8h-0.8zM353.54 49.61h0.8v0.8h-0.8zM349.33 35.54h0.8v0.8h-0.8zM349.38 34.02h0.8v0.8h-0.8zM332.89 44.93h0.8v0.8h-0.8zM350.82 24.01h0.8v0.8h-0.8zM331.59 30.82h0.8v0.8h-0.8zM339.23 42.84h0.8v0.8h-0.8zM342.15 46.96h0.8v0.8h-0.8zM326.29 32.94h0.8v0.8h-0.8zM339.88 32.98h0.8v0.8h-0.8zM352.08 41.02h0.8v0.8h-0.8zM334.49 40.16h0.8v0.8h-0.8zM340.58 26.34h0.8v0.8h-0.8zM343.39 40.25h0.8v0.8h-0.8zM345.75 28.6h0.8v0.8h-0.8zM335.44 39.96h0.8v0.8h-0.8zM340.38 31.23h0.8v0.8h-0.8zM336.75 34.44h0.8v0.8h-0.8z" fill="#3c52ab" opacity="0.8"/>
<path d="M315.22 35.86h0.8v0.8h-0.8zM322.75 48.43h0.8v0.8h-0.8zM318.48 35.1h0.8v0.8h-0.8zM315.99 35.56h0.8v0.8h-0.8zM314.32 24.97h0.8v0.8h-0.8zM327.46 44.25h0.8v0.8h-0.8zM314.4 56.11h0.8v0.8h-0.8zM322.61 54.56h0.8v0.8h-0.8zM313.49 42.02h0.8v0.8h-0.8zM318.5 51.72h0.8v0.8h-0.8zM313.95 40.71h0.8v0.8h-0.8zM321.55 21.69h0.8v0.8h-0.8zM323.35 60.3h0.8v0.8h-0.8zM324.49 42.84h0.8v0.8h-0.8zM317.14 24h0.8v0.8h-0.8zM318.6 39.52h0.8v0.8h-0.8zM318.68 30h0.8v0.8h-0.8zM312.94 21.93h0.8v0.8h-0.8zM319.99 24.95h0.8v0.8h-0.8zM321.67 30.75h0.8v0.8h-0.8zM321.13 36.68h0.8v0.8h-0.8zM318.36 27.12h0.8v0.8h-0.8zM318.68 52.91h0.8v0.8h-0.8zM320.9 29.78h0.8v0.8h-0.8zM321.36 31.45h0.8v0.8h-0.8zM323.96 26.92h0.8v0.8h-0.8zM318.02 25.39h0.8v0.8h-0.8zM320.37 47.16h0.8v0.8h-0.8zM317.27 45.14h0.8v0.8h-0.8zM321.81 55.78h0.8v0.8h-0.8zM314.6 46.13h0.8v0.8h-0.8zM328.17 43.39h0.8v0.8h-0.8zM320.74 51.4h0.8v0.8h-0.8zM312.83 32.88h0.8v0.8h-0.8zM323.85 46.71h0.8v0.8h-0.8zM313.26 52.12h0.8v0.8h-0.8zM321.74 39.75h0.8v0.8h-0.8zM319.31 44.31h0.8v0.8h-0.8zM313.92 44.4h0.8v0.8h-0.8zM323.77 39.5h0.8v0.8h-0.8zM316.66 40.61h0.8v0.8h-0.8zM313.8 48.01h0.8v0.8h-0.8zM321.5 50.93h0.8v0.8h-0.8zM318.1 23.34h0.8v0.8h-0.8zM317.28 56.52h0.8v0.8h-0.8zM323.85 55.07h0.8v0.8h-0.8zM319.11 28.69h0.8v0.8h-0.8zM320.9 48.99h0.8v0.8h-0.8zM319.53 41.79h0.8v0.8h-0.8zM322.65 32h0.8v0.8h-0.8zM316.98 61.05h0.8v0.8h-0.8zM319.28 45.69h0.8v0.8h-0.8zM313.85 33.8h0.8v0.8h-0.8zM314.48 50.3h0.8v0.8h-0.8zM316.12 40.27h0.8v0.8h-0.8zM322.65 33.95h0.8v0.8h-0.8zM315.4 22.77h0.8v0.8h-0.8zM314.26 53.35h0.8v0.8h-0.8zM314.64 32.87h0.8v0.8h-0.8zM327.37 37.02h0.8v0.8h-0.8zM322.33 22.74h0.8v0.8h-0.8zM319.86 52.32h0.8v0.8h-0.8zM322.24 37.86h0.8v0.8h-0.8zM318.56 53.95h0.8v0.8h-0.8zM319.4 33.94h0.8v0.8h-0.8zM318.09 38.4h0.8v0.8h-0.8zM317.66 46.83h0.8v0.8h-0.8zM315.25 26.34h0.8v0.8h-0.8zM313.94 43.72h0.8v0.8h-0.8zM318.07 31.95h0.8v0.8h-0.8zM323.34 39.69h0.8v0.8h-0.8zM317.33 33.64h0.8v0.8h-0.8zM312.33 54.08h0.8v0.8h-0.8zM316.17 29.39h0.8v0.8h-0.8zM320.06 52.1h0.8v0.8h-0.8zM316.15 29.65h0.8v0.8h-0.8zM314.11 40.03h0.8v0.8h-0.8zM314.93 40.72h0.8v0.8h-0.8zM314.11 28.18h0.8v0.8h-0.8zM315.5 26.2h0.8v0.8h-0.8zM319.68 20.82h0.8v0.8h-0.8zM325.67 33.13h0.8v0.8h-0.8zM319.37 35.6h0.8v0.8h-0.8zM322.29 44.92h0.8v0.8h-0.8zM317.39 22.43h0.8v0.8h-0.8zM321.68 27.62h0.8v0.8h-0.8zM325.07 60.12h0.8v0.8h-0.8zM320.07 30.62h0.8v0.8h-0.8zM321.09 38.98h0.8v0.8h-0.8zM327.06 43.63h0.8v0.8h-0.8zM316.94 45.09h0.8v0.8h-0.8zM324.99 50.42h0.8v0.8h-0.8zM322.41 32.32h0.8v0.8h-0.8zM312.92 35.7h0.8v0.8h-0.8zM317.68 62.48h0.8v0.8h-0.8zM315 45.87h0.8v0.8h-0.8zM317.15 58.44h0.8v0.8h-0.8zM320.64 27.72h0.8v0.8h-0.8zM316.44 30.08h0.8v0.8h-0.8zM319.52 51.89h0.8v0.8h-0.8zM316.49 36.32h0.8v0.8h-0.8zM322.32 31.57h0.8v0.8h-0.8zM319.47 45.94h0.8v0.8h-0.8zM317.39 31.77h0.8v0.8h-0.8zM316.25 43.41h0.8v0.8h-0.8zM327.11 29.94h0.8v0.8h-0.8zM323.48 38.28h0.8v0.8h-0.8zM318.67 60.69h0.8v0.8h-0.8zM323.96 55.64h0.8v0.8h-0.8zM320.77 29.67h0.8v0.8h-0.8zM317.64 45.23h0.8v0.8h-0.8zM317.58 35.98h0.8v0.8h-0.8zM321.41 60.39h0.8v0.8h-0.8zM321.91 53.81h0.8v0.8h-0.8zM313.31 20.58h0.8v0.8h-0.8zM320.54 56.74h0.8v0.8h-0.8zM320.25 32.11h0.8v0.8h-0.8zM328.47 28.48h0.8v0.8h-0.8zM317.37 30.95h0.8v0.8h-0.8zM321.1 41.94h0.8v0.8h-0.8zM318.82 30.41h0.8v0.8h-0.8zM317.8 42.33h0.8v0.8h-0.8zM321.84 29.78h0.8v0.8h-0.8zM314.35 40.72h0.8v0.8h-0.8zM319.7 25.97h0.8v0.8h-0.8zM318.7 45.81h0.8v0.8h-0.8zM319.34 50.02h0.8v0.8h-0.8zM313.29 26.35h0.8v0.8h-0.8zM323.91 44.7h0.8v0.8h-0.8zM321.02 46.51h0.8v0.8h-0.8z" fill="#3c52ab" opacity="0.2"/>
<path d="M319.16 41.26h0.8v0.8h-0.8zM321.32 54.63h0.8v0.8h-0.8zM321.06 67.77h0.8v0.8h-0.8zM321.04 29.47h0.8v0.8h-0.8zM320.59 56.32h0.8v0.8h-0.8zM313.03 60.48h0.8v0.8h-0.8zM316.52 20.86h0.8v0.8h-0.8zM321.5 24.14h0.8v0.8h-0.8zM321.49 68.66h0.8v0.8h-0.8zM317.31 35.5h0.8v0.8h-0.8zM325.69 24.16h0.8v0.8h-0.8zM324.59 33.51h0.8v0.8h-0.8zM315.31 51.84h0.8v0.8h-0.8zM321.62 36.33h0.8v0.8h-0.8zM319.09 61.57h0.8v0.8h-0.8zM320.71 41.77h0.8v0.8h-0.8zM316.62 58.33h0.8v0.8h-0.8zM317.87 34.85h0.8v0.8h-0.8zM320.41 63.9h0.8v0.8h-0.8zM320.88 50.03h0.8v0.8h-0.8zM319.88 48.99h0.8v0.8h-0.8zM318.97 45.95h0.8v0.8h-0.8zM319.03 40.24h0.8v0.8h-0.8zM324.01 55.35h0.8v0.8h-0.8zM322.62 34.14h0.8v0.8h-0.8zM314.76 31.24h0.8v0.8h-0.8zM317.85 65.96h0.8v0.8h-0.8zM322.37 46.46h0.8v0.8h-0.8zM316.92 41.39h0.8v0.8h-0.8zM318.54 37.53h0.8v0.8h-0.8zM320.04 41.98h0.8v0.8h-0.8zM315.27 50.13h0.8v0.8h-0.8zM320.58 35.71h0.8v0.8h-0.8zM315.76 74.81h0.8v0.8h-0.8zM326.14 59.83h0.8v0.8h-0.8zM314.02 29.51h0.8v0.8h-0.8zM320.89 33.29h0.8v0.8h-0.8zM314.78 52.26h0.8v0.8h-0.8zM321.78 53.87h0.8v0.8h-0.8zM323.24 43.2h0.8v0.8h-0.8zM324.75 55.07h0.8v0.8h-0.8zM320.41 27.63h0.8v0.8h-0.8zM323.84 59.69h0.8v0.8h-0.8zM314.05 46.72h0.8v0.8h-0.8zM320.67 66.08h0.8v0.8h-0.8zM315.93 64.18h0.8v0.8h-0.8zM318.26 26.7h0.8v0.8h-0.8zM327.39 36.49h0.8v0.8h-0.8zM316.7 36.91h0.8v0.8h-0.8zM321.29 32.4h0.8v0.8h-0.8zM315.58 41.87h0.8v0.8h-0.8zM320.28 66.8h0.8v0.8h-0.8zM321.68 36.9h0.8v0.8h-0.8zM326.93 42.21h0.8v0.8h-0.8zM318.13 34.72h0.8v0.8h-0.8zM316.58 76.11h0.8v0.8h-0.8zM317.3 23.34h0.8v0.8h-0.8zM321.82 54.39h0.8v0.8h-0.8zM320.98 23.27h0.8v0.8h-0.8zM318.79 51.18h0.8v0.8h-0.8zM319.76 25.03h0.8v0.8h-0.8zM320.5 45.44h0.8v0.8h-0.8zM317.72 32.15h0.8v0.8h-0.8zM319.73 44.95h0.8v0.8h-0.8zM316.47 34.68h0.8v0.8h-0.8zM316.11 26.84h0.8v0.8h-0.8zM325.85 45.72h0.8v0.8h-0.8zM326.58 44.51h0.8v0.8h-0.8zM321.93 27.4h0.8v0.8h-0.8zM316.48 48.43h0.8v0.8h-0.8zM312.3 44.53h0.8v0.8h-0.8zM319.08 58.36h0.8v0.8h-0.8zM319.71 66.06h0.8v0.8h-0.8zM319.99 37.55h0.8v0.8h-0.8zM319.63 39.23h0.8v0.8h-0.8zM319.08 56.86h0.8v0.8h-0.8zM321.2 37.59h0.8v0.8h-0.8zM321.32 55.95h0.8v0.8h-0.8zM319.71 38.93h0.8v0.8h-0.8zM322.98 62.94h0.8v0.8h-0.8zM327.32 50.33h0.8v0.8h-0.8zM324.58 53.74h0.8v0.8h-0.8zM313.95 20.29h0.8v0.8h-0.8zM322.68 56.64h0.8v0.8h-0.8zM321.24 57.67h0.8v0.8h-0.8zM318.37 45.97h0.8v0.8h-0.8zM320.02 45.6h0.8v0.8h-0.8zM319.12 60.66h0.8v0.8h-0.8zM317.6 35.04h0.8v0.8h-0.8zM317.39 48.78h0.8v0.8h-0.8zM320.06 36.35h0.8v0.8h-0.8zM322.75 24.94h0.8v0.8h-0.8zM315.03 45.1h0.8v0.8h-0.8zM315.1 41.62h0.8v0.8h-0.8zM318.72 34.21h0.8v0.8h-0.8zM321.45 48.95h0.8v0.8h-0.8zM318.28 41.25h0.8v0.8h-0.8zM321.8 38.64h0.8v0.8h-0.8zM315.23 32.39h0.8v0.8h-0.8zM317.11 52.13h0.8v0.8h-0.8zM318.87 36.17h0.8v0.8h-0.8zM319.53 35.6h0.8v0.8h-0.8zM319.59 64.28h0.8v0.8h-0.8zM325.47 27.38h0.8v0.8h-0.8zM317.58 45.92h0.8v0.8h-0.8zM313.72 52.91h0.8v0.8h-0.8zM316.69 41.66h0.8v0.8h-0.8zM314.2 28.45h0.8v0.8h-0.8zM319.12 34.88h0.8v0.8h-0.8zM317.53 48.74h0.8v0.8h-0.8zM323.32 41.23h0.8v0.8h-0.8zM315.18 57h0.8v0.8h-0.8zM312.62 32.69h0.8v0.8h-0.8zM313.5 20.95h0.8v0.8h-0.8zM318.32 41.78h0.8v0.8h-0.8zM321.5 51.53h0.8v0.8h-0.8zM314.09 50.39h0.8v0.8h-0.8zM322.57 41.03h0.8v0.8h-0.8zM317.47 42.63h0.8v0.8h-0.8zM314.04 66.06h0.8v0.8h-0.8zM314.79 33.98h0.8v0.8h-0.8zM321.55 34.51h0.8v0.8h-0.8zM320.88 28.77h0.8v0.8h-0.8zM316.05 29.49h0.8v0.8h-0.8zM322.19 46.64h0.8v0.8h-0.8zM317.26 57.48h0.8v0.8h-0.8zM316.89 52.01h0.8v0.8h-0.8zM323.61 42.04h0.8v0.8h-0.8zM320.1 63.5h0.8v0.8h-0.8zM327.97 48.77h0.8v0.8h-0.8zM320.53 25.33h0.8v0.8h-0.8zM317.16 36.3h0.8v0.8h-0.8zM313.48 62.82h0.8v0.8h-0.8zM319.16 42.5h0.8v0.8h-0.8zM318.08 41.83h0.8v0.8h-0.8z" fill="#3c52ab" opacity="0.35"/>
<path d="M325.69 36.88h0.8v0.8h-0.8zM315.7 39.43h0.8v0.8h-0.8zM316.79 50.96h0.8v0.8h-0.8zM321.5 47.61h0.8v0.8h-0.8zM322.13 24.48h0.8v0.8h-0.8zM317.63 34.08h0.8v0.8h-0.8zM317.06 44.81h0.8v0.8h-0.8zM316.58 45.68h0.8v0.8h-0.8zM312.11 32.87h0.8v0.8h-0.8zM321.68 57.84h0.8v0.8h-0.8zM321.85 63.54h0.8v0.8h-0.8zM317.76 56.75h0.8v0.8h-0.8zM313.69 34.45h0.8v0.8h-0.8zM321.99 21.91h0.8v0.8h-0.8zM323.89 49.53h0.8v0.8h-0.8zM328.79 24.89h0.8v0.8h-0.8zM322.31 63.56h0.8v0.8h-0.8zM320.42 42.19h0.8v0.8h-0.8zM318.75 35.57h0.8v0.8h-0.8zM318.15 50.92h0.8v0.8h-0.8zM322.67 36.18h0.8v0.8h-0.8zM316.34 53.16h0.8v0.8h-0.8zM321.51 53.84h0.8v0.8h-0.8zM316.72 44.06h0.8v0.8h-0.8zM321.44 72.87h0.8v0.8h-0.8zM315.13 41.5h0.8v0.8h-0.8zM313.86 33.89h0.8v0.8h-0.8zM316.92 66.93h0.8v0.8h-0.8zM314.88 46.21h0.8v0.8h-0.8zM315.33 26.25h0.8v0.8h-0.8zM317.54 40.65h0.8v0.8h-0.8zM319.5 50.29h0.8v0.8h-0.8zM317.46 52.79h0.8v0.8h-0.8zM314.17 49.59h0.8v0.8h-0.8zM319.65 39.69h0.8v0.8h-0.8zM317.91 46.27h0.8v0.8h-0.8zM322.37 39.67h0.8v0.8h-0.8zM324.41 29.06h0.8v0.8h-0.8zM322.46 37.6h0.8v0.8h-0.8zM318.08 26.73h0.8v0.8h-0.8zM319.8 41.74h0.8v0.8h-0.8zM319.66 36.33h0.8v0.8h-0.8zM323.95 37.42h0.8v0.8h-0.8zM320.17 43h0.8v0.8h-0.8zM317.55 29.6h0.8v0.8h-0.8zM316 44.38h0.8v0.8h-0.8zM316.69 55.76h0.8v0.8h-0.8zM317.94 35.38h0.8v0.8h-0.8zM323.11 31.34h0.8v0.8h-0.8zM321.89 36.23h0.8v0.8h-0.8zM319.69 32.86h0.8v0.8h-0.8zM314.63 19.59h0.8v0.8h-0.8zM322.07 41.03h0.8v0.8h-0.8zM320.4 49.67h0.8v0.8h-0.8zM318.59 33.87h0.8v0.8h-0.8zM319.81 31.52h0.8v0.8h-0.8zM314.64 55.32h0.8v0.8h-0.8zM322.24 38.29h0.8v0.8h-0.8zM317.3 44.9h0.8v0.8h-0.8zM319.39 63.03h0.8v0.8h-0.8zM326.17 55.61h0.8v0.8h-0.8zM316.8 38.8h0.8v0.8h-0.8zM316.57 45.94h0.8v0.8h-0.8zM324.1 52.89h0.8v0.8h-0.8zM319.49 21.36h0.8v0.8h-0.8zM317.65 22.36h0.8v0.8h-0.8zM323.51 44.84h0.8v0.8h-0.8zM321.89 47.54h0.8v0.8h-0.8zM319.07 61.24h0.8v0.8h-0.8zM327.14 45.6h0.8v0.8h-0.8zM326.45 34.36h0.8v0.8h-0.8zM314.74 40.18h0.8v0.8h-0.8zM317.38 35.98h0.8v0.8h-0.8zM326.88 48.15h0.8v0.8h-0.8zM323.48 51.93h0.8v0.8h-0.8zM316.33 31.6h0.8v0.8h-0.8zM323.42 30.65h0.8v0.8h-0.8zM323.37 42.83h0.8v0.8h-0.8zM315.74 28.83h0.8v0.8h-0.8zM319.29 29.57h0.8v0.8h-0.8zM320.59 49.39h0.8v0.8h-0.8zM316.9 46.81h0.8v0.8h-0.8zM322.09 21.8h0.8v0.8h-0.8zM312.27 62.18h0.8v0.8h-0.8zM316.64 59.57h0.8v0.8h-0.8zM318.51 50.52h0.8v0.8h-0.8zM321.29 33.31h0.8v0.8h-0.8zM324.28 29.85h0.8v0.8h-0.8zM323.06 34.31h0.8v0.8h-0.8zM318.9 46.52h0.8v0.8h-0.8zM317.26 20.91h0.8v0.8h-0.8zM317.54 45.05h0.8v0.8h-0.8zM317.16 29.86h0.8v0.8h-0.8zM317.1 67.54h0.8v0.8h-0.8zM324.79 64.18h0.8v0.8h-0.8zM318.28 40h0.8v0.8h-0.8zM319.9 39.82h0.8v0.8h-0.8zM318.27 34.37h0.8v0.8h-0.8zM320.13 52.91h0.8v0.8h-0.8zM316.25 24.56h0.8v0.8h-0.8zM323.47 69.2h0.8v0.8h-0.8zM320.43 41.37h0.8v0.8h-0.8zM322.12 45.9h0.8v0.8h-0.8zM324.89 36.57h0.8v0.8h-0.8zM319.63 65.38h0.8v0.8h-0.8zM318.07 49.65h0.8v0.8h-0.8zM319.51 49.41h0.8v0.8h-0.8zM315.02 59.15h0.8v0.8h-0.8zM325.95 53.96h0.8v0.8h-0.8zM319.71 37.6h0.8v0.8h-0.8zM317.01 21.52h0.8v0.8h-0.8zM317.91 48.78h0.8v0.8h-0.8zM315.81 61.54h0.8v0.8h-0.8zM316.17 28.54h0.8v0.8h-0.8zM313.73 35.86h0.8v0.8h-0.8zM315.25 58.44h0.8v0.8h-0.8zM322.31 37.29h0.8v0.8h-0.8zM322.02 35.68h0.8v0.8h-0.8zM315.75 57.07h0.8v0.8h-0.8zM318.7 52.77h0.8v0.8h-0.8zM321.48 50.14h0.8v0.8h-0.8zM315.18 40.1h0.8v0.8h-0.8zM319.79 37.62h0.8v0.8h-0.8zM316.91 38.91h0.8v0.8h-0.8zM318.03 43.45h0.8v0.8h-0.8zM324.41 34.32h0.8v0.8h-0.8zM317.34 25.57h0.8v0.8h-0.8zM320.8 38.32h0.8v0.8h-0.8zM318.41 27.94h0.8v0.8h-0.8zM320.66 43.1h0.8v0.8h-0.8zM320.29 29.05h0.8v0.8h-0.8zM325.96 53.23h0.8v0.8h-0.8zM316.75 35.56h0.8v0.8h-0.8zM321 41.98h0.8v0.8h-0.8zM322.82 33.08h0.8v0.8h-0.8zM314.63 49.64h0.8v0.8h-0.8zM324.6 43.47h0.8v0.8h-0.8zM313.7 40.19h0.8v0.8h-0.8zM313.41 45.06h0.8v0.8h-0.8zM325.37 55.77h0.8v0.8h-0.8zM319.18 28.15h0.8v0.8h-0.8zM317.51 34.23h0.8v0.8h-0.8z" fill="#3c52ab" opacity="0.55"/>
<path d="M311.28 59.72h0.7v0.7h-0.7zM311.73 44.33h0.7v0.7h-0.7zM311.56 24.98h0.7v0.7h-0.7zM311.35 48.7h0.7v0.7h-0.7zM311.71 28.55h0.7v0.7h-0.7zM311.66 72.92h0.7v0.7h-0.7zM311.13 68.63h0.7v0.7h-0.7zM311.55 45.69h0.7v0.7h-0.7zM311.56 65.65h0.7v0.7h-0.7zM311.63 51.04h0.7v0.7h-0.7zM311.48 27.4h0.7v0.7h-0.7zM311.54 62.12h0.7v0.7h-0.7zM311.66 77.07h0.7v0.7h-0.7zM311.31 77.09h0.7v0.7h-0.7zM311.4 31.8h0.7v0.7h-0.7zM311.4 75.98h0.7v0.7h-0.7zM311.71 70.33h0.7v0.7h-0.7zM311.17 34.68h0.7v0.7h-0.7zM311.66 37.08h0.7v0.7h-0.7zM311.31 55.39h0.7v0.7h-0.7zM311.58 77.31h0.7v0.7h-0.7zM311.62 26.18h0.7v0.7h-0.7zM311.33 68.31h0.7v0.7h-0.7zM311.41 57.74h0.7v0.7h-0.7zM311.28 27.53h0.7v0.7h-0.7zM311.22 45.75h0.7v0.7h-0.7zM311.3 70.26h0.7v0.7h-0.7zM311.51 70.25h0.7v0.7h-0.7zM311.52 57.88h0.7v0.7h-0.7zM311.59 38.1h0.7v0.7h-0.7zM311.17 27.77h0.7v0.7h-0.7zM311.95 51.2h0.7v0.7h-0.7zM311.53 74.14h0.7v0.7h-0.7zM311.83 71.19h0.7v0.7h-0.7zM311.41 68.64h0.7v0.7h-0.7zM310.99 73.77h0.7v0.7h-0.7zM311.24 40.99h0.7v0.7h-0.7zM311.58 41.51h0.7v0.7h-0.7zM311.35 26.9h0.7v0.7h-0.7zM311.32 45.89h0.7v0.7h-0.7zM311.51 39.92h0.7v0.7h-0.7zM311.72 32.67h0.7v0.7h-0.7zM311.3 29.99h0.7v0.7h-0.7zM311.59 54.18h0.7v0.7h-0.7zM310.71 38.06h0.7v0.7h-0.7zM311.57 74.49h0.7v0.7h-0.7zM311.76 39.96h0.7v0.7h-0.7zM311.76 45.99h0.7v0.7h-0.7zM310.99 24.67h0.7v0.7h-0.7zM311.42 60.33h0.7v0.7h-0.7zM311.5 33.17h0.7v0.7h-0.7zM311.67 77.9h0.7v0.7h-0.7zM311.13 66.29h0.7v0.7h-0.7zM311.32 73.41h0.7v0.7h-0.7zM311.57 66.26h0.7v0.7h-0.7zM310.82 36.54h0.7v0.7h-0.7zM311.46 44.95h0.7v0.7h-0.7zM311.3 74.22h0.7v0.7h-0.7zM311.27 65.32h0.7v0.7h-0.7zM311.3 67.02h0.7v0.7h-0.7zM311.32 77.65h0.7v0.7h-0.7zM311.75 60.66h0.7v0.7h-0.7zM311.2 54.09h0.7v0.7h-0.7zM311.2 71.85h0.7v0.7h-0.7zM311.44 23.66h0.7v0.7h-0.7zM310.93 25.04h0.7v0.7h-0.7zM311.48 38.71h0.7v0.7h-0.7zM311.49 76.06h0.7v0.7h-0.7zM310.83 30.01h0.7v0.7h-0.7zM311.43 39.68h0.7v0.7h-0.7zM312.02 37.49h0.7v0.7h-0.7zM311.17 46.05h0.7v0.7h-0.7zM311.47 26.91h0.7v0.7h-0.7zM311.47 60.29h0.7v0.7h-0.7zM311.63 56.69h0.7v0.7h-0.7zM311.6 32.45h0.7v0.7h-0.7z" fill="#3c52ab" opacity="0.45"/>
<path d="M311.41 27.25h0.7v0.7h-0.7zM311.33 40.86h0.7v0.7h-0.7zM311.51 54.32h0.7v0.7h-0.7zM311.47 74.63h0.7v0.7h-0.7zM310.96 70.88h0.7v0.7h-0.7zM311.45 70.22h0.7v0.7h-0.7zM311.04 76.33h0.7v0.7h-0.7zM311.66 20.16h0.7v0.7h-0.7zM311.38 33.09h0.7v0.7h-0.7zM311.27 32.42h0.7v0.7h-0.7zM311.58 61.83h0.7v0.7h-0.7zM311.32 20.81h0.7v0.7h-0.7zM311.1 57.03h0.7v0.7h-0.7zM311.59 69.02h0.7v0.7h-0.7zM311.63 29.71h0.7v0.7h-0.7zM311.22 59.7h0.7v0.7h-0.7zM311.43 35.03h0.7v0.7h-0.7zM311.07 43.32h0.7v0.7h-0.7zM311.55 27.22h0.7v0.7h-0.7zM310.95 64.74h0.7v0.7h-0.7zM311.24 32.08h0.7v0.7h-0.7zM311.19 34.24h0.7v0.7h-0.7zM311.33 67.95h0.7v0.7h-0.7zM311.4 22.39h0.7v0.7h-0.7zM311.52 45.21h0.7v0.7h-0.7zM311.55 49.89h0.7v0.7h-0.7zM311.86 21.49h0.7v0.7h-0.7zM311.49 30.44h0.7v0.7h-0.7zM311.69 28.94h0.7v0.7h-0.7zM311.58 33.75h0.7v0.7h-0.7zM311.43 38.99h0.7v0.7h-0.7zM311.4 70.89h0.7v0.7h-0.7zM311.29 60.99h0.7v0.7h-0.7zM311.37 66.27h0.7v0.7h-0.7zM311.53 27.01h0.7v0.7h-0.7zM311.32 68.37h0.7v0.7h-0.7zM311.17 43.32h0.7v0.7h-0.7zM311.25 66.55h0.7v0.7h-0.7zM311.13 58.13h0.7v0.7h-0.7zM311.65 53.41h0.7v0.7h-0.7zM311.38 59.5h0.7v0.7h-0.7zM311.93 61.48h0.7v0.7h-0.7zM311.53 61.46h0.7v0.7h-0.7zM311.34 24.87h0.7v0.7h-0.7zM311.57 45.7h0.7v0.7h-0.7zM311.96 32.41h0.7v0.7h-0.7zM310.86 39.67h0.7v0.7h-0.7zM311.39 50.6h0.7v0.7h-0.7zM311.53 69.83h0.7v0.7h-0.7zM311.64 22.05h0.7v0.7h-0.7zM311.52 29.98h0.7v0.7h-0.7zM311.52 20.07h0.7v0.7h-0.7zM311.39 73.23h0.7v0.7h-0.7zM311.3 69.07h0.7v0.7h-0.7zM311.57 43.63h0.7v0.7h-0.7zM311.4 75.68h0.7v0.7h-0.7zM311.38 52.5h0.7v0.7h-0.7zM311.69 61.23h0.7v0.7h-0.7zM311.54 71.01h0.7v0.7h-0.7zM311.18 74.93h0.7v0.7h-0.7zM311.49 60.45h0.7v0.7h-0.7zM311.91 63.11h0.7v0.7h-0.7zM311.96 50.85h0.7v0.7h-0.7zM311.29 74.43h0.7v0.7h-0.7zM311.8 58.88h0.7v0.7h-0.7zM311.82 68.08h0.7v0.7h-0.7zM311.56 30.53h0.7v0.7h-0.7zM311.42 69.2h0.7v0.7h-0.7zM311.43 25.89h0.7v0.7h-0.7zM310.72 38.67h0.7v0.7h-0.7zM311.48 28.91h0.7v0.7h-0.7zM311.12 27.7h0.7v0.7h-0.7zM311.6 33.55h0.7v0.7h-0.7zM311.05 42.6h0.7v0.7h-0.7zM311.43 33.03h0.7v0.7h-0.7zM311.27 23.52h0.7v0.7h-0.7zM311.51 47.12h0.7v0.7h-0.7zM311.69 39.83h0.7v0.7h-0.7zM311.7 75.86h0.7v0.7h-0.7zM311.73 21.14h0.7v0.7h-0.7zM311.87 63.35h0.7v0.7h-0.7zM311.58 56.59h0.7v0.7h-0.7zM311.78 19.95h0.7v0.7h-0.7zM311.46 35.43h0.7v0.7h-0.7zM311.66 75.63h0.7v0.7h-0.7zM311.77 52.73h0.7v0.7h-0.7zM311.42 57.26h0.7v0.7h-0.7zM310.79 46.98h0.7v0.7h-0.7z" fill="#3c52ab" opacity="0.65"/>
<path d="M311.71 39.26h0.7v0.7h-0.7zM311.68 65.3h0.7v0.7h-0.7zM311.33 58.08h0.7v0.7h-0.7zM311.34 33.75h0.7v0.7h-0.7zM311.52 37.1h0.7v0.7h-0.7zM311.84 26.39h0.7v0.7h-0.7zM311.39 67.02h0.7v0.7h-0.7zM311.31 53.63h0.7v0.7h-0.7zM311.68 34.3h0.7v0.7h-0.7zM311.69 69.14h0.7v0.7h-0.7zM311.79 23.52h0.7v0.7h-0.7zM311.64 34.6h0.7v0.7h-0.7zM311.26 32.14h0.7v0.7h-0.7zM311.48 44.59h0.7v0.7h-0.7zM310.87 34.36h0.7v0.7h-0.7zM311.86 49.7h0.7v0.7h-0.7zM310.83 19.84h0.7v0.7h-0.7zM311.23 22.88h0.7v0.7h-0.7zM311.05 71.47h0.7v0.7h-0.7zM311.22 21.04h0.7v0.7h-0.7zM311.13 34.8h0.7v0.7h-0.7zM311.57 33.87h0.7v0.7h-0.7zM311.05 65.47h0.7v0.7h-0.7zM311.39 69.55h0.7v0.7h-0.7zM310.78 57.31h0.7v0.7h-0.7zM311.61 53.3h0.7v0.7h-0.7zM311.4 56.52h0.7v0.7h-0.7zM311.12 52.09h0.7v0.7h-0.7zM311.38 44.24h0.7v0.7h-0.7zM311.41 36.92h0.7v0.7h-0.7zM311.34 57.65h0.7v0.7h-0.7zM311.57 51.96h0.7v0.7h-0.7zM311.43 65.77h0.7v0.7h-0.7zM311.09 70.46h0.7v0.7h-0.7zM311.34 64.25h0.7v0.7h-0.7zM311.28 49.72h0.7v0.7h-0.7zM311.71 64.16h0.7v0.7h-0.7zM311.12 21.99h0.7v0.7h-0.7zM311.29 30.26h0.7v0.7h-0.7zM311.5 27.82h0.7v0.7h-0.7zM311.34 45.56h0.7v0.7h-0.7zM311.04 32.88h0.7v0.7h-0.7zM311.44 28.63h0.7v0.7h-0.7zM311.57 72.39h0.7v0.7h-0.7zM311.29 52.62h0.7v0.7h-0.7zM311.15 50.65h0.7v0.7h-0.7zM311.42 51.99h0.7v0.7h-0.7zM311.57 45.72h0.7v0.7h-0.7zM311.13 50.72h0.7v0.7h-0.7zM311.01 75.63h0.7v0.7h-0.7zM311.46 51.42h0.7v0.7h-0.7zM311.48 73.49h0.7v0.7h-0.7zM311.09 64.19h0.7v0.7h-0.7zM311.66 60.02h0.7v0.7h-0.7zM311.61 56.92h0.7v0.7h-0.7zM311.33 71.12h0.7v0.7h-0.7zM311.14 41.3h0.7v0.7h-0.7zM311.33 39.02h0.7v0.7h-0.7zM311.3 50.9h0.7v0.7h-0.7zM311.48 23.14h0.7v0.7h-0.7zM311.41 61.14h0.7v0.7h-0.7zM311.08 39.49h0.7v0.7h-0.7zM311.35 43.62h0.7v0.7h-0.7zM311.19 51.44h0.7v0.7h-0.7zM311.52 30.96h0.7v0.7h-0.7zM311.23 25.1h0.7v0.7h-0.7zM311.27 45.61h0.7v0.7h-0.7zM311.36 70.1h0.7v0.7h-0.7zM311.41 63.82h0.7v0.7h-0.7zM311.66 33.57h0.7v0.7h-0.7zM311.03 25.36h0.7v0.7h-0.7zM311.48 24.61h0.7v0.7h-0.7zM311.41 47.34h0.7v0.7h-0.7zM311.41 72.14h0.7v0.7h-0.7zM311.53 54.57h0.7v0.7h-0.7zM310.52 45.24h0.7v0.7h-0.7zM311.52 46.74h0.7v0.7h-0.7zM311.43 77.28h0.7v0.7h-0.7zM311.98 63.24h0.7v0.7h-0.7zM311.18 23.09h0.7v0.7h-0.7zM311.07 53.11h0.7v0.7h-0.7zM311.14 69.82h0.7v0.7h-0.7zM311.8 68.21h0.7v0.7h-0.7zM311.3 59.97h0.7v0.7h-0.7zM311.03 66.59h0.7v0.7h-0.7zM311.62 29.37h0.7v0.7h-0.7zM311.62 39.93h0.7v0.7h-0.7zM312 48.72h0.7v0.7h-0.7zM311.42 43.89h0.7v0.7h-0.7zM311.22 62.83h0.7v0.7h-0.7zM311.85 33.13h0.7v0.7h-0.7zM311.32 25.88h0.7v0.7h-0.7zM311.32 31.75h0.7v0.7h-0.7zM311.77 50.66h0.7v0.7h-0.7zM310.86 53.48h0.7v0.7h-0.7zM311.46 53.62h0.7v0.7h-0.7z" fill="#3c52ab" opacity="0.85"/>
<path d="M344.87 73.36h.8v.8h-.8zM361.26 39.38h.8v.8h-.8zM362.37 45.82h.8v.8h-.8zM338.64 37.11h.8v.8h-.8zM327.18 52.92h.8v.8h-.8zM337.58 72.29h.8v.8h-.8zM355.6 59.89h.8v.8h-.8zM341.09 76.79h.8v.8h-.8zM353.28 41.08h.8v.8h-.8zM360.14 40.81h.8v.8h-.8zM332.13 70.74h.8v.8h-.8zM358.69 43.7h.8v.8h-.8zM339.41 77.04h.8v.8h-.8zM335.78 66.68h.8v.8h-.8zM335.57 74.07h.8v.8h-.8zM338.49 41.63h.8v.8h-.8zM358.33 44.15h.8v.8h-.8zM330.2 64.24h.8v.8h-.8zM326.26 43.23h.8v.8h-.8zM356.18 40.47h.8v.8h-.8zM350.83 70.58h.8v.8h-.8zM361.78 45.9h.8v.8h-.8zM358.99 40.77h.8v.8h-.8zM326.82 45.87h.8v.8h-.8zM326.08 59.16h.8v.8h-.8zM342.44 40.09h.8v.8h-.8zM336.5 72.84h.8v.8h-.8zM355.87 39.75h.8v.8h-.8zM343.38 76.71h.8v.8h-.8zM359.53 55.24h.8v.8h-.8zM355.23 62.32h.8v.8h-.8zM330.53 43.41h.8v.8h-.8zM335.2 76.81h.8v.8h-.8zM337.04 75.42h.8v.8h-.8zM339.99 74.95h.8v.8h-.8zM359.8 42.42h.8v.8h-.8zM349.15 73.61h.8v.8h-.8zM323.73 61.25h.8v.8h-.8zM348.83 39.27h.8v.8h-.8zM364.68 46.03h.8v.8h-.8zM323.58 58.56h.8v.8h-.8zM328.4 49.15h.8v.8h-.8zM348.7 39.23h.8v.8h-.8zM335.59 68.13h.8v.8h-.8zM354.74 42.31h.8v.8h-.8zM353.73 66.4h.8v.8h-.8zM352.01 68.63h.8v.8h-.8zM359.45 55.21h.8v.8h-.8zM337.44 39.76h.8v.8h-.8zM359.37 45.76h.8v.8h-.8zM359.74 38.62h.8v.8h-.8zM326.16 59.79h.8v.8h-.8zM356.91 43.79h.8v.8h-.8zM329.36 67.42h.8v.8h-.8zM362.56 43.92h.8v.8h-.8zM345.04 74.79h.8v.8h-.8zM348.97 76.16h.8v.8h-.8zM357.29 62.02h.8v.8h-.8zM349.92 74.29h.8v.8h-.8zM357.82 41.39h.8v.8h-.8zM349.92 68.79h.8v.8h-.8zM344.76 37.96h.8v.8h-.8zM351 76.71h.8v.8h-.8zM356.07 38.57h.8v.8h-.8zM326.9 60.27h.8v.8h-.8zM351.21 40.67h.8v.8h-.8zM328.63 60.77h.8v.8h-.8zM337.88 40.21h.8v.8h-.8zM350.98 36.71h.8v.8h-.8zM362.49 46.51h.8v.8h-.8zM348.09 42.68h.8v.8h-.8zM330.53 64.78h.8v.8h-.8zM328.11 60.92h.8v.8h-.8zM343.14 76.44h.8v.8h-.8zM359.32 39.27h.8v.8h-.8zM328.16 60.92h.8v.8h-.8zM339.25 41.02h.8v.8h-.8zM353.78 38.76h.8v.8h-.8zM327.19 59.76h.8v.8h-.8zM361 50.78h.8v.8h-.8zM345.92 74.61h.8v.8h-.8zM327 51.76h.8v.8h-.8zM329.36 57.4h.8v.8h-.8zM349.22 76.1h.8v.8h-.8zM356.3 67.43h.8v.8h-.8zM350.61 65.93h.8v.8h-.8zM356.41 38.68h.8v.8h-.8zM335.02 65.49h.8v.8h-.8zM345.31 72.62h.8v.8h-.8zM348.84 68.8h.8v.8h-.8zM322.53 63.5h.8v.8h-.8zM361.59 51.45h.8v.8h-.8zM331.39 64.07h.8v.8h-.8zM335 75.09h.8v.8h-.8zM345.05 75.84h.8v.8h-.8zM326.49 41.79h.8v.8h-.8zM337.19 39.08h.8v.8h-.8zM332.6 69.05h.8v.8h-.8zM328.38 54.05h.8v.8h-.8zM354.31 64.7h.8v.8h-.8zM327.91 41.6h.8v.8h-.8zM342.3 77.13h.8v.8h-.8zM350.21 71.26h.8v.8h-.8zM327.77 55.89h.8v.8h-.8zM357.93 37.58h.8v.8h-.8zM326.62 53.47h.8v.8h-.8zM331.62 40.92h.8v.8h-.8zM360.57 47.67h.8v.8h-.8zM345.7 71.08h.8v.8h-.8zM327.78 48.22h.8v.8h-.8zM329.99 39.93h.8v.8h-.8zM358.79 53.69h.8v.8h-.8zM362.25 42.32h.8v.8h-.8zM348.33 39.52h.8v.8h-.8zM336.19 39.36h.8v.8h-.8zM344.76 74.29h.8v.8h-.8zM361.87 40.14h.8v.8h-.8zM327.02 49.64h.8v.8h-.8zM359.66 42.39h.8v.8h-.8zM351.28 62.3h.8v.8h-.8zM327.26 56.13h.8v.8h-.8zM357.87 59.53h.8v.8h-.8zM361.19 51.73h.8v.8h-.8zM350 74.69h.8v.8h-.8zM362.8 45.39h.8v.8h-.8zM329.76 61.64h.8v.8h-.8zM334.37 66.18h.8v.8h-.8zM343.92 75.49h.8v.8h-.8zM354.92 65.48h.8v.8h-.8zM339.42 72.92h.8v.8h-.8zM362.23 42.66h.8v.8h-.8zM328.64 61.04h.8v.8h-.8zM340.5 74.32h.8v.8h-.8zM358.29 43.14h.8v.8h-.8zM342.93 79.97h.8v.8h-.8zM348.13 39.01h.8v.8h-.8zM360.34 41.81h.8v.8h-.8zM327.19 45.52h.8v.8h-.8zM326.94 47.43h.8v.8h-.8zM331.81 68.49h.8v.8h-.8zM362.35 41.22h.8v.8h-.8zM326.3 63.28h.8v.8h-.8zM341.95 37.84h.8v.8h-.8zM362.25 47.04h.8v.8h-.8zM358.87 40.57h.8v.8h-.8zM332.32 39.03h.8v.8h-.8zM334.86 72.29h.8v.8h-.8zM350.59 38.16h.8v.8h-.8zM342.95 79.12h.8v.8h-.8zM345.14 73.78h.8v.8h-.8zM351.73 63.76h.8v.8h-.8zM348.39 43.26h.8v.8h-.8zM357.36 40.35h.8v.8h-.8zM347.12 73.73h.8v.8h-.8zM353.17 66.41h.8v.8h-.8zM363.31 46.81h.8v.8h-.8zM361.54 40.51h.8v.8h-.8zM327.37 44.47h.8v.8h-.8zM359.21 40.06h.8v.8h-.8zM350.38 70.45h.8v.8h-.8zM333.62 69.02h.8v.8h-.8zM343.52 72.78h.8v.8h-.8zM342.83 38.71h.8v.8h-.8zM330.86 63.3h.8v.8h-.8zM355.53 57.14h.8v.8h-.8zM346.44 72.65h.8v.8h-.8zM329.87 64.47h.8v.8h-.8zM343.18 80.17h.8v.8h-.8zM360.22 41.36h.8v.8h-.8zM328.57 62.77h.8v.8h-.8zM348.87 38.13h.8v.8h-.8zM334.17 74.84h.8v.8h-.8zM340.14 72.98h.8v.8h-.8zM339.2 41.9h.8v.8h-.8zM346.38 73.52h.8v.8h-.8zM332.94 41.16h.8v.8h-.8zM338.36 72.68h.8v.8h-.8zM358.44 55.94h.8v.8h-.8zM355.51 51.24h.8v.8h-.8zM352.08 65.44h.8v.8h-.8zM358.83 53.46h.8v.8h-.8zM329.17 45.51h.8v.8h-.8zM323.79 65.39h.8v.8h-.8zM355.12 41.14h.8v.8h-.8zM342.8 75.05h.8v.8h-.8zM361.01 41.48h.8v.8h-.8zM341.3 77.49h.8v.8h-.8zM354.99 41.01h.8v.8h-.8zM361.22 42.54h.8v.8h-.8zM335.4 69.16h.8v.8h-.8zM351.68 36.51h.8v.8h-.8zM349.8 40.01h.8v.8h-.8zM344.54 40.1h.8v.8h-.8zM329.94 66.09h.8v.8h-.8zM342.66 45.75h.8v.8h-.8zM335.81 38.83h.8v.8h-.8zM335.48 70.91h.8v.8h-.8zM344.88 40.82h.8v.8h-.8zM343.92 75.06h.8v.8h-.8zM332.1 40.79h.8v.8h-.8zM346.77 75.27h.8v.8h-.8zM362.61 46.23h.8v.8h-.8zM336.11 74.96h.8v.8h-.8zM360.6 45.42h.8v.8h-.8zM357.97 42.68h.8v.8h-.8zM346.21 39.35h.8v.8h-.8zM336.58 74.16h.8v.8h-.8zM327.23 66.91h.8v.8h-.8zM348.04 75.8h.8v.8h-.8zM349.51 69.45h.8v.8h-.8zM343.87 40.39h.8v.8h-.8zM352.3 63.25h.8v.8h-.8zM331.55 66.44h.8v.8h-.8zM350.97 67.27h.8v.8h-.8zM360.66 50.74h.8v.8h-.8zM329.98 67.68h.8v.8h-.8zM333.59 66.96h.8v.8h-.8zM356.83 37.57h.8v.8h-.8zM355.01 37.49h.8v.8h-.8zM328.51 68.95h.8v.8h-.8zM334.77 38.95h.8v.8h-.8zM330.63 69.23h.8v.8h-.8zM349.59 70.18h.8v.8h-.8zM328.42 63.1h.8v.8h-.8zM344.88 75.19h.8v.8h-.8zM335.96 74.91h.8v.8h-.8zM335.24 40.09h.8v.8h-.8zM324.34 63.74h.8v.8h-.8zM348.14 73.22h.8v.8h-.8zM349.42 70.33h.8v.8h-.8zM347.88 74.81h.8v.8h-.8zM358.89 40.17h.8v.8h-.8zM325.67 45.58h.8v.8h-.8zM332.08 51.25h.8v.8h-.8zM328.09 52.08h.8v.8h-.8zM328.84 63.51h.8v.8h-.8zM342.46 77.34h.8v.8h-.8zM340.24 76.92h.8v.8h-.8zM325.36 51.21h.8v.8h-.8zM351.07 63.08h.8v.8h-.8zM329.36 49.79h.8v.8h-.8zM345.62 78.5h.8v.8h-.8zM351.4 69.97h.8v.8h-.8zM333.07 69.05h.8v.8h-.8zM354.48 66.64h.8v.8h-.8zM358.99 37.79h.8v.8h-.8zM358.57 47.06h.8v.8h-.8zM341.21 39.86h.8v.8h-.8zM324.78 61.11h.8v.8h-.8zM340.88 39.08h.8v.8h-.8zM359.4 39.78h.8v.8h-.8zM352.31 38.77h.8v.8h-.8zM342.61 38.71h.8v.8h-.8zM330.65 70.25h.8v.8h-.8zM336.09 71.99h.8v.8h-.8zM346.05 73.82h.8v.8h-.8zM333.11 38.79h.8v.8h-.8zM345.2 36.67h.8v.8h-.8zM352.31 37.76h.8v.8h-.8zM341.7 77.47h.8v.8h-.8zM358.46 40.8h.8v.8h-.8zM329.68 64.5h.8v.8h-.8zM354.89 64.43h.8v.8h-.8zM352.82 68.64h.8v.8h-.8zM337.69 40.03h.8v.8h-.8zM334.78 74.17h.8v.8h-.8zM346.12 73.04h.8v.8h-.8zM351.64 62.78h.8v.8h-.8zM339.95 74.47h.8v.8h-.8zM348.44 75.93h.8v.8h-.8zM358.52 54.82h.8v.8h-.8zM335.09 71.34h.8v.8h-.8zM335.76 41.91h.8v.8h-.8zM330 39.54h.8v.8h-.8zM359.49 40.42h.8v.8h-.8zM334.76 40.04h.8v.8h-.8zM326.56 43.27h.8v.8h-.8zM353.63 60.66h.8v.8h-.8zM350.37 71.27h.8v.8h-.8zM337.48 44.62h.8v.8h-.8zM355.63 40.49h.8v.8h-.8zM341.29 79.54h.8v.8h-.8zM328.83 65.91h.8v.8h-.8zM333.05 42.42h.8v.8h-.8zM349.5 74.33h.8v.8h-.8zM353.61 40.42h.8v.8h-.8zM341.49 72.69h.8v.8h-.8zM327.25 47.43h.8v.8h-.8zM354.98 59.61h.8v.8h-.8zM356.65 37.07h.8v.8h-.8zM336.14 70.23h.8v.8h-.8zM341.43 40.51h.8v.8h-.8zM337.65 75.53h.8v.8h-.8zM350.95 41.56h.8v.8h-.8zM336.24 73.92h.8v.8h-.8zM359.22 53.6h.8v.8h-.8zM333.57 74.02h.8v.8h-.8zM328.83 66.42h.8v.8h-.8zM337.24 71.28h.8v.8h-.8zM353.24 65.15h.8v.8h-.8zM326.83 57.91h.8v.8h-.8zM329.19 59.95h.8v.8h-.8zM327.86 42h.8v.8h-.8zM363.46 41.78h.8v.8h-.8zM355.54 42.3h.8v.8h-.8zM341.54 41h.8v.8h-.8zM331.28 64.57h.8v.8h-.8zM331.09 66.55h.8v.8h-.8zM350.92 70.65h.8v.8h-.8zM344.34 75.6h.8v.8h-.8zM341.04 39.08h.8v.8h-.8zM353.35 62.93h.8v.8h-.8zM329.02 52.92h.8v.8h-.8zM338.94 73.93h.8v.8h-.8zM336.92 71.3h.8v.8h-.8zM359.13 43.34h.8v.8h-.8zM351.51 72.02h.8v.8h-.8zM359.42 57.29h.8v.8h-.8zM353.86 62.23h.8v.8h-.8zM332.41 42.7h.8v.8h-.8zM364.69 44.32h.8v.8h-.8zM354.72 39.86h.8v.8h-.8zM331.05 65.18h.8v.8h-.8zM341.77 76.92h.8v.8h-.8zM339.44 74.72h.8v.8h-.8zM360.71 47.92h.8v.8h-.8zM333.27 68.29h.8v.8h-.8zM353.37 68.13h.8v.8h-.8zM345.64 76.72h.8v.8h-.8zM326.71 53.9h.8v.8h-.8zM339.54 38.5h.8v.8h-.8zM327.15 42.82h.8v.8h-.8zM343.95 38.32h.8v.8h-.8zM357.7 42.76h.8v.8h-.8zM362.27 47.49h.8v.8h-.8zM327.12 44.6h.8v.8h-.8zM359.47 54.7h.8v.8h-.8zM345.88 73.91h.8v.8h-.8zM332.49 70.56h.8v.8h-.8zM360.79 49.47h.8v.8h-.8zM352.96 63.67h.8v.8h-.8zM336.67 41.71h.8v.8h-.8zM324 47.25h.8v.8h-.8zM361 40.71h.8v.8h-.8zM358.9 39.34h.8v.8h-.8zM340.41 74.97h.8v.8h-.8zM345.78 40.47h.8v.8h-.8zM325.84 60.72h.8v.8h-.8zM328.67 40.56h.8v.8h-.8zM355.56 43.91h.8v.8h-.8zM327.87 49.07h.8v.8h-.8zM348.28 75.27h.8v.8h-.8zM351.94 64.1h.8v.8h-.8zM343.22 74.81h.8v.8h-.8zM327.76 55.76h.8v.8h-.8zM326.28 62.41h.8v.8h-.8zM364.47 51.79h.8v.8h-.8zM352.71 38.59h.8v.8h-.8zM357.81 55.11h.8v.8h-.8zM332.47 42.45h.8v.8h-.8zM336.17 38.36h.8v.8h-.8zM327.31 53h.8v.8h-.8zM331.5 42.98h.8v.8h-.8zM335.56 72.19h.8v.8h-.8zM325.92 61.04h.8v.8h-.8zM339.78 41.18h.8v.8h-.8zM327.5 54.56h.8v.8h-.8zM359.63 39.25h.8v.8h-.8zM361.83 48.69h.8v.8h-.8zM351.91 61.12h.8v.8h-.8zM354.79 63.02h.8v.8h-.8zM355.45 57.23h.8v.8h-.8zM354.04 58.49h.8v.8h-.8zM327.24 56.9h.8v.8h-.8zM341.58 77.2h.8v.8h-.8zM332.3 72.09h.8v.8h-.8zM331.56 38.18h.8v.8h-.8zM346.83 71.51h.8v.8h-.8zM335.34 71.61h.8v.8h-.8zM355.49 62.62h.8v.8h-.8zM326.73 63.13h.8v.8h-.8zM329.82 46.88h.8v.8h-.8zM360.45 36.34h.8v.8h-.8zM365.14 46.71h.8v.8h-.8zM349.65 38.2h.8v.8h-.8zM349.49 73.38h.8v.8h-.8zM325.1 53.59h.8v.8h-.8zM363.17 52.32h.8v.8h-.8zM335.79 69.74h.8v.8h-.8zM340.15 72.03h.8v.8h-.8zM348.63 40.18h.8v.8h-.8zM332.67 65.6h.8v.8h-.8zM332.83 65.9h.8v.8h-.8zM358.72 58.53h.8v.8h-.8zM357.08 50.16h.8v.8h-.8zM336.5 72.2h.8v.8h-.8zM328.45 65.31h.8v.8h-.8zM326.18 66.29h.8v.8h-.8zM351.22 66.7h.8v.8h-.8zM356.93 54.88h.8v.8h-.8zM335.24 75.32h.8v.8h-.8zM359.23 63.85h.8v.8h-.8zM346.02 77.09h.8v.8h-.8zM327.38 61.15h.8v.8h-.8zM350.32 73.81h.8v.8h-.8zM353.01 61.93h.8v.8h-.8zM327.83 60.15h.8v.8h-.8zM342.6 39.18h.8v.8h-.8zM354.37 38.27h.8v.8h-.8zM345.87 76.87h.8v.8h-.8zM356.98 62.32h.8v.8h-.8zM339.71 74.44h.8v.8h-.8zM352.78 69.4h.8v.8h-.8zM329.37 52.35h.8v.8h-.8zM327.19 57.2h.8v.8h-.8zM328.47 41.56h.8v.8h-.8zM360.38 49.33h.8v.8h-.8zM328.14 42.58h.8v.8h-.8zM341.19 77.27h.8v.8h-.8zM338.06 76.68h.8v.8h-.8zM324.88 43.92h.8v.8h-.8zM337.98 42.79h.8v.8h-.8zM356.34 42.56h.8v.8h-.8zM330.55 68.7h.8v.8h-.8zM346.36 38.91h.8v.8h-.8zM360.28 50.55h.8v.8h-.8zM335.52 71.29h.8v.8h-.8zM326.82 67.17h.8v.8h-.8zM326.47 52.4h.8v.8h-.8zM336.97 40.04h.8v.8h-.8zM355.04 56.78h.8v.8h-.8zM329.52 50.19h.8v.8h-.8zM337.84 74.12h.8v.8h-.8zM329.84 67.42h.8v.8h-.8zM359.99 49.21h.8v.8h-.8zM331.43 38.37h.8v.8h-.8zM362.41 47.09h.8v.8h-.8zM348.52 75.18h.8v.8h-.8zM342.59 74.56h.8v.8h-.8zM324.87 63.87h.8v.8h-.8zM358.56 38.01h.8v.8h-.8zM351.9 65.59h.8v.8h-.8zM344.95 73.76h.8v.8h-.8zM337.84 67.84h.8v.8h-.8zM344.62 42.51h.8v.8h-.8zM358.74 40.07h.8v.8h-.8zM358.99 59.12h.8v.8h-.8zM351.87 66.48h.8v.8h-.8zM337.55 75.17h.8v.8h-.8zM358.5 52.99h.8v.8h-.8zM342.34 74.38h.8v.8h-.8zM353.94 55.35h.8v.8h-.8zM341.22 74.07h.8v.8h-.8zM328.02 61.37h.8v.8h-.8zM361.69 43.25h.8v.8h-.8zM360.63 48.91h.8v.8h-.8zM325.85 43.92h.8v.8h-.8zM359.84 48.18h.8v.8h-.8zM341.09 41.76h.8v.8h-.8zM357.68 60.15h.8v.8h-.8zM347.05 76.88h.8v.8h-.8zM349.33 68.85h.8v.8h-.8zM357.89 40.38h.8v.8h-.8zM350.66 67.36h.8v.8h-.8zM328.71 59.33h.8v.8h-.8zM331.25 71.47h.8v.8h-.8zM354.18 55.31h.8v.8h-.8zM351.32 38.81h.8v.8h-.8zM348.81 76.7h.8v.8h-.8zM327.27 49.24h.8v.8h-.8zM355.8 59.17h.8v.8h-.8zM363.24 50.66h.8v.8h-.8zM334.25 39.49h.8v.8h-.8zM343.6 76.32h.8v.8h-.8zM361.69 43.25h.8v.8h-.8z" fill="#3c52ab" opacity="0.3"/>
<path d="M358.85 43.13h.8v.8h-.8zM356.12 57.75h.8v.8h-.8zM348.32 39.37h.8v.8h-.8zM341.69 42.97h.8v.8h-.8zM360.56 57.68h.8v.8h-.8zM324.82 61.9h.8v.8h-.8zM361.99 41.69h.8v.8h-.8zM334.47 38.82h.8v.8h-.8zM344.67 74.78h.8v.8h-.8zM352.61 68.77h.8v.8h-.8zM361.08 42.3h.8v.8h-.8zM361.03 51.31h.8v.8h-.8zM343.17 73.79h.8v.8h-.8zM360.57 43.42h.8v.8h-.8zM334.3 69h.8v.8h-.8zM342.45 77.82h.8v.8h-.8zM332.21 70.13h.8v.8h-.8zM342.28 76.4h.8v.8h-.8zM347.14 40h.8v.8h-.8zM324.06 52.32h.8v.8h-.8zM353.49 36.2h.8v.8h-.8zM360.07 41.33h.8v.8h-.8zM327.96 52.49h.8v.8h-.8zM361.45 47.17h.8v.8h-.8zM331.86 68.94h.8v.8h-.8zM350.94 71.21h.8v.8h-.8zM351.1 65.36h.8v.8h-.8zM341.87 40.14h.8v.8h-.8zM343.54 77.03h.8v.8h-.8zM329.74 51.14h.8v.8h-.8zM352.3 39.35h.8v.8h-.8zM331.36 65.95h.8v.8h-.8zM350.12 72.22h.8v.8h-.8zM357.33 39.46h.8v.8h-.8zM339.77 38.36h.8v.8h-.8zM329.73 64.44h.8v.8h-.8zM342.08 39.19h.8v.8h-.8zM350.86 66.67h.8v.8h-.8zM356.09 40.37h.8v.8h-.8zM353.81 39.32h.8v.8h-.8zM347.99 70.79h.8v.8h-.8zM329.01 65.89h.8v.8h-.8zM354.5 40.43h.8v.8h-.8zM346.62 76.68h.8v.8h-.8zM355.24 60.68h.8v.8h-.8zM359.4 50.47h.8v.8h-.8zM353.18 38.62h.8v.8h-.8zM338.59 72.71h.8v.8h-.8zM348.95 73.8h.8v.8h-.8zM345.89 37.37h.8v.8h-.8zM350.96 60.92h.8v.8h-.8zM325.51 47.95h.8v.8h-.8zM351.47 42.17h.8v.8h-.8zM361.24 50.05h.8v.8h-.8zM328.73 56.32h.8v.8h-.8zM324.97 56.13h.8v.8h-.8zM358.18 40.3h.8v.8h-.8zM343.03 75.5h.8v.8h-.8zM346.32 38.1h.8v.8h-.8zM328.44 54.12h.8v.8h-.8zM354.75 40.38h.8v.8h-.8zM330.56 42.65h.8v.8h-.8zM327.6 62.1h.8v.8h-.8zM359.79 43.72h.8v.8h-.8zM346.63 69.65h.8v.8h-.8zM358.87 51.18h.8v.8h-.8zM330.41 41.19h.8v.8h-.8zM333.6 70.02h.8v.8h-.8zM356.7 37.16h.8v.8h-.8zM334.46 37.66h.8v.8h-.8zM331.13 41.32h.8v.8h-.8zM360.71 38.93h.8v.8h-.8zM326.99 64.4h.8v.8h-.8zM358.45 41.79h.8v.8h-.8zM327.1 44.27h.8v.8h-.8zM330.14 67.48h.8v.8h-.8zM324.97 55.66h.8v.8h-.8zM346.6 77.36h.8v.8h-.8zM331.75 65.04h.8v.8h-.8zM324.83 63.62h.8v.8h-.8zM338.81 42.93h.8v.8h-.8zM344.19 73.4h.8v.8h-.8zM357.16 61.28h.8v.8h-.8zM351.92 40.91h.8v.8h-.8zM339.02 72.47h.8v.8h-.8zM360.55 49.89h.8v.8h-.8zM333 72.15h.8v.8h-.8zM362.83 43.71h.8v.8h-.8zM335.21 72.42h.8v.8h-.8zM343.22 70.72h.8v.8h-.8zM346.36 74.67h.8v.8h-.8zM349.77 71.46h.8v.8h-.8zM343.96 75.74h.8v.8h-.8zM344.73 73.49h.8v.8h-.8zM346.3 38.29h.8v.8h-.8zM331.85 68.88h.8v.8h-.8zM342.82 77.6h.8v.8h-.8zM362.72 45.17h.8v.8h-.8zM351.53 70.78h.8v.8h-.8zM357.46 54.08h.8v.8h-.8zM335.83 38.31h.8v.8h-.8zM357.57 58.94h.8v.8h-.8zM329.94 63.49h.8v.8h-.8zM360.27 47.98h.8v.8h-.8zM349.7 73.53h.8v.8h-.8zM346.48 39.39h.8v.8h-.8zM358.84 48.27h.8v.8h-.8zM345.25 39.34h.8v.8h-.8zM332.64 42.29h.8v.8h-.8zM335.96 66.66h.8v.8h-.8zM331.63 52.63h.8v.8h-.8zM353.39 59.34h.8v.8h-.8zM358.56 40.4h.8v.8h-.8zM347.51 36.69h.8v.8h-.8zM337.45 72.29h.8v.8h-.8zM353.19 36.96h.8v.8h-.8zM324.84 60.36h.8v.8h-.8zM357.84 41.89h.8v.8h-.8zM325.84 57.06h.8v.8h-.8zM361.59 52.79h.8v.8h-.8zM340.35 75.8h.8v.8h-.8zM339.73 74.71h.8v.8h-.8zM334.34 70.61h.8v.8h-.8zM334.29 73.77h.8v.8h-.8zM329.08 40.32h.8v.8h-.8zM361.81 48.14h.8v.8h-.8zM331.33 53.67h.8v.8h-.8zM324.21 48.64h.8v.8h-.8zM331.71 65.47h.8v.8h-.8zM347.7 78.28h.8v.8h-.8zM359.23 57.93h.8v.8h-.8zM359.56 49.19h.8v.8h-.8zM348.5 74.61h.8v.8h-.8zM326.81 41.99h.8v.8h-.8zM361.36 39.75h.8v.8h-.8zM346.67 76.01h.8v.8h-.8zM351.93 66.52h.8v.8h-.8zM325.17 53.84h.8v.8h-.8zM348.63 75.02h.8v.8h-.8zM361.85 50.1h.8v.8h-.8zM344.32 71.19h.8v.8h-.8zM338.35 74.17h.8v.8h-.8zM349.16 39.34h.8v.8h-.8zM361.84 43.32h.8v.8h-.8zM343.16 73.97h.8v.8h-.8zM352.65 67.88h.8v.8h-.8zM324.73 51.33h.8v.8h-.8zM357.98 42.72h.8v.8h-.8zM348.14 77.35h.8v.8h-.8zM348.71 38.83h.8v.8h-.8zM353.86 40.08h.8v.8h-.8zM356.73 37.82h.8v.8h-.8zM327.7 44.32h.8v.8h-.8zM336.8 38.81h.8v.8h-.8zM325.61 59.51h.8v.8h-.8zM359.25 49.7h.8v.8h-.8zM364.21 44.73h.8v.8h-.8zM352.46 38.27h.8v.8h-.8zM351.59 74.68h.8v.8h-.8zM324.57 50h.8v.8h-.8zM362.53 43.04h.8v.8h-.8zM334.87 66.67h.8v.8h-.8zM327.58 64.52h.8v.8h-.8zM331.38 42.6h.8v.8h-.8zM362.09 45.4h.8v.8h-.8zM335.65 66.84h.8v.8h-.8zM326.49 65.2h.8v.8h-.8zM327.86 56.83h.8v.8h-.8zM355.4 66.69h.8v.8h-.8zM331.92 44.6h.8v.8h-.8zM331.65 37.93h.8v.8h-.8zM345.99 74.88h.8v.8h-.8zM324.78 49.4h.8v.8h-.8zM328.53 42.33h.8v.8h-.8zM329.97 64.98h.8v.8h-.8zM359.69 42.11h.8v.8h-.8zM359.96 46.5h.8v.8h-.8zM332.13 65.16h.8v.8h-.8zM355.84 58.04h.8v.8h-.8zM351.5 64.19h.8v.8h-.8zM334.11 39.58h.8v.8h-.8zM354.6 62.36h.8v.8h-.8zM336.57 72.04h.8v.8h-.8zM359.62 47.16h.8v.8h-.8zM334.74 62.68h.8v.8h-.8zM352.83 36.59h.8v.8h-.8zM330.7 46.64h.8v.8h-.8zM350.87 64.46h.8v.8h-.8zM332.86 69.17h.8v.8h-.8zM361.24 48.52h.8v.8h-.8zM331.9 64.67h.8v.8h-.8zM353 38.4h.8v.8h-.8zM328.6 46.83h.8v.8h-.8zM359.25 38.65h.8v.8h-.8zM328.38 65.48h.8v.8h-.8zM326.5 52.52h.8v.8h-.8zM350.42 40.38h.8v.8h-.8zM333.56 70.54h.8v.8h-.8zM357.19 42.69h.8v.8h-.8zM357.33 59.46h.8v.8h-.8zM356.89 41.29h.8v.8h-.8zM356.5 57.98h.8v.8h-.8zM359.75 46.58h.8v.8h-.8zM345.43 77.02h.8v.8h-.8zM357.44 60.18h.8v.8h-.8zM350.61 69.38h.8v.8h-.8zM328.12 42.62h.8v.8h-.8zM330.13 43.01h.8v.8h-.8zM346.14 72.27h.8v.8h-.8zM353.81 67.75h.8v.8h-.8zM342.23 42.4h.8v.8h-.8zM326.19 53.44h.8v.8h-.8zM349.4 73.12h.8v.8h-.8zM359.32 44.88h.8v.8h-.8zM354.86 56.53h.8v.8h-.8zM332.04 39.2h.8v.8h-.8zM340.58 38.5h.8v.8h-.8zM326.17 56.93h.8v.8h-.8zM342.26 76.07h.8v.8h-.8zM346.39 72.56h.8v.8h-.8zM342.65 76.6h.8v.8h-.8zM355.37 38.95h.8v.8h-.8zM339.77 39.68h.8v.8h-.8zM335.81 70.36h.8v.8h-.8zM344.95 77.26h.8v.8h-.8zM347.29 40.56h.8v.8h-.8zM344.9 41.76h.8v.8h-.8zM338.2 37.57h.8v.8h-.8zM332.14 40.8h.8v.8h-.8zM355.47 63.02h.8v.8h-.8zM351.97 64.36h.8v.8h-.8zM358.77 56.24h.8v.8h-.8zM328.46 59.61h.8v.8h-.8zM326.59 48.87h.8v.8h-.8zM357.81 59.28h.8v.8h-.8zM357.52 57.07h.8v.8h-.8zM361.88 52.71h.8v.8h-.8zM358.23 54.46h.8v.8h-.8zM354.3 62.74h.8v.8h-.8zM331.14 66.79h.8v.8h-.8zM346.73 75.28h.8v.8h-.8zM328.21 43.3h.8v.8h-.8zM329.81 66.37h.8v.8h-.8zM338.47 74.36h.8v.8h-.8zM360.21 50.53h.8v.8h-.8zM347.4 69.56h.8v.8h-.8zM333.72 70.61h.8v.8h-.8zM363.89 45.84h.8v.8h-.8zM342.57 74.76h.8v.8h-.8zM358.71 57.02h.8v.8h-.8zM343.93 78.55h.8v.8h-.8zM338.65 72.23h.8v.8h-.8zM348.47 73.41h.8v.8h-.8zM352.09 61.8h.8v.8h-.8zM334.63 42.9h.8v.8h-.8zM347.39 76.91h.8v.8h-.8zM324.05 39.02h.8v.8h-.8zM324.33 47.33h.8v.8h-.8zM362.8 43.06h.8v.8h-.8zM351.4 63.57h.8v.8h-.8zM328.71 61.99h.8v.8h-.8zM357.95 56.98h.8v.8h-.8zM340.32 77.3h.8v.8h-.8zM345.81 41.78h.8v.8h-.8zM359.45 53.04h.8v.8h-.8zM336.71 69.93h.8v.8h-.8zM343.48 77.75h.8v.8h-.8zM329.42 43.14h.8v.8h-.8zM326.37 48.47h.8v.8h-.8zM326.2 53.29h.8v.8h-.8zM325.64 51.63h.8v.8h-.8zM348.69 70.96h.8v.8h-.8zM332.85 68.09h.8v.8h-.8zM334.73 40.24h.8v.8h-.8zM354.45 55.63h.8v.8h-.8zM333.93 41.8h.8v.8h-.8zM324.71 50.05h.8v.8h-.8zM358.56 57.1h.8v.8h-.8zM343.45 76.29h.8v.8h-.8zM348.01 76.12h.8v.8h-.8zM361.53 48.97h.8v.8h-.8zM332.64 67.54h.8v.8h-.8zM324.36 44.01h.8v.8h-.8zM352.93 71.19h.8v.8h-.8zM349.32 72.45h.8v.8h-.8zM361.29 38.44h.8v.8h-.8zM362.21 46.41h.8v.8h-.8zM353.37 62.3h.8v.8h-.8zM324.94 61.3h.8v.8h-.8zM354.39 39.48h.8v.8h-.8zM353.93 64.59h.8v.8h-.8zM325.32 42.5h.8v.8h-.8zM360.33 48.76h.8v.8h-.8zM335.58 77.05h.8v.8h-.8zM345.22 75.6h.8v.8h-.8zM360.49 44.35h.8v.8h-.8zM346.91 75.13h.8v.8h-.8zM339.09 74.26h.8v.8h-.8zM341.44 76.84h.8v.8h-.8zM324.32 51.5h.8v.8h-.8zM336.99 73.29h.8v.8h-.8zM326.25 57.94h.8v.8h-.8zM344.06 41.07h.8v.8h-.8zM362.16 48.48h.8v.8h-.8zM348.98 73.52h.8v.8h-.8zM341.08 78.52h.8v.8h-.8zM354.37 64.16h.8v.8h-.8zM334.24 39.74h.8v.8h-.8zM360.16 52.88h.8v.8h-.8zM344 73.45h.8v.8h-.8zM341.11 41.86h.8v.8h-.8zM353.13 63.71h.8v.8h-.8zM338.92 72.63h.8v.8h-.8zM357.17 56.14h.8v.8h-.8zM361.91 50.56h.8v.8h-.8zM351.61 40.51h.8v.8h-.8zM335.08 39.62h.8v.8h-.8zM325.76 43.39h.8v.8h-.8zM328.46 39.84h.8v.8h-.8zM333.82 69.29h.8v.8h-.8zM357.07 42.6h.8v.8h-.8zM334.81 68.05h.8v.8h-.8zM331.81 67.05h.8v.8h-.8zM360.06 45.13h.8v.8h-.8zM333.06 68.38h.8v.8h-.8zM347.36 77.06h.8v.8h-.8zM326.83 47.31h.8v.8h-.8zM354.43 38.33h.8v.8h-.8zM364.32 44.74h.8v.8h-.8zM355.45 62.87h.8v.8h-.8zM333.66 66.8h.8v.8h-.8zM357 55h.8v.8h-.8zM337.37 42.2h.8v.8h-.8zM343.34 80.37h.8v.8h-.8zM326.18 46.13h.8v.8h-.8zM342.6 73.27h.8v.8h-.8zM350.86 72.7h.8v.8h-.8zM341.78 75.28h.8v.8h-.8zM334.93 42.44h.8v.8h-.8zM339.84 44.82h.8v.8h-.8zM326.97 51.36h.8v.8h-.8zM343.57 74.79h.8v.8h-.8zM341.56 75.09h.8v.8h-.8zM327.61 44.17h.8v.8h-.8zM359.94 44.25h.8v.8h-.8zM346.33 39.77h.8v.8h-.8zM347.9 73.85h.8v.8h-.8zM325.9 45.36h.8v.8h-.8zM335.09 74.99h.8v.8h-.8zM353.65 61.86h.8v.8h-.8zM348.16 37.32h.8v.8h-.8zM348.7 74.08h.8v.8h-.8zM348.32 70.99h.8v.8h-.8zM365.56 39.61h.8v.8h-.8zM356.01 58.86h.8v.8h-.8zM325.18 65.11h.8v.8h-.8zM340.51 39.13h.8v.8h-.8zM357.61 57.61h.8v.8h-.8zM331.17 63.96h.8v.8h-.8zM332.9 69.86h.8v.8h-.8zM326.83 57.92h.8v.8h-.8zM345.79 41.82h.8v.8h-.8zM337.76 75.42h.8v.8h-.8zM331.17 66.13h.8v.8h-.8zM343.47 77.2h.8v.8h-.8zM343.4 78.51h.8v.8h-.8zM334.79 71.02h.8v.8h-.8zM358.87 44.65h.8v.8h-.8zM358.79 45.09h.8v.8h-.8zM341.7 77.12h.8v.8h-.8zM331.18 68.41h.8v.8h-.8zM330.92 41.55h.8v.8h-.8zM348.09 69.72h.8v.8h-.8zM355.4 55.46h.8v.8h-.8zM356.14 40.22h.8v.8h-.8zM350.39 74.58h.8v.8h-.8zM344.67 77.03h.8v.8h-.8zM338.43 40.02h.8v.8h-.8zM338.55 78.38h.8v.8h-.8zM330.36 48.11h.8v.8h-.8zM326.35 42.26h.8v.8h-.8zM341.62 72.53h.8v.8h-.8zM350.17 70.69h.8v.8h-.8zM336.17 73.31h.8v.8h-.8zM335.09 40.84h.8v.8h-.8zM365.27 47.34h.8v.8h-.8zM352.34 60.11h.8v.8h-.8zM357.65 66.21h.8v.8h-.8zM351.15 70.41h.8v.8h-.8zM349.74 72.77h.8v.8h-.8zM354.88 61.97h.8v.8h-.8zM323.81 61.26h.8v.8h-.8zM333.01 41.23h.8v.8h-.8zM337.8 74.32h.8v.8h-.8zM338.21 73.07h.8v.8h-.8zM342.82 76.74h.8v.8h-.8zM356.37 40.88h.8v.8h-.8zM338.13 39.81h.8v.8h-.8zM362.67 46.19h.8v.8h-.8zM344.72 40.33h.8v.8h-.8zM332.81 70.75h.8v.8h-.8zM343.61 41.3h.8v.8h-.8zM354.27 60.14h.8v.8h-.8zM360.82 51.88h.8v.8h-.8zM336.68 73.32h.8v.8h-.8zM337.69 74.11h.8v.8h-.8zM358.18 41.62h.8v.8h-.8zM328.29 64.21h.8v.8h-.8zM350.15 41.13h.8v.8h-.8zM358.71 37.05h.8v.8h-.8zM352.78 63.85h.8v.8h-.8zM337.21 42.74h.8v.8h-.8zM340.66 44.62h.8v.8h-.8zM343.74 74.61h.8v.8h-.8zM329.23 44.74h.8v.8h-.8zM332.58 41.56h.8v.8h-.8zM359.48 42.53h.8v.8h-.8zM360.67 38.17h.8v.8h-.8zM355.87 40.16h.8v.8h-.8zM335.73 39.2h.8v.8h-.8zM350.63 73.52h.8v.8h-.8zM328.65 64.03h.8v.8h-.8zM333.66 66.22h.8v.8h-.8zM342.34 78.39h.8v.8h-.8zM361.43 45.43h.8v.8h-.8zM326.29 62.46h.8v.8h-.8zM327.69 46.37h.8v.8h-.8zM354.32 61.22h.8v.8h-.8zM352.88 62.38h.8v.8h-.8zM329.58 41.27h.8v.8h-.8zM344.9 40.49h.8v.8h-.8zM341.54 74.29h.8v.8h-.8zM327.68 41.41h.8v.8h-.8zM326.72 42.08h.8v.8h-.8zM335.91 74.05h.8v.8h-.8zM328.04 61.76h.8v.8h-.8zM332.35 40.3h.8v.8h-.8zM353.66 59.25h.8v.8h-.8zM349.28 38.99h.8v.8h-.8zM357.68 60.74h.8v.8h-.8zM360.76 44.81h.8v.8h-.8zM326.65 61.29h.8v.8h-.8zM332.76 69.32h.8v.8h-.8zM361.91 49.25h.8v.8h-.8zM345.63 78.64h.8v.8h-.8zM352.46 68.9h.8v.8h-.8zM355.39 70.51h.8v.8h-.8zM355.71 60.6h.8v.8h-.8zM344.43 38.72h.8v.8h-.8zM349.76 71.61h.8v.8h-.8zM351.53 66.67h.8v.8h-.8zM342.11 42.08h.8v.8h-.8zM356.28 58h.8v.8h-.8zM364.22 43.97h.8v.8h-.8zM353.05 72.67h.8v.8h-.8zM355.47 41.67h.8v.8h-.8zM328.03 56.49h.8v.8h-.8zM359.61 42.02h.8v.8h-.8zM332.43 67.71h.8v.8h-.8zM359.82 51.66h.8v.8h-.8zM341.95 78.9h.8v.8h-.8zM345 73.59h.8v.8h-.8zM356.54 37.87h.8v.8h-.8zM329.6 69h.8v.8h-.8zM360.31 53.2h.8v.8h-.8zM344.2 45.84h.8v.8h-.8zM335.71 71h.8v.8h-.8zM335.51 40.48h.8v.8h-.8zM327.89 55.67h.8v.8h-.8zM349.17 71.37h.8v.8h-.8zM341.11 39.52h.8v.8h-.8zM355.94 40.9h.8v.8h-.8zM327.54 42.43h.8v.8h-.8zM341.76 42.11h.8v.8h-.8zM330.84 46.85h.8v.8h-.8zM349.26 73.22h.8v.8h-.8zM327.58 45.39h.8v.8h-.8zM335.24 75.12h.8v.8h-.8zM360.53 45.28h.8v.8h-.8z" fill="#3c52ab" opacity="0.5"/>
<path d="M326.1 57.64h.8v.8h-.8zM334.21 43.25h.8v.8h-.8zM339.19 41.68h.8v.8h-.8zM359.61 41.08h.8v.8h-.8zM343.92 71.62h.8v.8h-.8zM354.43 61.1h.8v.8h-.8zM360.46 52.55h.8v.8h-.8zM346.14 76.29h.8v.8h-.8zM325.92 59.55h.8v.8h-.8zM335.9 76.97h.8v.8h-.8zM342.61 38.8h.8v.8h-.8zM331.16 65h.8v.8h-.8zM353.2 63.93h.8v.8h-.8zM351.55 67.51h.8v.8h-.8zM356.87 60.27h.8v.8h-.8zM360.16 46.64h.8v.8h-.8zM355.83 40.84h.8v.8h-.8zM333.52 66.88h.8v.8h-.8zM363.11 48.46h.8v.8h-.8zM355.31 68.86h.8v.8h-.8zM340.37 39.68h.8v.8h-.8zM350.5 39h.8v.8h-.8zM356.72 38.75h.8v.8h-.8zM348.08 74.05h.8v.8h-.8zM330.53 41.93h.8v.8h-.8zM343.32 40.61h.8v.8h-.8zM341.34 75.65h.8v.8h-.8zM329.34 42.69h.8v.8h-.8zM336.04 72.84h.8v.8h-.8zM351.09 62.14h.8v.8h-.8zM328.36 63.19h.8v.8h-.8zM359.04 42.31h.8v.8h-.8zM351.5 39.13h.8v.8h-.8zM330.91 66.08h.8v.8h-.8zM333.6 70.22h.8v.8h-.8zM347.64 40.87h.8v.8h-.8zM362.56 34.52h.8v.8h-.8zM364.69 42.28h.8v.8h-.8zM347.18 80.4h.8v.8h-.8zM348.78 74.04h.8v.8h-.8zM356.1 61.96h.8v.8h-.8zM350.32 70.33h.8v.8h-.8zM357.77 52.56h.8v.8h-.8zM362.91 43.56h.8v.8h-.8zM328.17 52.35h.8v.8h-.8zM361.79 43.41h.8v.8h-.8zM334.09 38.73h.8v.8h-.8zM360.46 40.25h.8v.8h-.8zM326.88 60.96h.8v.8h-.8zM329 45.74h.8v.8h-.8zM348 71.62h.8v.8h-.8zM350.06 74.12h.8v.8h-.8zM338.62 76.03h.8v.8h-.8zM349.36 71.23h.8v.8h-.8zM359.17 39.4h.8v.8h-.8zM348.81 39.05h.8v.8h-.8zM349.9 70.33h.8v.8h-.8zM328.67 51.89h.8v.8h-.8zM326.19 59.12h.8v.8h-.8zM349.8 69.61h.8v.8h-.8zM337.15 71.38h.8v.8h-.8zM328.07 61.8h.8v.8h-.8zM360.5 47.09h.8v.8h-.8zM354.38 66.56h.8v.8h-.8zM327.21 43.07h.8v.8h-.8zM353.38 66.76h.8v.8h-.8zM328.04 54.42h.8v.8h-.8zM362.31 54.49h.8v.8h-.8zM342.88 39.54h.8v.8h-.8zM343.66 74.35h.8v.8h-.8zM327.44 54.72h.8v.8h-.8zM352.33 40.11h.8v.8h-.8zM350.65 40.11h.8v.8h-.8zM327.46 67.17h.8v.8h-.8zM328.98 65.45h.8v.8h-.8zM329.09 59.81h.8v.8h-.8zM324.36 59.9h.8v.8h-.8zM357.01 40.17h.8v.8h-.8zM361.43 42.98h.8v.8h-.8zM351.55 65.62h.8v.8h-.8zM327.18 56.76h.8v.8h-.8zM355.51 38.8h.8v.8h-.8zM355.14 60.63h.8v.8h-.8zM353.43 67.82h.8v.8h-.8zM355.99 66.92h.8v.8h-.8zM330.94 66.5h.8v.8h-.8zM359.2 39.21h.8v.8h-.8zM348.61 39.64h.8v.8h-.8zM352.41 39.69h.8v.8h-.8zM363.52 48.85h.8v.8h-.8zM330.31 62.15h.8v.8h-.8zM327.21 62.02h.8v.8h-.8zM346.55 77.72h.8v.8h-.8zM350.18 36.69h.8v.8h-.8zM362.6 51.25h.8v.8h-.8zM360.64 37.37h.8v.8h-.8zM324.56 56.16h.8v.8h-.8zM356.56 40.34h.8v.8h-.8zM352.91 40.05h.8v.8h-.8zM352.14 60.93h.8v.8h-.8zM327.52 42.96h.8v.8h-.8zM358.57 41.18h.8v.8h-.8zM326.28 45.53h.8v.8h-.8zM341.03 43.1h.8v.8h-.8zM341.17 38.2h.8v.8h-.8zM358.88 40.89h.8v.8h-.8zM357.29 38.55h.8v.8h-.8zM326.72 41.64h.8v.8h-.8zM330.11 66.04h.8v.8h-.8zM345.01 77.88h.8v.8h-.8zM357.55 54.5h.8v.8h-.8zM341.37 72.43h.8v.8h-.8zM328.93 65.5h.8v.8h-.8zM351 72.12h.8v.8h-.8zM340.75 43.63h.8v.8h-.8zM329.09 42.18h.8v.8h-.8zM344.89 73.84h.8v.8h-.8zM339.78 38.48h.8v.8h-.8zM349.95 68.35h.8v.8h-.8zM337.54 78.9h.8v.8h-.8zM360.21 40.77h.8v.8h-.8zM341.87 43.49h.8v.8h-.8zM353.76 40.2h.8v.8h-.8zM328 50.36h.8v.8h-.8zM333.11 65.47h.8v.8h-.8zM359.58 58.28h.8v.8h-.8zM347.34 73.03h.8v.8h-.8zM332.81 66.9h.8v.8h-.8zM337.6 70.64h.8v.8h-.8zM335.98 40.1h.8v.8h-.8zM333.29 67.26h.8v.8h-.8zM339.78 42.35h.8v.8h-.8zM333.73 42.83h.8v.8h-.8zM334.96 71.41h.8v.8h-.8zM354.71 51.36h.8v.8h-.8zM329.42 42.46h.8v.8h-.8zM360.15 47.52h.8v.8h-.8zM340.21 76.86h.8v.8h-.8zM334.26 72.96h.8v.8h-.8zM348.86 74.75h.8v.8h-.8zM341.89 75.42h.8v.8h-.8zM348.66 37.43h.8v.8h-.8zM347.35 75h.8v.8h-.8zM357.72 51.5h.8v.8h-.8zM348.55 39.67h.8v.8h-.8zM359.47 46.44h.8v.8h-.8zM362.72 44.53h.8v.8h-.8zM348.31 72.21h.8v.8h-.8zM360.7 46.43h.8v.8h-.8zM331.02 62.46h.8v.8h-.8zM359.19 64.63h.8v.8h-.8zM352.1 68.67h.8v.8h-.8zM347.58 41.16h.8v.8h-.8zM338.63 42.61h.8v.8h-.8zM333.66 69.02h.8v.8h-.8zM361.67 46.12h.8v.8h-.8zM327.76 39.34h.8v.8h-.8zM330.73 66.61h.8v.8h-.8zM361.48 41.31h.8v.8h-.8zM358.47 56.5h.8v.8h-.8zM338.99 70.9h.8v.8h-.8zM353.17 61.99h.8v.8h-.8zM356.08 67.47h.8v.8h-.8zM357.3 56.81h.8v.8h-.8zM325.04 49.52h.8v.8h-.8zM360.69 42.44h.8v.8h-.8zM344.44 37.45h.8v.8h-.8zM341.61 37.62h.8v.8h-.8zM344.76 73.29h.8v.8h-.8zM325.93 44.31h.8v.8h-.8zM360.59 47.72h.8v.8h-.8zM330.91 67.73h.8v.8h-.8zM335.26 68.47h.8v.8h-.8zM351.9 69.32h.8v.8h-.8zM350.92 36.99h.8v.8h-.8zM353.05 38.12h.8v.8h-.8zM358.98 54.4h.8v.8h-.8zM349.24 73.45h.8v.8h-.8zM359.86 42.91h.8v.8h-.8zM341.92 77.23h.8v.8h-.8zM360.18 52.78h.8v.8h-.8zM362.93 50.49h.8v.8h-.8zM338.28 71.9h.8v.8h-.8zM361.3 41.7h.8v.8h-.8zM336.29 43.37h.8v.8h-.8zM359.43 40.73h.8v.8h-.8zM326.3 46.82h.8v.8h-.8zM364.15 44.35h.8v.8h-.8zM343.47 76.92h.8v.8h-.8zM349.24 66.34h.8v.8h-.8zM348.23 39.09h.8v.8h-.8zM349.81 69.23h.8v.8h-.8zM343.61 40.54h.8v.8h-.8zM359.87 44.96h.8v.8h-.8zM324.98 55.14h.8v.8h-.8zM347.88 71.04h.8v.8h-.8zM361.2 39.29h.8v.8h-.8zM357.91 45.54h.8v.8h-.8zM354.49 59.63h.8v.8h-.8zM339.64 74.08h.8v.8h-.8zM336.68 73.17h.8v.8h-.8zM328.4 64.65h.8v.8h-.8zM354.4 39.97h.8v.8h-.8zM362.64 43.8h.8v.8h-.8zM345.44 75.1h.8v.8h-.8zM342.6 77.8h.8v.8h-.8zM356.47 40.36h.8v.8h-.8zM331.75 46.57h.8v.8h-.8zM353.85 68.2h.8v.8h-.8zM337.2 43.96h.8v.8h-.8zM340.11 72.31h.8v.8h-.8zM342.28 75.41h.8v.8h-.8zM325.19 63.25h.8v.8h-.8zM339.41 41.97h.8v.8h-.8zM351.73 40.23h.8v.8h-.8zM343.91 74.1h.8v.8h-.8zM342.84 74.36h.8v.8h-.8zM336.47 40.76h.8v.8h-.8zM332.25 42.05h.8v.8h-.8zM352.32 68.23h.8v.8h-.8zM336.61 46.73h.8v.8h-.8zM338.97 38.49h.8v.8h-.8zM327.64 64.19h.8v.8h-.8zM342.15 43.67h.8v.8h-.8zM326.14 51.78h.8v.8h-.8zM355.95 42.4h.8v.8h-.8zM331.2 68.52h.8v.8h-.8zM325.18 56.34h.8v.8h-.8zM333.99 64.5h.8v.8h-.8zM352.5 71.11h.8v.8h-.8zM335.77 72.79h.8v.8h-.8zM341.8 76.9h.8v.8h-.8zM336.09 42.89h.8v.8h-.8zM339.67 72.93h.8v.8h-.8zM340.48 77.45h.8v.8h-.8zM329.92 42.11h.8v.8h-.8zM326.98 40.02h.8v.8h-.8zM339.11 40.12h.8v.8h-.8zM351.11 72.66h.8v.8h-.8zM342.67 79.04h.8v.8h-.8zM341.37 79.27h.8v.8h-.8zM356.65 38.37h.8v.8h-.8zM353.57 36.6h.8v.8h-.8zM358.55 39.01h.8v.8h-.8zM359.87 55.2h.8v.8h-.8zM359.5 50.36h.8v.8h-.8zM326.7 53.38h.8v.8h-.8zM362.04 45.59h.8v.8h-.8zM332.29 68.63h.8v.8h-.8zM329.49 39.41h.8v.8h-.8zM351.84 69.72h.8v.8h-.8zM341.47 74.33h.8v.8h-.8zM357.67 55.44h.8v.8h-.8zM356.76 59.27h.8v.8h-.8zM352 39.7h.8v.8h-.8zM334.93 68.99h.8v.8h-.8zM333.05 72.26h.8v.8h-.8zM348.39 39.48h.8v.8h-.8zM347.66 35.74h.8v.8h-.8zM352.98 60.66h.8v.8h-.8zM325.01 52.66h.8v.8h-.8zM366.03 42.71h.8v.8h-.8zM349.04 76.31h.8v.8h-.8zM328.07 56.96h.8v.8h-.8zM334.89 68.5h.8v.8h-.8zM346.08 74.41h.8v.8h-.8zM329.06 50.88h.8v.8h-.8zM362.06 48.05h.8v.8h-.8zM352.89 70.4h.8v.8h-.8zM352.07 64.33h.8v.8h-.8zM349.7 73.06h.8v.8h-.8zM358.02 43.45h.8v.8h-.8zM343.75 74.21h.8v.8h-.8zM328.95 59.46h.8v.8h-.8zM355.29 61.96h.8v.8h-.8zM335.08 68.6h.8v.8h-.8zM342.92 75.61h.8v.8h-.8zM326.69 44h.8v.8h-.8zM352.54 58.89h.8v.8h-.8zM348.5 73.93h.8v.8h-.8zM326.61 53.81h.8v.8h-.8zM349.93 71.04h.8v.8h-.8zM355.38 41.24h.8v.8h-.8zM325.01 52.11h.8v.8h-.8zM344.65 76.12h.8v.8h-.8zM354.2 62.53h.8v.8h-.8zM326.79 64.98h.8v.8h-.8zM337.88 41.47h.8v.8h-.8zM360.53 36.29h.8v.8h-.8zM360.53 52.7h.8v.8h-.8zM331.21 68.45h.8v.8h-.8zM351.71 66.86h.8v.8h-.8zM347.33 79.99h.8v.8h-.8zM325.67 55.33h.8v.8h-.8zM361.8 47.35h.8v.8h-.8zM327.22 57.25h.8v.8h-.8zM362.61 43.83h.8v.8h-.8zM326.75 52.59h.8v.8h-.8zM355.63 37.29h.8v.8h-.8zM359.68 40.3h.8v.8h-.8zM326.27 64.3h.8v.8h-.8zM349.72 41.33h.8v.8h-.8zM341.78 40.97h.8v.8h-.8zM361.16 48.47h.8v.8h-.8zM339.38 73.91h.8v.8h-.8zM357.32 50.74h.8v.8h-.8zM329.42 67.45h.8v.8h-.8zM345.38 41.23h.8v.8h-.8zM361.58 38.41h.8v.8h-.8zM356.47 48.88h.8v.8h-.8zM359.57 42.51h.8v.8h-.8zM360.13 40.57h.8v.8h-.8zM331.01 64.11h.8v.8h-.8zM328.46 63.85h.8v.8h-.8zM340.96 68.83h.8v.8h-.8zM359.55 41.72h.8v.8h-.8zM328.75 57.68h.8v.8h-.8zM345.61 39.17h.8v.8h-.8zM341.24 76.65h.8v.8h-.8zM329.33 41.41h.8v.8h-.8zM338.6 40.12h.8v.8h-.8zM324.47 40.51h.8v.8h-.8zM358.56 52.66h.8v.8h-.8zM356.58 59.62h.8v.8h-.8zM338.65 79.7h.8v.8h-.8zM362.36 43.38h.8v.8h-.8zM349.58 71.25h.8v.8h-.8zM331.92 67.76h.8v.8h-.8zM331.66 43.52h.8v.8h-.8zM338.26 38.94h.8v.8h-.8zM336.44 67.83h.8v.8h-.8zM329.95 41.18h.8v.8h-.8zM360.67 57.72h.8v.8h-.8zM345.17 74.82h.8v.8h-.8zM355.66 53.05h.8v.8h-.8zM353.6 35.95h.8v.8h-.8zM335.09 66.42h.8v.8h-.8zM345.1 40.23h.8v.8h-.8zM331.53 43.58h.8v.8h-.8zM333.42 41.01h.8v.8h-.8zM357.27 54.35h.8v.8h-.8zM359.74 56.84h.8v.8h-.8zM356.2 61.3h.8v.8h-.8zM362.15 45.18h.8v.8h-.8zM351.97 64.94h.8v.8h-.8zM351.23 70.66h.8v.8h-.8zM351.44 62.46h.8v.8h-.8zM361.1 56.15h.8v.8h-.8zM329.26 61.14h.8v.8h-.8zM355.37 36.17h.8v.8h-.8zM331.48 44.86h.8v.8h-.8zM361.57 49.38h.8v.8h-.8zM332.8 64.68h.8v.8h-.8zM350.92 36.07h.8v.8h-.8zM344.37 73.85h.8v.8h-.8zM326.76 55.24h.8v.8h-.8zM344.41 76.14h.8v.8h-.8zM355.06 42.67h.8v.8h-.8zM358.07 52.63h.8v.8h-.8zM327.56 61.76h.8v.8h-.8zM328.01 63.85h.8v.8h-.8zM354.69 63.29h.8v.8h-.8zM362.86 51.27h.8v.8h-.8zM331.73 68.38h.8v.8h-.8zM361.58 42.43h.8v.8h-.8zM327.28 59.31h.8v.8h-.8zM327.67 66.07h.8v.8h-.8zM351.06 72.95h.8v.8h-.8zM361.14 45.27h.8v.8h-.8zM332.39 37.3h.8v.8h-.8zM364.74 42.36h.8v.8h-.8zM339.18 77.65h.8v.8h-.8zM330.11 45.03h.8v.8h-.8zM359.51 43.81h.8v.8h-.8zM328.42 54.67h.8v.8h-.8zM325.63 61.63h.8v.8h-.8zM361.42 41.96h.8v.8h-.8zM325.75 41.97h.8v.8h-.8zM344.29 73.75h.8v.8h-.8zM362.91 44.48h.8v.8h-.8zM339.18 75.33h.8v.8h-.8zM361.13 49.44h.8v.8h-.8zM353.1 66.07h.8v.8h-.8zM364.4 45.92h.8v.8h-.8zM357.7 40.91h.8v.8h-.8zM351.92 42.14h.8v.8h-.8zM350.95 66.51h.8v.8h-.8zM346.69 75.44h.8v.8h-.8zM357.49 61.56h.8v.8h-.8zM351.69 40.94h.8v.8h-.8zM358.17 51.52h.8v.8h-.8zM337.52 75.33h.8v.8h-.8zM355.78 57.26h.8v.8h-.8zM353.77 63.87h.8v.8h-.8zM327.37 45.71h.8v.8h-.8zM346.4 72.66h.8v.8h-.8zM348.43 72.36h.8v.8h-.8zM356.23 62.54h.8v.8h-.8zM326.53 64.76h.8v.8h-.8zM336.98 73.03h.8v.8h-.8zM334.04 39.89h.8v.8h-.8zM342.21 40.53h.8v.8h-.8zM334.99 72.34h.8v.8h-.8zM361.29 52.9h.8v.8h-.8zM325.23 58.62h.8v.8h-.8zM332.77 67.97h.8v.8h-.8zM346.68 72.91h.8v.8h-.8zM349.93 67.16h.8v.8h-.8zM344.24 42.26h.8v.8h-.8zM359.51 42.83h.8v.8h-.8zM346.62 40.93h.8v.8h-.8zM358.95 40.97h.8v.8h-.8zM327.69 47.29h.8v.8h-.8zM328.27 64.12h.8v.8h-.8zM333.88 44.8h.8v.8h-.8zM347.42 40.92h.8v.8h-.8zM352.97 70.87h.8v.8h-.8zM351.04 67.69h.8v.8h-.8zM356.7 37.67h.8v.8h-.8zM331.83 69.92h.8v.8h-.8zM326.16 57.69h.8v.8h-.8zM327.65 49.87h.8v.8h-.8zM328.04 55.88h.8v.8h-.8zM338.36 74.07h.8v.8h-.8zM344 76.44h.8v.8h-.8zM357.55 42.91h.8v.8h-.8zM329.23 64.67h.8v.8h-.8zM335.12 67.95h.8v.8h-.8zM327.86 66.03h.8v.8h-.8zM345.29 74.96h.8v.8h-.8zM359.39 43.47h.8v.8h-.8zM361.55 45.19h.8v.8h-.8zM323.26 40.51h.8v.8h-.8zM333.95 40.31h.8v.8h-.8zM352.35 68.15h.8v.8h-.8zM360.66 56.53h.8v.8h-.8zM356.17 41.76h.8v.8h-.8zM337.17 73.02h.8v.8h-.8zM354.82 59.05h.8v.8h-.8zM326.86 66.43h.8v.8h-.8zM352.58 65.32h.8v.8h-.8zM344.44 42.39h.8v.8h-.8zM345.94 40.54h.8v.8h-.8zM338.15 74.5h.8v.8h-.8zM348.4 38.38h.8v.8h-.8zM360.26 39.35h.8v.8h-.8z" fill="#3c52ab" opacity="0.7"/>
<g filter="url(#b1)">
<path d="M329 45 C338 40 350 39 357.5 39.5 C361 41 362 45 361 50 C358 58 352 67 347 73 C343 76 338 72 333 67 C329 63 327.5 53 329 45Z" fill="#2d52bd"/>
</g>
<g filter="url(#b05)">
<path d="M337.2 58 C338.4 53 341.8 49.2 345.2 47.8 C348.2 46.8 352 45.2 354.5 46.6 C356 49.2 355.6 54 354.1 58 C352.2 62 349.4 65 345.8 65 C341.7 65 337.4 61.8 337.2 58Z" fill="#45bde6"/>
<path d="M338.4 58 C339.6 53.4 342.5 49.7 345.9 48.5 C348.8 47.6 351.9 46 353.8 47.5 C354.8 50.5 354.4 55 352.8 58.9 C351.1 62.2 348.6 64.1 346 64.1 C342.3 64.1 338.6 61.3 338.4 58Z" fill="#8dc63f"/>
<circle cx="346.5" cy="57.4" r="4.3" fill="#f1dc1e"/>
<circle cx="346.4" cy="57.4" r="2.5" fill="#e5231f"/>
</g>
</g>
<rect x="301.2" y="17.4" width="69.8" height="71.1" fill="none" stroke="#111" stroke-width="1.7"/>
<rect x="326.4" y="39.5" width="37.4" height="41.4" fill="none" stroke="#888" stroke-width="0.9"/>
<line x1="298.8" y1="17.8" x2="301.2" y2="17.8" stroke="#222" stroke-width="1"/>
<text x="286.2" y="21.5" font-size="8.6" textLength="8.4" lengthAdjust="spacingAndGlyphs">10</text>
<text x="295" y="17.9" font-size="5.2" textLength="2.6" lengthAdjust="spacingAndGlyphs">4</text>
<line x1="298.8" y1="33" x2="301.2" y2="33" stroke="#222" stroke-width="1"/>
<text x="286.2" y="36.7" font-size="8.6" textLength="8.4" lengthAdjust="spacingAndGlyphs">10</text>
<text x="295" y="33.1" font-size="5.2" textLength="2.6" lengthAdjust="spacingAndGlyphs">3</text>
<line x1="298.8" y1="48" x2="301.2" y2="48" stroke="#222" stroke-width="1"/>
<text x="286.2" y="51.7" font-size="8.6" textLength="8.4" lengthAdjust="spacingAndGlyphs">10</text>
<text x="295" y="48.1" font-size="5.2" textLength="2.6" lengthAdjust="spacingAndGlyphs">2</text>
<line x1="298.8" y1="63" x2="301.2" y2="63" stroke="#222" stroke-width="1"/>
<text x="286.2" y="66.7" font-size="8.6" textLength="8.4" lengthAdjust="spacingAndGlyphs">10</text>
<text x="295" y="63.1" font-size="5.2" textLength="2.6" lengthAdjust="spacingAndGlyphs">1</text>
<line x1="298.8" y1="77.5" x2="301.2" y2="77.5" stroke="#222" stroke-width="1"/>
<text x="298" y="80.4" font-size="7.8" text-anchor="end">0</text>
<line x1="300" y1="28.44" x2="301.2" y2="28.44" stroke="#444" stroke-width="0.6"/>
<line x1="300" y1="25.1" x2="301.2" y2="25.1" stroke="#444" stroke-width="0.6"/>
<line x1="300" y1="22.36" x2="301.2" y2="22.36" stroke="#444" stroke-width="0.6"/>
<line x1="300" y1="20.54" x2="301.2" y2="20.54" stroke="#444" stroke-width="0.6"/>
<line x1="300" y1="19.32" x2="301.2" y2="19.32" stroke="#444" stroke-width="0.6"/>
<line x1="300" y1="43.5" x2="301.2" y2="43.5" stroke="#444" stroke-width="0.6"/>
<line x1="300" y1="40.2" x2="301.2" y2="40.2" stroke="#444" stroke-width="0.6"/>
<line x1="300" y1="37.5" x2="301.2" y2="37.5" stroke="#444" stroke-width="0.6"/>
<line x1="300" y1="35.7" x2="301.2" y2="35.7" stroke="#444" stroke-width="0.6"/>
<line x1="300" y1="34.5" x2="301.2" y2="34.5" stroke="#444" stroke-width="0.6"/>
<line x1="300" y1="58.5" x2="301.2" y2="58.5" stroke="#444" stroke-width="0.6"/>
<line x1="300" y1="55.2" x2="301.2" y2="55.2" stroke="#444" stroke-width="0.6"/>
<line x1="300" y1="52.5" x2="301.2" y2="52.5" stroke="#444" stroke-width="0.6"/>
<line x1="300" y1="50.7" x2="301.2" y2="50.7" stroke="#444" stroke-width="0.6"/>
<line x1="300" y1="49.5" x2="301.2" y2="49.5" stroke="#444" stroke-width="0.6"/>
<line x1="300" y1="73.15" x2="301.2" y2="73.15" stroke="#444" stroke-width="0.6"/>
<line x1="300" y1="69.96" x2="301.2" y2="69.96" stroke="#444" stroke-width="0.6"/>
<line x1="300" y1="67.35" x2="301.2" y2="67.35" stroke="#444" stroke-width="0.6"/>
<line x1="300" y1="65.61" x2="301.2" y2="65.61" stroke="#444" stroke-width="0.6"/>
<line x1="300" y1="64.45" x2="301.2" y2="64.45" stroke="#444" stroke-width="0.6"/>
<line x1="310.8" y1="88.5" x2="310.8" y2="90.5" stroke="#222" stroke-width="1"/>
<text x="310.5" y="100.4" font-size="8.2" text-anchor="middle">0</text>
<line x1="325.4" y1="88.5" x2="325.4" y2="90.5" stroke="#222" stroke-width="1"/>
<text x="319.8" y="100.4" font-size="8.6" textLength="7.9" lengthAdjust="spacingAndGlyphs">10</text>
<text x="327.8" y="97.3" font-size="5.2" textLength="2.8" lengthAdjust="spacingAndGlyphs">1</text>
<line x1="340" y1="88.5" x2="340" y2="90.5" stroke="#222" stroke-width="1"/>
<text x="334.4" y="100.4" font-size="8.6" textLength="7.9" lengthAdjust="spacingAndGlyphs">10</text>
<text x="342.4" y="97.3" font-size="5.2" textLength="2.8" lengthAdjust="spacingAndGlyphs">2</text>
<line x1="354.6" y1="88.5" x2="354.6" y2="90.5" stroke="#222" stroke-width="1"/>
<text x="349" y="100.4" font-size="8.6" textLength="7.9" lengthAdjust="spacingAndGlyphs">10</text>
<text x="357" y="97.3" font-size="5.2" textLength="2.8" lengthAdjust="spacingAndGlyphs">3</text>
<line x1="369.2" y1="88.5" x2="369.2" y2="90.5" stroke="#222" stroke-width="1"/>
<text x="363.6" y="100.4" font-size="8.6" textLength="7.9" lengthAdjust="spacingAndGlyphs">10</text>
<text x="371.6" y="97.3" font-size="5.2" textLength="2.8" lengthAdjust="spacingAndGlyphs">4</text>
<line x1="315.18" y1="88.5" x2="315.18" y2="89.6" stroke="#444" stroke-width="0.6"/>
<line x1="317.81" y1="88.5" x2="317.81" y2="89.6" stroke="#444" stroke-width="0.6"/>
<line x1="319.56" y1="88.5" x2="319.56" y2="89.6" stroke="#444" stroke-width="0.6"/>
<line x1="321.02" y1="88.5" x2="321.02" y2="89.6" stroke="#444" stroke-width="0.6"/>
<line x1="322.19" y1="88.5" x2="322.19" y2="89.6" stroke="#444" stroke-width="0.6"/>
<line x1="323.21" y1="88.5" x2="323.21" y2="89.6" stroke="#444" stroke-width="0.6"/>
<line x1="323.94" y1="88.5" x2="323.94" y2="89.6" stroke="#444" stroke-width="0.6"/>
<line x1="324.67" y1="88.5" x2="324.67" y2="89.6" stroke="#444" stroke-width="0.6"/>
<line x1="329.78" y1="88.5" x2="329.78" y2="89.6" stroke="#444" stroke-width="0.6"/>
<line x1="332.41" y1="88.5" x2="332.41" y2="89.6" stroke="#444" stroke-width="0.6"/>
<line x1="334.16" y1="88.5" x2="334.16" y2="89.6" stroke="#444" stroke-width="0.6"/>
<line x1="335.62" y1="88.5" x2="335.62" y2="89.6" stroke="#444" stroke-width="0.6"/>
<line x1="336.79" y1="88.5" x2="336.79" y2="89.6" stroke="#444" stroke-width="0.6"/>
<line x1="337.81" y1="88.5" x2="337.81" y2="89.6" stroke="#444" stroke-width="0.6"/>
<line x1="338.54" y1="88.5" x2="338.54" y2="89.6" stroke="#444" stroke-width="0.6"/>
<line x1="339.27" y1="88.5" x2="339.27" y2="89.6" stroke="#444" stroke-width="0.6"/>
<line x1="344.38" y1="88.5" x2="344.38" y2="89.6" stroke="#444" stroke-width="0.6"/>
<line x1="347.01" y1="88.5" x2="347.01" y2="89.6" stroke="#444" stroke-width="0.6"/>
<line x1="348.76" y1="88.5" x2="348.76" y2="89.6" stroke="#444" stroke-width="0.6"/>
<line x1="350.22" y1="88.5" x2="350.22" y2="89.6" stroke="#444" stroke-width="0.6"/>
<line x1="351.39" y1="88.5" x2="351.39" y2="89.6" stroke="#444" stroke-width="0.6"/>
<line x1="352.41" y1="88.5" x2="352.41" y2="89.6" stroke="#444" stroke-width="0.6"/>
<line x1="353.14" y1="88.5" x2="353.14" y2="89.6" stroke="#444" stroke-width="0.6"/>
<line x1="353.87" y1="88.5" x2="353.87" y2="89.6" stroke="#444" stroke-width="0.6"/>
<line x1="358.98" y1="88.5" x2="358.98" y2="89.6" stroke="#444" stroke-width="0.6"/>
<line x1="361.61" y1="88.5" x2="361.61" y2="89.6" stroke="#444" stroke-width="0.6"/>
<line x1="363.36" y1="88.5" x2="363.36" y2="89.6" stroke="#444" stroke-width="0.6"/>
<line x1="364.82" y1="88.5" x2="364.82" y2="89.6" stroke="#444" stroke-width="0.6"/>
<line x1="365.99" y1="88.5" x2="365.99" y2="89.6" stroke="#444" stroke-width="0.6"/>
<line x1="367.01" y1="88.5" x2="367.01" y2="89.6" stroke="#444" stroke-width="0.6"/>
<line x1="367.74" y1="88.5" x2="367.74" y2="89.6" stroke="#444" stroke-width="0.6"/>
<line x1="368.47" y1="88.5" x2="368.47" y2="89.6" stroke="#444" stroke-width="0.6"/>
<line x1="281.9" y1="106.2" x2="281.9" y2="60.5" stroke="#111" stroke-width="1.4"/>
<path d="M281.9 56.5L284.4 61.5L279.4 61.5Z" fill="#111"/>
<line x1="281.2" y1="106.2" x2="316.7" y2="106.2" stroke="#111" stroke-width="1.4"/>
<path d="M320.7 106.2L315.7 103.7L315.7 108.7Z" fill="#111"/>
<text x="276.5" y="96.3" font-size="9.2" textLength="28.4" lengthAdjust="spacingAndGlyphs" transform="rotate(-90 276.5 96.3)">Cisplatin</text>
<text x="291.8" y="118.8" font-size="10.2" textLength="18.2" lengthAdjust="spacingAndGlyphs">CD45</text>
<rect x="402.5" y="17.2" width="68.9" height="71.3" fill="none" stroke="#111" stroke-width="1.5"/>
<line x1="400.3" y1="26.4" x2="402.5" y2="26.4" stroke="#222" stroke-width="1"/>
<text x="398.6" y="29.5" font-size="8.6" text-anchor="end" textLength="13.6" lengthAdjust="spacingAndGlyphs">15k</text>
<line x1="400.3" y1="47.2" x2="402.5" y2="47.2" stroke="#222" stroke-width="1"/>
<text x="398.6" y="50.3" font-size="8.6" text-anchor="end" textLength="13.6" lengthAdjust="spacingAndGlyphs">10k</text>
<line x1="400.3" y1="67.8" x2="402.5" y2="67.8" stroke="#222" stroke-width="1"/>
<text x="398.6" y="70.9" font-size="8.6" text-anchor="end" textLength="9.6" lengthAdjust="spacingAndGlyphs">5k</text>
<line x1="400.3" y1="88.3" x2="402.5" y2="88.3" stroke="#222" stroke-width="1"/>
<text x="398.6" y="91.4" font-size="8.6" text-anchor="end" textLength="4.4" lengthAdjust="spacingAndGlyphs">0</text>
<line x1="412.1" y1="88.5" x2="412.1" y2="90.5" stroke="#222" stroke-width="1"/>
<text x="412.3" y="100.9" font-size="7.8" text-anchor="middle">0</text>
<line x1="426.7" y1="88.5" x2="426.7" y2="90.5" stroke="#222" stroke-width="1"/>
<text x="421.1" y="100.9" font-size="8.6" textLength="7.9" lengthAdjust="spacingAndGlyphs">10</text>
<text x="429.1" y="97.8" font-size="5.2" textLength="2.8" lengthAdjust="spacingAndGlyphs">1</text>
<line x1="441.3" y1="88.5" x2="441.3" y2="90.5" stroke="#222" stroke-width="1"/>
<text x="435.7" y="100.9" font-size="8.6" textLength="7.9" lengthAdjust="spacingAndGlyphs">10</text>
<text x="443.7" y="97.8" font-size="5.2" textLength="2.8" lengthAdjust="spacingAndGlyphs">2</text>
<line x1="455.9" y1="88.5" x2="455.9" y2="90.5" stroke="#222" stroke-width="1"/>
<text x="450.3" y="100.9" font-size="8.6" textLength="7.9" lengthAdjust="spacingAndGlyphs">10</text>
<text x="458.3" y="97.8" font-size="5.2" textLength="2.8" lengthAdjust="spacingAndGlyphs">3</text>
<line x1="470.5" y1="88.5" x2="470.5" y2="90.5" stroke="#222" stroke-width="1"/>
<text x="464.9" y="100.9" font-size="8.6" textLength="7.9" lengthAdjust="spacingAndGlyphs">10</text>
<text x="472.9" y="97.8" font-size="5.2" textLength="2.8" lengthAdjust="spacingAndGlyphs">4</text>
<line x1="416.48" y1="88.5" x2="416.48" y2="89.6" stroke="#444" stroke-width="0.6"/>
<line x1="419.11" y1="88.5" x2="419.11" y2="89.6" stroke="#444" stroke-width="0.6"/>
<line x1="420.86" y1="88.5" x2="420.86" y2="89.6" stroke="#444" stroke-width="0.6"/>
<line x1="422.32" y1="88.5" x2="422.32" y2="89.6" stroke="#444" stroke-width="0.6"/>
<line x1="423.49" y1="88.5" x2="423.49" y2="89.6" stroke="#444" stroke-width="0.6"/>
<line x1="424.51" y1="88.5" x2="424.51" y2="89.6" stroke="#444" stroke-width="0.6"/>
<line x1="425.24" y1="88.5" x2="425.24" y2="89.6" stroke="#444" stroke-width="0.6"/>
<line x1="425.97" y1="88.5" x2="425.97" y2="89.6" stroke="#444" stroke-width="0.6"/>
<line x1="431.08" y1="88.5" x2="431.08" y2="89.6" stroke="#444" stroke-width="0.6"/>
<line x1="433.71" y1="88.5" x2="433.71" y2="89.6" stroke="#444" stroke-width="0.6"/>
<line x1="435.46" y1="88.5" x2="435.46" y2="89.6" stroke="#444" stroke-width="0.6"/>
<line x1="436.92" y1="88.5" x2="436.92" y2="89.6" stroke="#444" stroke-width="0.6"/>
<line x1="438.09" y1="88.5" x2="438.09" y2="89.6" stroke="#444" stroke-width="0.6"/>
<line x1="439.11" y1="88.5" x2="439.11" y2="89.6" stroke="#444" stroke-width="0.6"/>
<line x1="439.84" y1="88.5" x2="439.84" y2="89.6" stroke="#444" stroke-width="0.6"/>
<line x1="440.57" y1="88.5" x2="440.57" y2="89.6" stroke="#444" stroke-width="0.6"/>
<line x1="445.68" y1="88.5" x2="445.68" y2="89.6" stroke="#444" stroke-width="0.6"/>
<line x1="448.31" y1="88.5" x2="448.31" y2="89.6" stroke="#444" stroke-width="0.6"/>
<line x1="450.06" y1="88.5" x2="450.06" y2="89.6" stroke="#444" stroke-width="0.6"/>
<line x1="451.52" y1="88.5" x2="451.52" y2="89.6" stroke="#444" stroke-width="0.6"/>
<line x1="452.69" y1="88.5" x2="452.69" y2="89.6" stroke="#444" stroke-width="0.6"/>
<line x1="453.71" y1="88.5" x2="453.71" y2="89.6" stroke="#444" stroke-width="0.6"/>
<line x1="454.44" y1="88.5" x2="454.44" y2="89.6" stroke="#444" stroke-width="0.6"/>
<line x1="455.17" y1="88.5" x2="455.17" y2="89.6" stroke="#444" stroke-width="0.6"/>
<line x1="460.28" y1="88.5" x2="460.28" y2="89.6" stroke="#444" stroke-width="0.6"/>
<line x1="462.91" y1="88.5" x2="462.91" y2="89.6" stroke="#444" stroke-width="0.6"/>
<line x1="464.66" y1="88.5" x2="464.66" y2="89.6" stroke="#444" stroke-width="0.6"/>
<line x1="466.12" y1="88.5" x2="466.12" y2="89.6" stroke="#444" stroke-width="0.6"/>
<line x1="467.29" y1="88.5" x2="467.29" y2="89.6" stroke="#444" stroke-width="0.6"/>
<line x1="468.31" y1="88.5" x2="468.31" y2="89.6" stroke="#444" stroke-width="0.6"/>
<line x1="469.04" y1="88.5" x2="469.04" y2="89.6" stroke="#444" stroke-width="0.6"/>
<line x1="469.77" y1="88.5" x2="469.77" y2="89.6" stroke="#444" stroke-width="0.6"/>
<path d="M412.4 88.4 L412.4 84.6 C415 84 418 81 421 79.6 C424 78.4 426 79.5 428 82.5 C430 86 431 88 433.5 88.4Z" fill="#9a9a9a" stroke="#555" stroke-width="0.6"/>
<path d="M441.5 88.4 C444 87.5 445 84 446 76 C447.3 62 448.3 47 449.7 44 C451.1 47 452 62 453 74 C454 84 456 87.5 458.5 88.4Z" fill="#8e8e8e" stroke="#444" stroke-width="0.6"/>
<line x1="412.4" y1="31.4" x2="412.4" y2="88.4" stroke="#333" stroke-width="0.8"/>
<line x1="443.4" y1="84.1" x2="466.6" y2="84.1" stroke="#777" stroke-width="0.9"/>
<line x1="443.4" y1="82.4" x2="443.4" y2="85.8" stroke="#777" stroke-width="0.9"/>
<line x1="466.6" y1="82.4" x2="466.6" y2="85.8" stroke="#777" stroke-width="0.9"/>
<line x1="402.4" y1="106.2" x2="436" y2="106.2" stroke="#111" stroke-width="1.4"/>
<path d="M440 106.2L435 103.7L435 108.7Z" fill="#111"/>
<text x="414.8" y="118.8" font-size="10.2" textLength="14.1" lengthAdjust="spacingAndGlyphs">CD3</text>
<clipPath id="c2"><rect x="276.5" y="146.6" width="58.5" height="69.2"/></clipPath>
<g clip-path="url(#c2)">
<path d="M309.63 171.69h0.8v0.8h-0.8zM298.84 169.76h0.8v0.8h-0.8zM301.66 164.96h0.8v0.8h-0.8zM292.7 171.1h0.8v0.8h-0.8zM296.53 165.46h0.8v0.8h-0.8zM293.06 174.51h0.8v0.8h-0.8zM298.85 169.3h0.8v0.8h-0.8zM302.84 165.44h0.8v0.8h-0.8zM301.26 169.8h0.8v0.8h-0.8zM291.62 164.51h0.8v0.8h-0.8zM303.53 169.77h0.8v0.8h-0.8zM308.55 161.4h0.8v0.8h-0.8zM298.98 172.31h0.8v0.8h-0.8zM301.78 169.96h0.8v0.8h-0.8zM299.83 163.52h0.8v0.8h-0.8zM292.06 177.89h0.8v0.8h-0.8zM303.37 163.43h0.8v0.8h-0.8z" fill="#3c52ab" opacity="0.2"/>
<path d="M297.82 169.69h0.8v0.8h-0.8zM297.15 170.12h0.8v0.8h-0.8zM296.65 161.63h0.8v0.8h-0.8zM299.69 164.63h0.8v0.8h-0.8zM300.76 172.16h0.8v0.8h-0.8zM296.98 167.68h0.8v0.8h-0.8zM295.24 167.82h0.8v0.8h-0.8z" fill="#3c52ab" opacity="0.35"/>
<path d="M301.72 167.42h0.8v0.8h-0.8zM301.87 172.67h0.8v0.8h-0.8zM310.43 170.9h0.8v0.8h-0.8zM294.48 173.42h0.8v0.8h-0.8zM296.47 180.02h0.8v0.8h-0.8zM295.63 168.14h0.8v0.8h-0.8zM305.48 171.64h0.8v0.8h-0.8zM292.03 166.45h0.8v0.8h-0.8zM298.48 168.04h0.8v0.8h-0.8z" fill="#3c52ab" opacity="0.5"/>
<path d="M294.18 177.01h0.8v0.8h-0.8zM305.59 160.01h0.8v0.8h-0.8zM329.15 171.32h0.8v0.8h-0.8zM319.58 163.6h0.8v0.8h-0.8zM318.01 174.93h0.8v0.8h-0.8zM312.41 169.78h0.8v0.8h-0.8z" fill="#3c52ab" opacity="0.2"/>
<path d="M302.65 171.95h0.8v0.8h-0.8zM314.19 180.07h0.8v0.8h-0.8zM315.48 160.76h0.8v0.8h-0.8zM314.03 163.94h0.8v0.8h-0.8zM310.67 164.19h0.8v0.8h-0.8zM330.38 177.84h0.8v0.8h-0.8z" fill="#3c52ab" opacity="0.35"/>
<g filter="url(#b05)">
<path d="M275.5 163.5 C282.5 163 287 164 289.3 166.5 C290.7 169.5 290.5 175 289 177.5 C285.5 179.6 280.5 180 275.5 180Z" fill="#2c54c2"/>
<path d="M275.5 165.8 C279.5 167 283 169.5 284 170.8 C283 172.2 279.5 174.8 275.5 176Z" fill="#3cbfe6"/>
<ellipse cx="276.5" cy="170.8" rx="2.6" ry="2.4" fill="#9ccb3b"/>
<ellipse cx="276.5" cy="170.8" rx="0.9" ry="1.3" fill="#f0b020"/>
</g>
<path d="M278.25 164.6h.8v.8h-.8zM289.49 168.44h.8v.8h-.8zM277.92 161.53h.8v.8h-.8zM280.36 163.47h.8v.8h-.8zM289.05 170.64h.8v.8h-.8zM285.43 179.3h.8v.8h-.8zM286.1 179.37h.8v.8h-.8zM292.01 169.3h.8v.8h-.8zM288.6 167.7h.8v.8h-.8zM288.18 166.69h.8v.8h-.8zM291.33 173.17h.8v.8h-.8zM292.06 177.63h.8v.8h-.8zM288.12 167.71h.8v.8h-.8zM284.21 177.82h.8v.8h-.8zM290 171.35h.8v.8h-.8zM289.58 168.47h.8v.8h-.8zM291.36 169.03h.8v.8h-.8zM276.23 163.71h.8v.8h-.8zM290.6 173.48h.8v.8h-.8zM289.21 167.82h.8v.8h-.8zM288.63 172.83h.8v.8h-.8zM281.31 162.56h.8v.8h-.8zM291.09 168.89h.8v.8h-.8zM283.94 163.38h.8v.8h-.8zM281.51 163.02h.8v.8h-.8zM291.62 175.36h.8v.8h-.8zM285.06 161.41h.8v.8h-.8zM278.86 163.68h.8v.8h-.8zM289.84 167.53h.8v.8h-.8zM285.7 162.08h.8v.8h-.8zM289.23 171.76h.8v.8h-.8zM290.88 167.9h.8v.8h-.8zM288.43 171.76h.8v.8h-.8zM289.87 178.23h.8v.8h-.8zM288.5 167.95h.8v.8h-.8zM280.31 162.59h.8v.8h-.8zM291.13 172.37h.8v.8h-.8zM277.93 161.06h.8v.8h-.8zM289.52 178.8h.8v.8h-.8zM290.08 170.51h.8v.8h-.8zM286.11 178.9h.8v.8h-.8zM287.7 179.09h.8v.8h-.8zM277.69 162.92h.8v.8h-.8zM288.68 166.89h.8v.8h-.8zM288.43 164.52h.8v.8h-.8zM289.6 175.77h.8v.8h-.8zM289.08 175.04h.8v.8h-.8zM289.97 174.98h.8v.8h-.8zM290.01 177.13h.8v.8h-.8zM282.16 161.63h.8v.8h-.8zM279.8 163.8h.8v.8h-.8zM289.7 177.54h.8v.8h-.8zM291.19 171.56h.8v.8h-.8zM287.21 165.99h.8v.8h-.8zM290.81 169.02h.8v.8h-.8zM288.83 163.95h.8v.8h-.8zM282.99 163.32h.8v.8h-.8zM276.65 161h.8v.8h-.8zM283.61 163.64h.8v.8h-.8zM292.19 175.33h.8v.8h-.8zM288.46 165.66h.8v.8h-.8zM285.07 180.13h.8v.8h-.8zM283.32 162.84h.8v.8h-.8zM276.75 162.23h.8v.8h-.8zM287.85 177.41h.8v.8h-.8zM283.73 164.26h.8v.8h-.8zM290.08 175.43h.8v.8h-.8zM291.29 175.47h.8v.8h-.8zM290.4 171.32h.8v.8h-.8z" fill="#3c52ab" opacity="0.3"/>
<path d="M291.7 178.82h.8v.8h-.8zM286.61 178.59h.8v.8h-.8zM288.23 165.11h.8v.8h-.8zM290.62 172.1h.8v.8h-.8zM281.72 162.43h.8v.8h-.8zM291.59 171.79h.8v.8h-.8zM289.44 173.55h.8v.8h-.8zM291.16 171.64h.8v.8h-.8zM291.86 170.58h.8v.8h-.8zM289.49 167.18h.8v.8h-.8zM291.14 168.87h.8v.8h-.8zM289.27 169.39h.8v.8h-.8zM291.94 167.12h.8v.8h-.8zM290.68 173.09h.8v.8h-.8zM289.37 179.05h.8v.8h-.8zM288.62 166.98h.8v.8h-.8zM286.21 165.11h.8v.8h-.8zM290.11 170.64h.8v.8h-.8zM286.48 176.58h.8v.8h-.8zM287.65 164.6h.8v.8h-.8zM277.9 163.34h.8v.8h-.8zM288.94 179.46h.8v.8h-.8zM288.88 176.41h.8v.8h-.8zM288.94 175.93h.8v.8h-.8zM274.82 161.73h.8v.8h-.8zM291.82 176.41h.8v.8h-.8zM288.86 164.61h.8v.8h-.8zM289.06 168.19h.8v.8h-.8zM283.09 163.41h.8v.8h-.8zM288.93 166.6h.8v.8h-.8zM289.34 167.61h.8v.8h-.8zM285.31 164.63h.8v.8h-.8zM292.76 170.28h.8v.8h-.8zM282.26 163.81h.8v.8h-.8zM285.87 163.81h.8v.8h-.8zM288.52 177.32h.8v.8h-.8zM287.94 165.62h.8v.8h-.8zM287.11 163.84h.8v.8h-.8zM289.03 164.68h.8v.8h-.8zM285.52 163.68h.8v.8h-.8zM291.83 176.38h.8v.8h-.8zM287.22 178.42h.8v.8h-.8zM288.04 180.21h.8v.8h-.8zM290.36 164.17h.8v.8h-.8zM283.34 164.9h.8v.8h-.8zM288.8 165.72h.8v.8h-.8zM285.52 164.33h.8v.8h-.8zM275.88 162.58h.8v.8h-.8zM285.25 164.01h.8v.8h-.8zM289.67 167.22h.8v.8h-.8zM282.36 163.68h.8v.8h-.8zM288.74 169.24h.8v.8h-.8zM278.04 160.72h.8v.8h-.8zM289.32 165.62h.8v.8h-.8zM280.57 163.75h.8v.8h-.8zM291.67 170.94h.8v.8h-.8zM289.1 178.91h.8v.8h-.8zM283.96 162.48h.8v.8h-.8zM286.8 178.35h.8v.8h-.8zM287.15 166.13h.8v.8h-.8zM278.38 162.63h.8v.8h-.8zM283.95 161.99h.8v.8h-.8zM284.65 164.29h.8v.8h-.8zM289.67 168.84h.8v.8h-.8z" fill="#3c52ab" opacity="0.5"/>
<path d="M288.84 173.77h.8v.8h-.8zM279.86 163.56h.8v.8h-.8zM288.56 167.7h.8v.8h-.8zM286.27 166.74h.8v.8h-.8zM289.88 172.14h.8v.8h-.8zM284.06 162.94h.8v.8h-.8zM285.73 182.21h.8v.8h-.8zM278.63 164.73h.8v.8h-.8zM289.23 178.49h.8v.8h-.8zM284.96 179.18h.8v.8h-.8zM286.34 179.37h.8v.8h-.8zM282.18 163.23h.8v.8h-.8zM286.28 166.72h.8v.8h-.8zM282.35 177.45h.8v.8h-.8zM289.36 172.23h.8v.8h-.8zM290.52 169.03h.8v.8h-.8zM278.97 162.99h.8v.8h-.8zM292.92 171.56h.8v.8h-.8zM277.53 163.55h.8v.8h-.8zM286.83 166.39h.8v.8h-.8zM288.27 179.32h.8v.8h-.8zM287.06 177.23h.8v.8h-.8zM287.18 178.92h.8v.8h-.8zM289.41 168.22h.8v.8h-.8zM289.22 175.51h.8v.8h-.8zM275.66 162.65h.8v.8h-.8zM288.13 178.53h.8v.8h-.8zM289.31 169.31h.8v.8h-.8zM289.42 178.07h.8v.8h-.8zM289.89 169.31h.8v.8h-.8zM289.49 166.04h.8v.8h-.8zM287.82 166.38h.8v.8h-.8zM286.24 163.57h.8v.8h-.8zM288.21 164.91h.8v.8h-.8zM288.74 172.15h.8v.8h-.8zM279.81 162.39h.8v.8h-.8zM279.35 164.9h.8v.8h-.8zM290.3 176.87h.8v.8h-.8zM288.38 164.59h.8v.8h-.8zM288.12 170.63h.8v.8h-.8zM290.59 165.62h.8v.8h-.8zM290.68 176.04h.8v.8h-.8zM281.06 164.69h.8v.8h-.8zM280.39 163.63h.8v.8h-.8zM284.04 165.85h.8v.8h-.8zM286.52 165.79h.8v.8h-.8zM289.34 176.39h.8v.8h-.8zM287.84 164.68h.8v.8h-.8zM287.56 179.14h.8v.8h-.8zM290.89 177.38h.8v.8h-.8zM289.72 171.46h.8v.8h-.8zM284.6 163.66h.8v.8h-.8zM292.15 168.52h.8v.8h-.8zM292.65 171.2h.8v.8h-.8zM290.32 172.88h.8v.8h-.8zM280.83 163.61h.8v.8h-.8zM288.93 164.32h.8v.8h-.8zM288.45 181.57h.8v.8h-.8zM285.81 178.68h.8v.8h-.8zM286.72 166.05h.8v.8h-.8zM288.69 167.47h.8v.8h-.8zM292.06 167.54h.8v.8h-.8zM278.73 160.48h.8v.8h-.8zM288.63 175.74h.8v.8h-.8zM292.65 169.23h.8v.8h-.8zM285.54 163.18h.8v.8h-.8zM284.46 179.77h.8v.8h-.8z" fill="#3c52ab" opacity="0.7"/>
<path d="M281.33 161.72h.8v.8h-.8zM279.12 161.62h.8v.8h-.8zM283.91 160.6h.8v.8h-.8zM280.19 161.45h.8v.8h-.8z" fill="#3c52ab" opacity="0.2"/>
<path d="M283.72 162.16h.8v.8h-.8zM278.02 161.17h.8v.8h-.8zM286.87 160.49h.8v.8h-.8zM282.29 159.96h.8v.8h-.8zM286.8 161.11h.8v.8h-.8zM280.1 161.45h.8v.8h-.8zM277.46 160.65h.8v.8h-.8zM280.33 161.9h.8v.8h-.8zM282.98 161.38h.8v.8h-.8zM283.99 162.8h.8v.8h-.8zM283.4 163.5h.8v.8h-.8zM281.68 160.83h.8v.8h-.8z" fill="#3c52ab" opacity="0.35"/>
<path d="M285.46 162.57h.8v.8h-.8zM281.18 164.33h.8v.8h-.8zM281.69 161.44h.8v.8h-.8zM277.65 159.76h.8v.8h-.8zM279.52 159.97h.8v.8h-.8zM283.99 161.62h.8v.8h-.8zM280.1 161.94h.8v.8h-.8zM279.69 162.74h.8v.8h-.8zM283.65 160.11h.8v.8h-.8zM279.74 162.94h.8v.8h-.8zM281.42 161.06h.8v.8h-.8zM285.21 161.65h.8v.8h-.8zM282.66 160.42h.8v.8h-.8zM282.4 161.75h.8v.8h-.8z" fill="#3c52ab" opacity="0.5"/>
</g>
<rect x="266.3" y="145.6" width="69.5" height="71.2" fill="none" stroke="#111" stroke-width="1.4"/>
<text x="294.7" y="139.9" font-size="10" textLength="13.3" lengthAdjust="spacingAndGlyphs">HD</text>
<rect x="293.2" y="159.3" width="42.6" height="22.1" fill="none" stroke="#888" stroke-width="0.9"/>
<text x="312.4" y="189.8" font-size="8.5" text-anchor="middle" textLength="17.2" lengthAdjust="spacingAndGlyphs">0.3%</text>
<line x1="263.9" y1="147.3" x2="266.3" y2="147.3" stroke="#222" stroke-width="1"/>
<text x="251.3" y="151" font-size="8.6" textLength="8.4" lengthAdjust="spacingAndGlyphs">10</text>
<text x="260.1" y="147.4" font-size="5.2" textLength="2.6" lengthAdjust="spacingAndGlyphs">4</text>
<line x1="263.9" y1="162" x2="266.3" y2="162" stroke="#222" stroke-width="1"/>
<text x="251.3" y="165.7" font-size="8.6" textLength="8.4" lengthAdjust="spacingAndGlyphs">10</text>
<text x="260.1" y="162.1" font-size="5.2" textLength="2.6" lengthAdjust="spacingAndGlyphs">3</text>
<line x1="263.9" y1="177.2" x2="266.3" y2="177.2" stroke="#222" stroke-width="1"/>
<text x="251.3" y="180.9" font-size="8.6" textLength="8.4" lengthAdjust="spacingAndGlyphs">10</text>
<text x="260.1" y="177.3" font-size="5.2" textLength="2.6" lengthAdjust="spacingAndGlyphs">2</text>
<line x1="263.9" y1="192.4" x2="266.3" y2="192.4" stroke="#222" stroke-width="1"/>
<text x="251.3" y="196.1" font-size="8.6" textLength="8.4" lengthAdjust="spacingAndGlyphs">10</text>
<text x="260.1" y="192.5" font-size="5.2" textLength="2.6" lengthAdjust="spacingAndGlyphs">1</text>
<line x1="263.9" y1="206.3" x2="266.3" y2="206.3" stroke="#222" stroke-width="1"/>
<text x="263.1" y="209.2" font-size="7.8" text-anchor="end">0</text>
<line x1="265.1" y1="157.59" x2="266.3" y2="157.59" stroke="#444" stroke-width="0.6"/>
<line x1="265.1" y1="154.36" x2="266.3" y2="154.36" stroke="#444" stroke-width="0.6"/>
<line x1="265.1" y1="151.71" x2="266.3" y2="151.71" stroke="#444" stroke-width="0.6"/>
<line x1="265.1" y1="149.95" x2="266.3" y2="149.95" stroke="#444" stroke-width="0.6"/>
<line x1="265.1" y1="148.77" x2="266.3" y2="148.77" stroke="#444" stroke-width="0.6"/>
<line x1="265.1" y1="172.64" x2="266.3" y2="172.64" stroke="#444" stroke-width="0.6"/>
<line x1="265.1" y1="169.3" x2="266.3" y2="169.3" stroke="#444" stroke-width="0.6"/>
<line x1="265.1" y1="166.56" x2="266.3" y2="166.56" stroke="#444" stroke-width="0.6"/>
<line x1="265.1" y1="164.74" x2="266.3" y2="164.74" stroke="#444" stroke-width="0.6"/>
<line x1="265.1" y1="163.52" x2="266.3" y2="163.52" stroke="#444" stroke-width="0.6"/>
<line x1="265.1" y1="187.84" x2="266.3" y2="187.84" stroke="#444" stroke-width="0.6"/>
<line x1="265.1" y1="184.5" x2="266.3" y2="184.5" stroke="#444" stroke-width="0.6"/>
<line x1="265.1" y1="181.76" x2="266.3" y2="181.76" stroke="#444" stroke-width="0.6"/>
<line x1="265.1" y1="179.94" x2="266.3" y2="179.94" stroke="#444" stroke-width="0.6"/>
<line x1="265.1" y1="178.72" x2="266.3" y2="178.72" stroke="#444" stroke-width="0.6"/>
<line x1="265.1" y1="202.13" x2="266.3" y2="202.13" stroke="#444" stroke-width="0.6"/>
<line x1="265.1" y1="199.07" x2="266.3" y2="199.07" stroke="#444" stroke-width="0.6"/>
<line x1="265.1" y1="196.57" x2="266.3" y2="196.57" stroke="#444" stroke-width="0.6"/>
<line x1="265.1" y1="194.9" x2="266.3" y2="194.9" stroke="#444" stroke-width="0.6"/>
<line x1="265.1" y1="193.79" x2="266.3" y2="193.79" stroke="#444" stroke-width="0.6"/>
<line x1="276" y1="216.8" x2="276" y2="218.8" stroke="#222" stroke-width="1"/>
<text x="275.7" y="229.5" font-size="8.2" text-anchor="middle">0</text>
<line x1="290.6" y1="216.8" x2="290.6" y2="218.8" stroke="#222" stroke-width="1"/>
<text x="285" y="229.5" font-size="8.6" textLength="7.9" lengthAdjust="spacingAndGlyphs">10</text>
<text x="293" y="226.4" font-size="5.2" textLength="2.8" lengthAdjust="spacingAndGlyphs">1</text>
<line x1="305.2" y1="216.8" x2="305.2" y2="218.8" stroke="#222" stroke-width="1"/>
<text x="299.6" y="229.5" font-size="8.6" textLength="7.9" lengthAdjust="spacingAndGlyphs">10</text>
<text x="307.6" y="226.4" font-size="5.2" textLength="2.8" lengthAdjust="spacingAndGlyphs">2</text>
<line x1="319.8" y1="216.8" x2="319.8" y2="218.8" stroke="#222" stroke-width="1"/>
<text x="314.2" y="229.5" font-size="8.6" textLength="7.9" lengthAdjust="spacingAndGlyphs">10</text>
<text x="322.2" y="226.4" font-size="5.2" textLength="2.8" lengthAdjust="spacingAndGlyphs">3</text>
<line x1="334.4" y1="216.8" x2="334.4" y2="218.8" stroke="#222" stroke-width="1"/>
<text x="328.8" y="229.5" font-size="8.6" textLength="7.9" lengthAdjust="spacingAndGlyphs">10</text>
<text x="336.8" y="226.4" font-size="5.2" textLength="2.8" lengthAdjust="spacingAndGlyphs">4</text>
<line x1="280.38" y1="216.8" x2="280.38" y2="217.9" stroke="#444" stroke-width="0.6"/>
<line x1="283.01" y1="216.8" x2="283.01" y2="217.9" stroke="#444" stroke-width="0.6"/>
<line x1="284.76" y1="216.8" x2="284.76" y2="217.9" stroke="#444" stroke-width="0.6"/>
<line x1="286.22" y1="216.8" x2="286.22" y2="217.9" stroke="#444" stroke-width="0.6"/>
<line x1="287.39" y1="216.8" x2="287.39" y2="217.9" stroke="#444" stroke-width="0.6"/>
<line x1="288.41" y1="216.8" x2="288.41" y2="217.9" stroke="#444" stroke-width="0.6"/>
<line x1="289.14" y1="216.8" x2="289.14" y2="217.9" stroke="#444" stroke-width="0.6"/>
<line x1="289.87" y1="216.8" x2="289.87" y2="217.9" stroke="#444" stroke-width="0.6"/>
<line x1="294.98" y1="216.8" x2="294.98" y2="217.9" stroke="#444" stroke-width="0.6"/>
<line x1="297.61" y1="216.8" x2="297.61" y2="217.9" stroke="#444" stroke-width="0.6"/>
<line x1="299.36" y1="216.8" x2="299.36" y2="217.9" stroke="#444" stroke-width="0.6"/>
<line x1="300.82" y1="216.8" x2="300.82" y2="217.9" stroke="#444" stroke-width="0.6"/>
<line x1="301.99" y1="216.8" x2="301.99" y2="217.9" stroke="#444" stroke-width="0.6"/>
<line x1="303.01" y1="216.8" x2="303.01" y2="217.9" stroke="#444" stroke-width="0.6"/>
<line x1="303.74" y1="216.8" x2="303.74" y2="217.9" stroke="#444" stroke-width="0.6"/>
<line x1="304.47" y1="216.8" x2="304.47" y2="217.9" stroke="#444" stroke-width="0.6"/>
<line x1="309.58" y1="216.8" x2="309.58" y2="217.9" stroke="#444" stroke-width="0.6"/>
<line x1="312.21" y1="216.8" x2="312.21" y2="217.9" stroke="#444" stroke-width="0.6"/>
<line x1="313.96" y1="216.8" x2="313.96" y2="217.9" stroke="#444" stroke-width="0.6"/>
<line x1="315.42" y1="216.8" x2="315.42" y2="217.9" stroke="#444" stroke-width="0.6"/>
<line x1="316.59" y1="216.8" x2="316.59" y2="217.9" stroke="#444" stroke-width="0.6"/>
<line x1="317.61" y1="216.8" x2="317.61" y2="217.9" stroke="#444" stroke-width="0.6"/>
<line x1="318.34" y1="216.8" x2="318.34" y2="217.9" stroke="#444" stroke-width="0.6"/>
<line x1="319.07" y1="216.8" x2="319.07" y2="217.9" stroke="#444" stroke-width="0.6"/>
<line x1="324.18" y1="216.8" x2="324.18" y2="217.9" stroke="#444" stroke-width="0.6"/>
<line x1="326.81" y1="216.8" x2="326.81" y2="217.9" stroke="#444" stroke-width="0.6"/>
<line x1="328.56" y1="216.8" x2="328.56" y2="217.9" stroke="#444" stroke-width="0.6"/>
<line x1="330.02" y1="216.8" x2="330.02" y2="217.9" stroke="#444" stroke-width="0.6"/>
<line x1="331.19" y1="216.8" x2="331.19" y2="217.9" stroke="#444" stroke-width="0.6"/>
<line x1="332.21" y1="216.8" x2="332.21" y2="217.9" stroke="#444" stroke-width="0.6"/>
<line x1="332.94" y1="216.8" x2="332.94" y2="217.9" stroke="#444" stroke-width="0.6"/>
<line x1="333.67" y1="216.8" x2="333.67" y2="217.9" stroke="#444" stroke-width="0.6"/>
<clipPath id="c3"><rect x="363.8" y="146.6" width="58.5" height="69.2"/></clipPath>
<g clip-path="url(#c3)">
<path d="M399.02 165.53h0.8v0.8h-0.8zM412.7 165.18h0.8v0.8h-0.8zM412.11 174.21h0.8v0.8h-0.8zM405.24 167.14h0.8v0.8h-0.8zM399.13 161.75h0.8v0.8h-0.8zM407.17 173.62h0.8v0.8h-0.8zM400.89 177.56h0.8v0.8h-0.8zM401.69 161.72h0.8v0.8h-0.8zM401.02 172.87h0.8v0.8h-0.8zM402.33 165.12h0.8v0.8h-0.8zM404.64 160.55h0.8v0.8h-0.8zM394.01 173.51h0.8v0.8h-0.8zM398.76 165.38h0.8v0.8h-0.8zM402.44 170.81h0.8v0.8h-0.8zM410.37 169.26h0.8v0.8h-0.8zM411.11 158.81h0.8v0.8h-0.8zM405.62 163.99h0.8v0.8h-0.8zM412.26 168.43h0.8v0.8h-0.8zM402.7 165.54h0.8v0.8h-0.8zM397.59 164.63h0.8v0.8h-0.8zM408.62 177.22h0.8v0.8h-0.8zM405.8 157.72h0.8v0.8h-0.8zM397.98 169.69h0.8v0.8h-0.8zM403.55 170.8h0.8v0.8h-0.8zM395.64 161.56h0.8v0.8h-0.8zM402.54 162.3h0.8v0.8h-0.8zM407.85 169.45h0.8v0.8h-0.8z" fill="#3c52ab" opacity="0.2"/>
<path d="M399.22 166.55h0.8v0.8h-0.8zM410.31 168.13h0.8v0.8h-0.8zM402.3 161.31h0.8v0.8h-0.8zM399.38 168.83h0.8v0.8h-0.8zM398.59 168.45h0.8v0.8h-0.8zM403.1 162.72h0.8v0.8h-0.8zM394.05 167.5h0.8v0.8h-0.8zM406.47 164.82h0.8v0.8h-0.8zM403.43 158.66h0.8v0.8h-0.8zM405.46 163.24h0.8v0.8h-0.8zM397.61 155.65h0.8v0.8h-0.8zM402.62 165.91h0.8v0.8h-0.8zM402.08 162.22h0.8v0.8h-0.8zM405.94 170.95h0.8v0.8h-0.8zM411.32 158.99h0.8v0.8h-0.8zM397.21 163.27h0.8v0.8h-0.8zM401.42 165.68h0.8v0.8h-0.8zM406.24 164.81h0.8v0.8h-0.8zM397.38 158.33h0.8v0.8h-0.8zM398.72 165.08h0.8v0.8h-0.8zM406.95 168.46h0.8v0.8h-0.8zM396.05 160.24h0.8v0.8h-0.8zM405.26 168.33h0.8v0.8h-0.8zM396.8 166.33h0.8v0.8h-0.8zM405.6 163.58h0.8v0.8h-0.8zM394.31 161.84h0.8v0.8h-0.8zM407.96 160.79h0.8v0.8h-0.8zM405.82 164.49h0.8v0.8h-0.8zM406.8 159.64h0.8v0.8h-0.8zM398.29 167.16h0.8v0.8h-0.8zM402.13 168.59h0.8v0.8h-0.8zM403.4 168.89h0.8v0.8h-0.8zM411.57 167.79h0.8v0.8h-0.8zM398.03 174.19h0.8v0.8h-0.8zM409.18 162.3h0.8v0.8h-0.8z" fill="#3c52ab" opacity="0.4"/>
<path d="M396.98 165.52h0.8v0.8h-0.8zM407.65 169.6h0.8v0.8h-0.8zM404.71 169.77h0.8v0.8h-0.8zM408.96 174.56h0.8v0.8h-0.8zM398.22 168.25h0.8v0.8h-0.8zM403.18 158.8h0.8v0.8h-0.8zM399.99 176.6h0.8v0.8h-0.8zM404.01 161.76h0.8v0.8h-0.8zM406.13 161.95h0.8v0.8h-0.8zM406.18 158.33h0.8v0.8h-0.8zM400.21 165.19h0.8v0.8h-0.8zM409.21 170.25h0.8v0.8h-0.8zM403.76 172.03h0.8v0.8h-0.8zM412.26 169.13h0.8v0.8h-0.8zM401.62 164.84h0.8v0.8h-0.8zM397.84 168.7h0.8v0.8h-0.8zM403.5 162.95h0.8v0.8h-0.8zM400.23 164.35h0.8v0.8h-0.8zM398.88 166.02h0.8v0.8h-0.8zM412.71 168.76h0.8v0.8h-0.8zM395.78 159.15h0.8v0.8h-0.8zM402.81 161.17h0.8v0.8h-0.8zM403.51 164.95h0.8v0.8h-0.8zM399.56 171.3h0.8v0.8h-0.8zM400.83 168.21h0.8v0.8h-0.8zM394.59 175.96h0.8v0.8h-0.8zM397.34 166.36h0.8v0.8h-0.8zM403.33 173.7h0.8v0.8h-0.8zM411.54 170.73h0.8v0.8h-0.8zM400.45 162.62h0.8v0.8h-0.8zM399.3 169.34h0.8v0.8h-0.8zM402.26 167.09h0.8v0.8h-0.8zM396.4 167.78h0.8v0.8h-0.8z" fill="#3c52ab" opacity="0.6"/>
<path d="M418.62 157.67h0.8v0.8h-0.8zM407.87 159.3h0.8v0.8h-0.8zM405.79 163.52h0.8v0.8h-0.8zM405.46 176.07h0.8v0.8h-0.8zM410.96 163.47h0.8v0.8h-0.8zM416.66 168.6h0.8v0.8h-0.8zM420.75 160.66h0.8v0.8h-0.8zM399.62 173.31h0.8v0.8h-0.8zM419.82 163.56h0.8v0.8h-0.8zM405.02 171.37h0.8v0.8h-0.8zM408.15 174.61h0.8v0.8h-0.8zM417.64 171.77h0.8v0.8h-0.8zM420.04 164.04h0.8v0.8h-0.8zM406.04 165.11h0.8v0.8h-0.8zM412.7 166.2h0.8v0.8h-0.8zM398.43 168.43h0.8v0.8h-0.8z" fill="#3c52ab" opacity="0.2"/>
<path d="M414.78 165.33h0.8v0.8h-0.8zM415.55 162.63h0.8v0.8h-0.8zM413 173.04h0.8v0.8h-0.8zM419.06 166.1h0.8v0.8h-0.8zM415.58 161.27h0.8v0.8h-0.8zM405.29 160.55h0.8v0.8h-0.8zM413.92 160.01h0.8v0.8h-0.8zM420.93 168.09h0.8v0.8h-0.8zM407.8 168.33h0.8v0.8h-0.8z" fill="#3c52ab" opacity="0.35"/>
<g filter="url(#b05)">
<path d="M362.8 157.3 C369.8 156.6 377.8 157 384.8 158.4 C389.8 159.5 394.8 161 397.8 164.5 C398.3 167 395.3 171 391.3 174.6 L362.8 174.6Z" fill="#2b51bf"/>
<ellipse cx="363.8" cy="167.7" rx="12.7" ry="4.8" fill="#3cbfe6"/>
<ellipse cx="363.8" cy="167.9" rx="7.8" ry="2.6" fill="#8cc540"/>
<ellipse cx="363.8" cy="168" rx="1.6" ry="2" fill="#f0b020"/>
</g>
<path d="M392.55 174.08h.8v.8h-.8zM386.04 157.69h.8v.8h-.8zM387.1 159.3h.8v.8h-.8zM396.4 162.98h.8v.8h-.8zM393.77 174.14h.8v.8h-.8zM394.74 170.03h.8v.8h-.8zM397.48 162.66h.8v.8h-.8zM390.05 159.18h.8v.8h-.8zM385.1 157.65h.8v.8h-.8zM382.33 157.15h.8v.8h-.8zM399.44 166.89h.8v.8h-.8zM368.09 159.35h.8v.8h-.8zM388.08 157.87h.8v.8h-.8zM371.61 156.42h.8v.8h-.8zM394.01 172.11h.8v.8h-.8zM388.64 158.68h.8v.8h-.8zM387.01 159.63h.8v.8h-.8zM385.63 158.75h.8v.8h-.8zM397.39 167h.8v.8h-.8zM396.43 163.08h.8v.8h-.8zM393.06 171.38h.8v.8h-.8zM394.13 172.05h.8v.8h-.8zM397.37 165.02h.8v.8h-.8zM392.87 159.61h.8v.8h-.8zM395.22 169.94h.8v.8h-.8zM386.88 159.49h.8v.8h-.8zM395.4 162.49h.8v.8h-.8zM387.34 156.6h.8v.8h-.8zM387 160.24h.8v.8h-.8zM388.19 157.14h.8v.8h-.8zM393.61 172.79h.8v.8h-.8zM384.32 158.38h.8v.8h-.8zM395.63 162.93h.8v.8h-.8zM377.7 156.25h.8v.8h-.8zM374.57 156.66h.8v.8h-.8zM387.82 158.33h.8v.8h-.8zM393.45 175.2h.8v.8h-.8zM398.05 163.91h.8v.8h-.8zM390.83 158.5h.8v.8h-.8zM397.93 163.15h.8v.8h-.8zM375.8 155.86h.8v.8h-.8zM395.74 163.48h.8v.8h-.8zM394.79 160.27h.8v.8h-.8zM396.92 166.22h.8v.8h-.8zM397.32 166.94h.8v.8h-.8zM398.96 167.77h.8v.8h-.8zM389.96 159.05h.8v.8h-.8zM391.49 173.16h.8v.8h-.8zM363.99 155.8h.8v.8h-.8zM381.2 157.92h.8v.8h-.8zM393.2 172.35h.8v.8h-.8zM383.89 158.85h.8v.8h-.8zM381.22 158.08h.8v.8h-.8zM400.04 162.65h.8v.8h-.8zM397.15 163.25h.8v.8h-.8zM395.81 162.8h.8v.8h-.8zM399.36 166.78h.8v.8h-.8zM396.12 170.36h.8v.8h-.8zM397.75 168.03h.8v.8h-.8zM392.04 159.03h.8v.8h-.8zM382.06 156.55h.8v.8h-.8zM367.47 157.39h.8v.8h-.8zM395.88 171.87h.8v.8h-.8zM363.92 157.53h.8v.8h-.8zM397.2 163.15h.8v.8h-.8zM379.47 157.11h.8v.8h-.8zM396.38 163.72h.8v.8h-.8zM397.34 163.63h.8v.8h-.8zM393.96 161.81h.8v.8h-.8zM393.08 171.6h.8v.8h-.8zM395.69 170.33h.8v.8h-.8zM388.28 157.76h.8v.8h-.8zM366.14 156.88h.8v.8h-.8zM397.21 168h.8v.8h-.8zM394.34 172.13h.8v.8h-.8zM374.79 158.44h.8v.8h-.8zM391.13 174.49h.8v.8h-.8zM385.91 157.21h.8v.8h-.8zM363.79 158.35h.8v.8h-.8zM382.26 156.52h.8v.8h-.8zM393.91 172.87h.8v.8h-.8zM393.35 160.71h.8v.8h-.8zM374.01 157.41h.8v.8h-.8zM386.51 159.1h.8v.8h-.8zM396.38 169.73h.8v.8h-.8zM394.63 172.04h.8v.8h-.8zM395.52 159.87h.8v.8h-.8zM381.48 157.22h.8v.8h-.8zM398.11 165.5h.8v.8h-.8zM395.19 171.52h.8v.8h-.8zM392.5 174.89h.8v.8h-.8zM400.35 164.52h.8v.8h-.8zM380.71 156.53h.8v.8h-.8zM376.06 157.54h.8v.8h-.8zM390.21 159.28h.8v.8h-.8zM384.48 157.3h.8v.8h-.8zM383.79 158.99h.8v.8h-.8zM395.34 161.1h.8v.8h-.8zM396.41 163.07h.8v.8h-.8zM395.24 162.6h.8v.8h-.8zM378.26 156.58h.8v.8h-.8zM394.62 169.91h.8v.8h-.8zM383.35 158.8h.8v.8h-.8zM396.13 168.94h.8v.8h-.8zM393.31 159.26h.8v.8h-.8zM396.75 162.62h.8v.8h-.8zM397.67 164.71h.8v.8h-.8zM398.37 167.98h.8v.8h-.8zM387.99 159.41h.8v.8h-.8zM397.61 164.25h.8v.8h-.8zM395.5 160.89h.8v.8h-.8zM384.8 156.62h.8v.8h-.8zM379.88 158.94h.8v.8h-.8zM390.59 160.91h.8v.8h-.8zM389.91 160.13h.8v.8h-.8zM386.89 158.74h.8v.8h-.8zM396.98 170.29h.8v.8h-.8zM395.49 168.82h.8v.8h-.8zM397.88 163.29h.8v.8h-.8zM385.65 157.35h.8v.8h-.8zM396.2 166.93h.8v.8h-.8zM386.16 158.98h.8v.8h-.8zM373.22 155.31h.8v.8h-.8zM389.82 160.9h.8v.8h-.8zM394.89 166.12h.8v.8h-.8zM367.84 154.72h.8v.8h-.8zM391.58 161.06h.8v.8h-.8zM395.21 170.13h.8v.8h-.8zM383.88 158.02h.8v.8h-.8zM397.78 163.8h.8v.8h-.8zM372.43 157.18h.8v.8h-.8z" fill="#3c52ab" opacity="0.3"/>
<path d="M394.5 162.22h.8v.8h-.8zM394.8 162.17h.8v.8h-.8zM382.33 157.48h.8v.8h-.8zM397.25 165.03h.8v.8h-.8zM398.7 166.1h.8v.8h-.8zM393.4 174.08h.8v.8h-.8zM397.47 168h.8v.8h-.8zM364.95 157.26h.8v.8h-.8zM393.2 173.56h.8v.8h-.8zM398.22 161.92h.8v.8h-.8zM393.01 172.97h.8v.8h-.8zM385.15 157.38h.8v.8h-.8zM382.51 157.94h.8v.8h-.8zM394.44 160.05h.8v.8h-.8zM394.83 161.71h.8v.8h-.8zM396.19 161.84h.8v.8h-.8zM392.49 173.26h.8v.8h-.8zM378.19 157.44h.8v.8h-.8zM391.34 162.5h.8v.8h-.8zM380.05 155.72h.8v.8h-.8zM396.9 163.98h.8v.8h-.8zM397.68 166.6h.8v.8h-.8zM394.83 170.15h.8v.8h-.8zM366.67 155.99h.8v.8h-.8zM398.33 163.72h.8v.8h-.8zM364.97 157.27h.8v.8h-.8zM395.09 162.28h.8v.8h-.8zM395.74 162.27h.8v.8h-.8zM375.19 156.7h.8v.8h-.8zM393.03 162.14h.8v.8h-.8zM395.78 167h.8v.8h-.8zM397.93 163.05h.8v.8h-.8zM396.26 169.51h.8v.8h-.8zM394.59 160.9h.8v.8h-.8zM390.6 162.17h.8v.8h-.8zM385.32 156.2h.8v.8h-.8zM397.77 163.37h.8v.8h-.8zM394.15 162.23h.8v.8h-.8zM391.47 158.14h.8v.8h-.8zM394.85 171.68h.8v.8h-.8zM396.98 168.27h.8v.8h-.8zM385.71 158.96h.8v.8h-.8zM397.38 168.67h.8v.8h-.8zM385.37 156.62h.8v.8h-.8zM392.47 174.76h.8v.8h-.8zM398.63 171.12h.8v.8h-.8zM397.69 165.72h.8v.8h-.8zM372.16 156.84h.8v.8h-.8zM373.09 156.75h.8v.8h-.8zM378.44 154.85h.8v.8h-.8zM376.24 154.36h.8v.8h-.8zM368.52 157.03h.8v.8h-.8zM397.47 168.7h.8v.8h-.8zM397.78 168.43h.8v.8h-.8zM385.1 159.71h.8v.8h-.8zM388.33 157.42h.8v.8h-.8zM370.74 155.47h.8v.8h-.8zM389.64 158.75h.8v.8h-.8zM387.54 159.05h.8v.8h-.8zM397.25 172.13h.8v.8h-.8zM385.77 160.65h.8v.8h-.8zM367.05 156.73h.8v.8h-.8zM397.11 161.56h.8v.8h-.8zM397.65 169.01h.8v.8h-.8zM398.12 168.51h.8v.8h-.8zM396.73 169.88h.8v.8h-.8zM394.9 162.02h.8v.8h-.8zM395.69 163.19h.8v.8h-.8zM387.7 159.42h.8v.8h-.8zM398.06 166.38h.8v.8h-.8zM390.2 157.63h.8v.8h-.8zM397.8 164.83h.8v.8h-.8zM397.64 164.79h.8v.8h-.8zM396.9 167.83h.8v.8h-.8zM370.77 158.09h.8v.8h-.8zM397.16 164.63h.8v.8h-.8zM398.29 168.42h.8v.8h-.8zM397.57 163.06h.8v.8h-.8zM396.63 161.61h.8v.8h-.8zM391.53 159.21h.8v.8h-.8zM363.99 156.84h.8v.8h-.8zM396.95 166.81h.8v.8h-.8zM397.81 167.44h.8v.8h-.8zM377.37 156.26h.8v.8h-.8zM395.28 166.56h.8v.8h-.8zM396.72 161.2h.8v.8h-.8zM392.18 157.9h.8v.8h-.8zM383.47 156.72h.8v.8h-.8zM385.76 160.44h.8v.8h-.8zM394.33 158.38h.8v.8h-.8zM396.13 167.28h.8v.8h-.8zM397.09 165.95h.8v.8h-.8zM396.39 168.69h.8v.8h-.8zM397.32 166.56h.8v.8h-.8zM394.87 172.75h.8v.8h-.8zM396.16 162.93h.8v.8h-.8zM396.35 165h.8v.8h-.8zM396.39 167.52h.8v.8h-.8zM369.89 158.59h.8v.8h-.8zM394.43 171.61h.8v.8h-.8zM393.23 169.93h.8v.8h-.8zM388.09 159.89h.8v.8h-.8zM396.17 169.71h.8v.8h-.8zM393.84 171.16h.8v.8h-.8zM398.21 170.39h.8v.8h-.8zM363.05 156.85h.8v.8h-.8zM396.93 164.21h.8v.8h-.8zM388.78 159.79h.8v.8h-.8zM396.06 171.29h.8v.8h-.8zM391.67 173.11h.8v.8h-.8zM394.81 170.08h.8v.8h-.8zM399.44 165.42h.8v.8h-.8zM398.77 164.45h.8v.8h-.8zM367.27 157.98h.8v.8h-.8zM395.04 160.36h.8v.8h-.8zM393.39 159.27h.8v.8h-.8zM397.26 166.59h.8v.8h-.8zM378.64 157.17h.8v.8h-.8zM397.6 169.25h.8v.8h-.8zM394.69 161.78h.8v.8h-.8zM394.45 161.49h.8v.8h-.8zM397.86 161.83h.8v.8h-.8zM394.62 160.98h.8v.8h-.8zM395.57 161.2h.8v.8h-.8zM374.31 155.95h.8v.8h-.8zM396.96 170.03h.8v.8h-.8zM365.14 156.07h.8v.8h-.8zM393.82 161.16h.8v.8h-.8zM397.36 168.98h.8v.8h-.8zM395 169.33h.8v.8h-.8zM392.63 171.42h.8v.8h-.8zM375.7 157.3h.8v.8h-.8zM370.73 156.99h.8v.8h-.8zM387.17 157.28h.8v.8h-.8zM394.75 162.9h.8v.8h-.8zM396.96 168.83h.8v.8h-.8zM382.94 158.03h.8v.8h-.8zM390.27 157.18h.8v.8h-.8zM394.28 174.47h.8v.8h-.8zM383.03 156.54h.8v.8h-.8zM376.67 154.48h.8v.8h-.8zM400.08 168.13h.8v.8h-.8zM396.29 161.55h.8v.8h-.8zM396.16 166.08h.8v.8h-.8zM395.12 170.49h.8v.8h-.8zM393.48 161.36h.8v.8h-.8zM367.51 158.87h.8v.8h-.8zM397.02 165.16h.8v.8h-.8zM398.12 165.43h.8v.8h-.8zM394.93 169.09h.8v.8h-.8zM396.41 166.86h.8v.8h-.8zM383.57 157.86h.8v.8h-.8z" fill="#3c52ab" opacity="0.5"/>
<path d="M365.48 156.19h.8v.8h-.8zM368.34 155.77h.8v.8h-.8zM397.82 166.34h.8v.8h-.8zM397.54 163.91h.8v.8h-.8zM383.31 156.53h.8v.8h-.8zM395.72 171.2h.8v.8h-.8zM390.44 159.93h.8v.8h-.8zM383.93 158.24h.8v.8h-.8zM397.71 162.48h.8v.8h-.8zM393.91 161.63h.8v.8h-.8zM398.45 167.15h.8v.8h-.8zM381.7 158.82h.8v.8h-.8zM394.74 171.12h.8v.8h-.8zM394.53 160.46h.8v.8h-.8zM368.68 156.77h.8v.8h-.8zM376.08 156.61h.8v.8h-.8zM397.29 168.57h.8v.8h-.8zM392.5 160.54h.8v.8h-.8zM374.02 156.44h.8v.8h-.8zM395.62 163.75h.8v.8h-.8zM397.18 166.29h.8v.8h-.8zM398.41 168.42h.8v.8h-.8zM395.23 172.07h.8v.8h-.8zM398.56 163.88h.8v.8h-.8zM369.55 157.83h.8v.8h-.8zM388.41 159.16h.8v.8h-.8zM398.5 164.88h.8v.8h-.8zM386.63 158.36h.8v.8h-.8zM394.96 172.54h.8v.8h-.8zM397.05 164.08h.8v.8h-.8zM365.55 158.02h.8v.8h-.8zM397.21 165.35h.8v.8h-.8zM396.97 165.97h.8v.8h-.8zM394.68 162.38h.8v.8h-.8zM392.96 173.92h.8v.8h-.8zM394.81 161.75h.8v.8h-.8zM380.19 156.8h.8v.8h-.8zM384.12 157.28h.8v.8h-.8zM370.06 158.65h.8v.8h-.8zM386.2 157.41h.8v.8h-.8zM367.75 158.74h.8v.8h-.8zM394.15 172.73h.8v.8h-.8zM369.51 155.85h.8v.8h-.8zM386.22 160.83h.8v.8h-.8zM396.25 170.78h.8v.8h-.8zM398.15 165.12h.8v.8h-.8zM396.7 167.33h.8v.8h-.8zM378.07 157.46h.8v.8h-.8zM399.4 163.75h.8v.8h-.8zM381.61 157.8h.8v.8h-.8zM392.12 158.25h.8v.8h-.8zM389.59 159.53h.8v.8h-.8zM397.78 164.76h.8v.8h-.8zM395.51 160.35h.8v.8h-.8zM364.02 156.19h.8v.8h-.8zM394.44 162.32h.8v.8h-.8zM391.35 175.36h.8v.8h-.8zM396.39 165.55h.8v.8h-.8zM397.45 169.82h.8v.8h-.8zM396.35 170.37h.8v.8h-.8zM380.92 159.88h.8v.8h-.8zM396.45 164.59h.8v.8h-.8zM395.26 162.2h.8v.8h-.8zM391.51 161.27h.8v.8h-.8zM372.43 158.22h.8v.8h-.8zM390.68 158.3h.8v.8h-.8zM385.64 158.58h.8v.8h-.8zM394.19 170.11h.8v.8h-.8zM394.57 166.94h.8v.8h-.8zM380.42 157.14h.8v.8h-.8zM391.19 160.2h.8v.8h-.8zM394.26 172.74h.8v.8h-.8zM395.95 162.2h.8v.8h-.8zM383.47 156.14h.8v.8h-.8zM367.18 156.88h.8v.8h-.8zM388.77 159h.8v.8h-.8zM397.14 164.64h.8v.8h-.8zM397.2 165.53h.8v.8h-.8zM391.76 161.57h.8v.8h-.8zM380.79 157.58h.8v.8h-.8zM394.28 172.17h.8v.8h-.8zM395.53 169.18h.8v.8h-.8zM393.12 160.4h.8v.8h-.8zM388.46 157.23h.8v.8h-.8zM396.2 166.22h.8v.8h-.8zM371.45 155.61h.8v.8h-.8zM370.49 157.31h.8v.8h-.8zM391.35 160.14h.8v.8h-.8zM394.05 174.98h.8v.8h-.8zM379.1 157.09h.8v.8h-.8zM393.88 171.14h.8v.8h-.8zM371.44 158.81h.8v.8h-.8zM392.86 159.99h.8v.8h-.8zM397.61 162.98h.8v.8h-.8zM388.86 160.13h.8v.8h-.8zM398.7 167.41h.8v.8h-.8zM397.57 164.02h.8v.8h-.8zM396.89 163.75h.8v.8h-.8zM397.82 164.28h.8v.8h-.8zM398.24 162.42h.8v.8h-.8zM377.99 157.65h.8v.8h-.8zM379.19 157.14h.8v.8h-.8zM389.96 158.97h.8v.8h-.8zM397.82 167.86h.8v.8h-.8zM380.9 157.02h.8v.8h-.8zM380.38 157.82h.8v.8h-.8zM393.37 173.06h.8v.8h-.8zM386.15 157.88h.8v.8h-.8zM396.62 161.09h.8v.8h-.8zM397.82 165.48h.8v.8h-.8zM389.26 159.98h.8v.8h-.8zM394.52 174.16h.8v.8h-.8zM380.98 158.3h.8v.8h-.8zM380.65 157h.8v.8h-.8zM385.4 159.56h.8v.8h-.8zM395.37 168.61h.8v.8h-.8zM396.66 165.57h.8v.8h-.8zM398.64 161.8h.8v.8h-.8zM396.75 169.79h.8v.8h-.8zM395.27 160.28h.8v.8h-.8zM382.45 158.01h.8v.8h-.8zM398.97 168.86h.8v.8h-.8zM388.44 158.79h.8v.8h-.8zM396.4 163.21h.8v.8h-.8zM381.91 156.21h.8v.8h-.8zM397.11 166.77h.8v.8h-.8zM375.76 159.73h.8v.8h-.8zM393.51 161.55h.8v.8h-.8zM393.43 172.83h.8v.8h-.8zM397.14 169.78h.8v.8h-.8zM397.63 165.63h.8v.8h-.8zM398.54 167.7h.8v.8h-.8zM394.01 160.28h.8v.8h-.8zM393.52 172.32h.8v.8h-.8zM386.4 157.48h.8v.8h-.8zM397.22 165.93h.8v.8h-.8zM397.78 166.42h.8v.8h-.8z" fill="#3c52ab" opacity="0.7"/>
</g>
<rect x="353.6" y="145.6" width="69.5" height="71.2" fill="none" stroke="#111" stroke-width="1.4"/>
<text x="358.7" y="139.9" font-size="10" textLength="49.4" lengthAdjust="spacingAndGlyphs">Low CAR19</text>
<rect x="380.2" y="156.1" width="42.9" height="22.2" fill="none" stroke="#888" stroke-width="0.9"/>
<text x="401.3" y="187.5" font-size="8.5" text-anchor="middle" textLength="16.8" lengthAdjust="spacingAndGlyphs">3.8%</text>
<line x1="351.2" y1="147.3" x2="353.6" y2="147.3" stroke="#222" stroke-width="1"/>
<text x="338.6" y="151" font-size="8.6" textLength="8.4" lengthAdjust="spacingAndGlyphs">10</text>
<text x="347.4" y="147.4" font-size="5.2" textLength="2.6" lengthAdjust="spacingAndGlyphs">4</text>
<line x1="351.2" y1="162" x2="353.6" y2="162" stroke="#222" stroke-width="1"/>
<text x="338.6" y="165.7" font-size="8.6" textLength="8.4" lengthAdjust="spacingAndGlyphs">10</text>
<text x="347.4" y="162.1" font-size="5.2" textLength="2.6" lengthAdjust="spacingAndGlyphs">3</text>
<line x1="351.2" y1="177.2" x2="353.6" y2="177.2" stroke="#222" stroke-width="1"/>
<text x="338.6" y="180.9" font-size="8.6" textLength="8.4" lengthAdjust="spacingAndGlyphs">10</text>
<text x="347.4" y="177.3" font-size="5.2" textLength="2.6" lengthAdjust="spacingAndGlyphs">2</text>
<line x1="351.2" y1="192.4" x2="353.6" y2="192.4" stroke="#222" stroke-width="1"/>
<text x="338.6" y="196.1" font-size="8.6" textLength="8.4" lengthAdjust="spacingAndGlyphs">10</text>
<text x="347.4" y="192.5" font-size="5.2" textLength="2.6" lengthAdjust="spacingAndGlyphs">1</text>
<line x1="351.2" y1="206.3" x2="353.6" y2="206.3" stroke="#222" stroke-width="1"/>
<text x="350.4" y="209.2" font-size="7.8" text-anchor="end">0</text>
<line x1="352.4" y1="157.59" x2="353.6" y2="157.59" stroke="#444" stroke-width="0.6"/>
<line x1="352.4" y1="154.36" x2="353.6" y2="154.36" stroke="#444" stroke-width="0.6"/>
<line x1="352.4" y1="151.71" x2="353.6" y2="151.71" stroke="#444" stroke-width="0.6"/>
<line x1="352.4" y1="149.95" x2="353.6" y2="149.95" stroke="#444" stroke-width="0.6"/>
<line x1="352.4" y1="148.77" x2="353.6" y2="148.77" stroke="#444" stroke-width="0.6"/>
<line x1="352.4" y1="172.64" x2="353.6" y2="172.64" stroke="#444" stroke-width="0.6"/>
<line x1="352.4" y1="169.3" x2="353.6" y2="169.3" stroke="#444" stroke-width="0.6"/>
<line x1="352.4" y1="166.56" x2="353.6" y2="166.56" stroke="#444" stroke-width="0.6"/>
<line x1="352.4" y1="164.74" x2="353.6" y2="164.74" stroke="#444" stroke-width="0.6"/>
<line x1="352.4" y1="163.52" x2="353.6" y2="163.52" stroke="#444" stroke-width="0.6"/>
<line x1="352.4" y1="187.84" x2="353.6" y2="187.84" stroke="#444" stroke-width="0.6"/>
<line x1="352.4" y1="184.5" x2="353.6" y2="184.5" stroke="#444" stroke-width="0.6"/>
<line x1="352.4" y1="181.76" x2="353.6" y2="181.76" stroke="#444" stroke-width="0.6"/>
<line x1="352.4" y1="179.94" x2="353.6" y2="179.94" stroke="#444" stroke-width="0.6"/>
<line x1="352.4" y1="178.72" x2="353.6" y2="178.72" stroke="#444" stroke-width="0.6"/>
<line x1="352.4" y1="202.13" x2="353.6" y2="202.13" stroke="#444" stroke-width="0.6"/>
<line x1="352.4" y1="199.07" x2="353.6" y2="199.07" stroke="#444" stroke-width="0.6"/>
<line x1="352.4" y1="196.57" x2="353.6" y2="196.57" stroke="#444" stroke-width="0.6"/>
<line x1="352.4" y1="194.9" x2="353.6" y2="194.9" stroke="#444" stroke-width="0.6"/>
<line x1="352.4" y1="193.79" x2="353.6" y2="193.79" stroke="#444" stroke-width="0.6"/>
<line x1="363.3" y1="216.8" x2="363.3" y2="218.8" stroke="#222" stroke-width="1"/>
<text x="363" y="229.5" font-size="8.2" text-anchor="middle">0</text>
<line x1="377.9" y1="216.8" x2="377.9" y2="218.8" stroke="#222" stroke-width="1"/>
<text x="372.3" y="229.5" font-size="8.6" textLength="7.9" lengthAdjust="spacingAndGlyphs">10</text>
<text x="380.3" y="226.4" font-size="5.2" textLength="2.8" lengthAdjust="spacingAndGlyphs">1</text>
<line x1="392.5" y1="216.8" x2="392.5" y2="218.8" stroke="#222" stroke-width="1"/>
<text x="386.9" y="229.5" font-size="8.6" textLength="7.9" lengthAdjust="spacingAndGlyphs">10</text>
<text x="394.9" y="226.4" font-size="5.2" textLength="2.8" lengthAdjust="spacingAndGlyphs">2</text>
<line x1="407.1" y1="216.8" x2="407.1" y2="218.8" stroke="#222" stroke-width="1"/>
<text x="401.5" y="229.5" font-size="8.6" textLength="7.9" lengthAdjust="spacingAndGlyphs">10</text>
<text x="409.5" y="226.4" font-size="5.2" textLength="2.8" lengthAdjust="spacingAndGlyphs">3</text>
<line x1="421.7" y1="216.8" x2="421.7" y2="218.8" stroke="#222" stroke-width="1"/>
<text x="416.1" y="229.5" font-size="8.6" textLength="7.9" lengthAdjust="spacingAndGlyphs">10</text>
<text x="424.1" y="226.4" font-size="5.2" textLength="2.8" lengthAdjust="spacingAndGlyphs">4</text>
<line x1="367.68" y1="216.8" x2="367.68" y2="217.9" stroke="#444" stroke-width="0.6"/>
<line x1="370.31" y1="216.8" x2="370.31" y2="217.9" stroke="#444" stroke-width="0.6"/>
<line x1="372.06" y1="216.8" x2="372.06" y2="217.9" stroke="#444" stroke-width="0.6"/>
<line x1="373.52" y1="216.8" x2="373.52" y2="217.9" stroke="#444" stroke-width="0.6"/>
<line x1="374.69" y1="216.8" x2="374.69" y2="217.9" stroke="#444" stroke-width="0.6"/>
<line x1="375.71" y1="216.8" x2="375.71" y2="217.9" stroke="#444" stroke-width="0.6"/>
<line x1="376.44" y1="216.8" x2="376.44" y2="217.9" stroke="#444" stroke-width="0.6"/>
<line x1="377.17" y1="216.8" x2="377.17" y2="217.9" stroke="#444" stroke-width="0.6"/>
<line x1="382.28" y1="216.8" x2="382.28" y2="217.9" stroke="#444" stroke-width="0.6"/>
<line x1="384.91" y1="216.8" x2="384.91" y2="217.9" stroke="#444" stroke-width="0.6"/>
<line x1="386.66" y1="216.8" x2="386.66" y2="217.9" stroke="#444" stroke-width="0.6"/>
<line x1="388.12" y1="216.8" x2="388.12" y2="217.9" stroke="#444" stroke-width="0.6"/>
<line x1="389.29" y1="216.8" x2="389.29" y2="217.9" stroke="#444" stroke-width="0.6"/>
<line x1="390.31" y1="216.8" x2="390.31" y2="217.9" stroke="#444" stroke-width="0.6"/>
<line x1="391.04" y1="216.8" x2="391.04" y2="217.9" stroke="#444" stroke-width="0.6"/>
<line x1="391.77" y1="216.8" x2="391.77" y2="217.9" stroke="#444" stroke-width="0.6"/>
<line x1="396.88" y1="216.8" x2="396.88" y2="217.9" stroke="#444" stroke-width="0.6"/>
<line x1="399.51" y1="216.8" x2="399.51" y2="217.9" stroke="#444" stroke-width="0.6"/>
<line x1="401.26" y1="216.8" x2="401.26" y2="217.9" stroke="#444" stroke-width="0.6"/>
<line x1="402.72" y1="216.8" x2="402.72" y2="217.9" stroke="#444" stroke-width="0.6"/>
<line x1="403.89" y1="216.8" x2="403.89" y2="217.9" stroke="#444" stroke-width="0.6"/>
<line x1="404.91" y1="216.8" x2="404.91" y2="217.9" stroke="#444" stroke-width="0.6"/>
<line x1="405.64" y1="216.8" x2="405.64" y2="217.9" stroke="#444" stroke-width="0.6"/>
<line x1="406.37" y1="216.8" x2="406.37" y2="217.9" stroke="#444" stroke-width="0.6"/>
<line x1="411.48" y1="216.8" x2="411.48" y2="217.9" stroke="#444" stroke-width="0.6"/>
<line x1="414.11" y1="216.8" x2="414.11" y2="217.9" stroke="#444" stroke-width="0.6"/>
<line x1="415.86" y1="216.8" x2="415.86" y2="217.9" stroke="#444" stroke-width="0.6"/>
<line x1="417.32" y1="216.8" x2="417.32" y2="217.9" stroke="#444" stroke-width="0.6"/>
<line x1="418.49" y1="216.8" x2="418.49" y2="217.9" stroke="#444" stroke-width="0.6"/>
<line x1="419.51" y1="216.8" x2="419.51" y2="217.9" stroke="#444" stroke-width="0.6"/>
<line x1="420.24" y1="216.8" x2="420.24" y2="217.9" stroke="#444" stroke-width="0.6"/>
<line x1="420.97" y1="216.8" x2="420.97" y2="217.9" stroke="#444" stroke-width="0.6"/>
<clipPath id="c4"><rect x="451.8" y="146.6" width="58.5" height="69.2"/></clipPath>
<g clip-path="url(#c4)">
<path d="M498.83 165.08h0.8v0.8h-0.8zM489.95 171.53h0.8v0.8h-0.8zM482 163.72h0.8v0.8h-0.8zM501.61 160.18h0.8v0.8h-0.8zM499.5 162.29h0.8v0.8h-0.8zM486 167.37h0.8v0.8h-0.8zM494.32 165.87h0.8v0.8h-0.8zM496.31 157.13h0.8v0.8h-0.8zM487.68 168.24h0.8v0.8h-0.8zM488.98 173.75h0.8v0.8h-0.8zM488.78 170.21h0.8v0.8h-0.8zM494.28 172.77h0.8v0.8h-0.8zM485.2 169.19h0.8v0.8h-0.8zM498.36 162.74h0.8v0.8h-0.8zM484.01 171.86h0.8v0.8h-0.8zM487.43 160.45h0.8v0.8h-0.8zM499.29 167.09h0.8v0.8h-0.8zM499.39 163.02h0.8v0.8h-0.8zM494.31 164.06h0.8v0.8h-0.8zM484.46 172.2h0.8v0.8h-0.8zM493.61 170.17h0.8v0.8h-0.8zM494.98 163.92h0.8v0.8h-0.8zM484.48 164.79h0.8v0.8h-0.8zM488.15 159.21h0.8v0.8h-0.8zM497.72 166.04h0.8v0.8h-0.8zM498.51 159.05h0.8v0.8h-0.8zM489.28 172.89h0.8v0.8h-0.8zM488.23 165.09h0.8v0.8h-0.8zM489.57 174.96h0.8v0.8h-0.8zM485.64 162.44h0.8v0.8h-0.8zM489.57 167.99h0.8v0.8h-0.8zM486.22 168.89h0.8v0.8h-0.8zM491.79 168.97h0.8v0.8h-0.8zM500.54 166.81h0.8v0.8h-0.8zM482.59 169.86h0.8v0.8h-0.8zM482.23 166.73h0.8v0.8h-0.8zM494.2 169.05h0.8v0.8h-0.8zM496.45 162.01h0.8v0.8h-0.8zM496.59 172.62h0.8v0.8h-0.8zM492.67 169.86h0.8v0.8h-0.8zM487.64 161.92h0.8v0.8h-0.8z" fill="#3c52ab" opacity="0.2"/>
<path d="M483.32 162.76h0.8v0.8h-0.8zM493.77 165.77h0.8v0.8h-0.8zM488.75 164.43h0.8v0.8h-0.8zM486.61 162.95h0.8v0.8h-0.8zM503.68 166.85h0.8v0.8h-0.8zM490.73 168.22h0.8v0.8h-0.8zM492.34 174.35h0.8v0.8h-0.8zM485.51 164.19h0.8v0.8h-0.8zM483.22 164.95h0.8v0.8h-0.8zM491.09 160.67h0.8v0.8h-0.8zM486.29 174.25h0.8v0.8h-0.8zM484.73 157.12h0.8v0.8h-0.8zM494.48 164.38h0.8v0.8h-0.8zM489.11 169.61h0.8v0.8h-0.8zM488.54 167.79h0.8v0.8h-0.8zM494.32 159.82h0.8v0.8h-0.8zM486.34 160.53h0.8v0.8h-0.8zM487.68 159.84h0.8v0.8h-0.8zM482.66 160.91h0.8v0.8h-0.8zM491.04 166.3h0.8v0.8h-0.8zM490.75 172.04h0.8v0.8h-0.8zM495.86 162.22h0.8v0.8h-0.8zM484.52 166.48h0.8v0.8h-0.8zM495.05 163.01h0.8v0.8h-0.8zM488.78 166.79h0.8v0.8h-0.8zM493.87 168.57h0.8v0.8h-0.8zM493.17 171.92h0.8v0.8h-0.8zM481.63 167.7h0.8v0.8h-0.8zM486.57 167.62h0.8v0.8h-0.8zM507.78 163h0.8v0.8h-0.8zM484.54 160.14h0.8v0.8h-0.8zM490.57 167.54h0.8v0.8h-0.8zM496.5 161.37h0.8v0.8h-0.8zM488.46 163.72h0.8v0.8h-0.8zM494.2 165.85h0.8v0.8h-0.8zM489.24 164.56h0.8v0.8h-0.8zM491.96 164.24h0.8v0.8h-0.8zM487.95 164.13h0.8v0.8h-0.8zM497.3 166.11h0.8v0.8h-0.8zM490.87 166.94h0.8v0.8h-0.8zM483.3 167.04h0.8v0.8h-0.8zM484.82 156.57h0.8v0.8h-0.8zM495.05 177.95h0.8v0.8h-0.8zM492.73 161.96h0.8v0.8h-0.8zM488.92 169.32h0.8v0.8h-0.8zM491.6 163.55h0.8v0.8h-0.8zM490.44 162.06h0.8v0.8h-0.8zM481.93 167.81h0.8v0.8h-0.8z" fill="#3c52ab" opacity="0.4"/>
<path d="M488.45 171.22h0.8v0.8h-0.8zM486.35 166.15h0.8v0.8h-0.8zM483.85 161.63h0.8v0.8h-0.8zM492.11 169.01h0.8v0.8h-0.8zM491.49 172.96h0.8v0.8h-0.8zM487.64 168.64h0.8v0.8h-0.8zM491.4 164.97h0.8v0.8h-0.8zM491.77 170.23h0.8v0.8h-0.8zM485.41 162.96h0.8v0.8h-0.8zM493.51 157.36h0.8v0.8h-0.8zM499.22 175.51h0.8v0.8h-0.8zM494.35 162.84h0.8v0.8h-0.8zM499.07 167.97h0.8v0.8h-0.8zM490.91 154.84h0.8v0.8h-0.8zM494.51 159.78h0.8v0.8h-0.8zM494.93 169.5h0.8v0.8h-0.8zM490.93 173.02h0.8v0.8h-0.8zM489.67 167.23h0.8v0.8h-0.8zM492.78 168.8h0.8v0.8h-0.8zM490.17 171.11h0.8v0.8h-0.8zM505.87 166.13h0.8v0.8h-0.8zM490.63 171.8h0.8v0.8h-0.8zM484.97 165.53h0.8v0.8h-0.8zM497.88 170.42h0.8v0.8h-0.8zM498.39 164.8h0.8v0.8h-0.8zM490.67 163.75h0.8v0.8h-0.8zM487.07 177.5h0.8v0.8h-0.8zM491.46 165.7h0.8v0.8h-0.8zM500.7 162.65h0.8v0.8h-0.8zM491.66 169.5h0.8v0.8h-0.8zM486.93 168.61h0.8v0.8h-0.8zM495.22 170.32h0.8v0.8h-0.8zM487.91 167.8h0.8v0.8h-0.8zM491.09 164.22h0.8v0.8h-0.8zM487.03 168.25h0.8v0.8h-0.8zM479.82 163.79h0.8v0.8h-0.8zM493.41 172.24h0.8v0.8h-0.8zM492.31 161.93h0.8v0.8h-0.8zM487.91 167.51h0.8v0.8h-0.8zM492.02 163.88h0.8v0.8h-0.8zM489.08 164.89h0.8v0.8h-0.8zM491.42 166.64h0.8v0.8h-0.8zM494.73 168.36h0.8v0.8h-0.8z" fill="#3c52ab" opacity="0.6"/>
<path d="M497 168.6h0.8v0.8h-0.8zM501.93 165.83h0.8v0.8h-0.8zM506.85 158.99h0.8v0.8h-0.8zM509.48 161.82h0.8v0.8h-0.8zM487.52 167h0.8v0.8h-0.8zM496.71 175.73h0.8v0.8h-0.8zM494.42 161.17h0.8v0.8h-0.8zM505.76 172.28h0.8v0.8h-0.8zM501.68 171.25h0.8v0.8h-0.8z" fill="#3c52ab" opacity="0.2"/>
<path d="M492.29 160.19h0.8v0.8h-0.8zM488.98 161.86h0.8v0.8h-0.8zM489.79 168.91h0.8v0.8h-0.8zM484.88 159.96h0.8v0.8h-0.8zM499.91 164.21h0.8v0.8h-0.8zM483.92 165.51h0.8v0.8h-0.8zM498.6 171.03h0.8v0.8h-0.8zM498.86 169.56h0.8v0.8h-0.8zM491.81 170.13h0.8v0.8h-0.8zM509.41 164.72h0.8v0.8h-0.8zM485.29 176.5h0.8v0.8h-0.8zM499.08 165.77h0.8v0.8h-0.8zM485.64 165.63h0.8v0.8h-0.8zM503.66 175.33h0.8v0.8h-0.8zM492.42 162.61h0.8v0.8h-0.8zM498.32 167.57h0.8v0.8h-0.8zM496.46 168.94h0.8v0.8h-0.8zM493.5 158.49h0.8v0.8h-0.8zM501.67 160.48h0.8v0.8h-0.8zM504.4 160.14h0.8v0.8h-0.8zM491.66 170.87h0.8v0.8h-0.8z" fill="#3c52ab" opacity="0.35"/>
<g filter="url(#b05)">
<path d="M450.8 157.6 C459.8 156.8 468.8 157 475.8 158.2 C480.8 159.3 483.8 161.5 485.8 165.7 C485.3 168 481.8 171.5 478 174.5 L450.8 174.5Z" fill="#2b51bf"/>
<path d="M450.8 163.1 C457.8 163.2 462.8 165 465.3 166.5 C466.8 164 469.3 164.2 472.1 164.6 C475.8 165.2 479.6 167.2 479.8 169 C479.6 171 475.8 173 472.1 173.4 C468.3 173.6 466.3 172.5 465.3 171.5 C461.8 172 456.8 172.4 450.8 172.4Z" fill="#3cbfe6"/>
<ellipse cx="451.8" cy="167.8" rx="11.8" ry="3" fill="#8cc540"/>
<ellipse cx="451.8" cy="168" rx="4.6" ry="2" fill="#f4d21c"/>
<ellipse cx="451.8" cy="168" rx="1.4" ry="1.6" fill="#f39a1c"/>
<ellipse cx="472.6" cy="169.1" rx="5.2" ry="2.6" fill="#8cc540"/>
</g>
<path d="M479.95 157.67h.8v.8h-.8zM480.72 174.04h.8v.8h-.8zM482.89 168.5h.8v.8h-.8zM485.08 164.1h.8v.8h-.8zM476.76 156.7h.8v.8h-.8zM479.63 173.11h.8v.8h-.8zM474.5 158.01h.8v.8h-.8zM461.71 159.17h.8v.8h-.8zM484.89 169.46h.8v.8h-.8zM484.64 166.61h.8v.8h-.8zM463.63 157.53h.8v.8h-.8zM476.89 158.08h.8v.8h-.8zM466.49 158.21h.8v.8h-.8zM479.11 158.91h.8v.8h-.8zM478.28 160.52h.8v.8h-.8zM482.19 162.37h.8v.8h-.8zM485.48 166h.8v.8h-.8zM486.28 169.95h.8v.8h-.8zM477.57 158.55h.8v.8h-.8zM484.32 166.85h.8v.8h-.8zM477.1 157.69h.8v.8h-.8zM476.84 156.94h.8v.8h-.8zM481.34 173.16h.8v.8h-.8zM486.13 166.53h.8v.8h-.8zM485.82 165.54h.8v.8h-.8zM482.37 171h.8v.8h-.8zM475.22 157.25h.8v.8h-.8zM479.24 158.38h.8v.8h-.8zM485.28 167.58h.8v.8h-.8zM478.59 160.42h.8v.8h-.8zM477.18 155.97h.8v.8h-.8zM482.65 171.62h.8v.8h-.8zM473.35 158.5h.8v.8h-.8zM463.02 157.37h.8v.8h-.8zM478.71 159.09h.8v.8h-.8zM484.78 163.7h.8v.8h-.8zM482.29 160.3h.8v.8h-.8zM484.79 164.76h.8v.8h-.8zM484.5 170.77h.8v.8h-.8zM484.72 169.21h.8v.8h-.8zM485.26 165.97h.8v.8h-.8zM486.18 167.06h.8v.8h-.8zM468.76 157.01h.8v.8h-.8zM483.62 169.38h.8v.8h-.8zM455.74 157.34h.8v.8h-.8zM482.4 173.51h.8v.8h-.8zM481.76 158.74h.8v.8h-.8zM480.97 171.67h.8v.8h-.8zM482.57 162.63h.8v.8h-.8zM476.76 156.55h.8v.8h-.8zM479.71 158.97h.8v.8h-.8zM472.92 158.24h.8v.8h-.8zM456.62 157.57h.8v.8h-.8zM480.58 171.31h.8v.8h-.8zM453.39 156.61h.8v.8h-.8zM471.11 155.49h.8v.8h-.8zM483.7 170.27h.8v.8h-.8zM484.35 162.12h.8v.8h-.8zM480.33 175.38h.8v.8h-.8zM478.95 172.69h.8v.8h-.8zM470.86 156.87h.8v.8h-.8zM477.3 171.97h.8v.8h-.8zM465.71 157.49h.8v.8h-.8zM487.44 167.03h.8v.8h-.8zM475.62 158.41h.8v.8h-.8zM485.89 169.48h.8v.8h-.8zM481.14 171.02h.8v.8h-.8zM468.51 157.64h.8v.8h-.8zM483.58 167.79h.8v.8h-.8zM487.66 164.92h.8v.8h-.8zM478.07 160.2h.8v.8h-.8zM485.11 170h.8v.8h-.8zM481.3 160.42h.8v.8h-.8zM454.68 158.62h.8v.8h-.8zM487.05 164.57h.8v.8h-.8zM478.54 158.23h.8v.8h-.8zM477.67 158.05h.8v.8h-.8zM478.95 156.76h.8v.8h-.8zM462.94 157.32h.8v.8h-.8zM485.3 165.96h.8v.8h-.8zM467.26 156.24h.8v.8h-.8zM479.25 157.42h.8v.8h-.8zM479.69 175.12h.8v.8h-.8zM485.82 167.39h.8v.8h-.8zM481.03 157.9h.8v.8h-.8zM484.24 166.82h.8v.8h-.8zM485.41 165.55h.8v.8h-.8zM481.52 171.98h.8v.8h-.8zM469.03 156.78h.8v.8h-.8zM481.34 172.97h.8v.8h-.8zM479.45 157.8h.8v.8h-.8zM453.72 156.54h.8v.8h-.8zM475.6 158.83h.8v.8h-.8zM478.47 174.57h.8v.8h-.8zM486.21 165.66h.8v.8h-.8zM484.56 165.77h.8v.8h-.8zM483.75 165.24h.8v.8h-.8zM483.95 164.73h.8v.8h-.8zM483.21 160.91h.8v.8h-.8zM467.92 155.98h.8v.8h-.8zM481.85 170.6h.8v.8h-.8zM477.22 156.9h.8v.8h-.8zM483.76 161.89h.8v.8h-.8zM478.66 172.65h.8v.8h-.8zM477.12 158.37h.8v.8h-.8zM476.25 160.67h.8v.8h-.8zM486.78 164.66h.8v.8h-.8zM481.86 173.4h.8v.8h-.8zM484.19 167.95h.8v.8h-.8zM479.6 158.36h.8v.8h-.8zM461.63 157.95h.8v.8h-.8zM484.95 167.79h.8v.8h-.8zM482 172.47h.8v.8h-.8zM485.18 162.77h.8v.8h-.8zM469.94 157.32h.8v.8h-.8zM483.59 171.06h.8v.8h-.8zM454.27 157.32h.8v.8h-.8zM484.06 169.21h.8v.8h-.8zM485.47 171.12h.8v.8h-.8zM454.58 157.89h.8v.8h-.8zM481.59 160.07h.8v.8h-.8zM483.47 168.53h.8v.8h-.8zM482.81 160.47h.8v.8h-.8zM456.2 159.84h.8v.8h-.8zM482.08 162.76h.8v.8h-.8zM484.14 163.77h.8v.8h-.8zM484.06 164.33h.8v.8h-.8zM480.48 159.63h.8v.8h-.8zM484.66 162.79h.8v.8h-.8zM482.97 160.21h.8v.8h-.8zM479.82 173.06h.8v.8h-.8zM450.03 157.44h.8v.8h-.8zM455.1 157.06h.8v.8h-.8zM484.24 170.53h.8v.8h-.8zM479.76 158.94h.8v.8h-.8zM478.14 160.13h.8v.8h-.8zM478.57 160.4h.8v.8h-.8zM486.86 165.18h.8v.8h-.8zM480.69 160.79h.8v.8h-.8zM483.33 169.5h.8v.8h-.8zM474.88 157.99h.8v.8h-.8zM485.31 162.78h.8v.8h-.8zM484.19 168.71h.8v.8h-.8zM457.85 157.06h.8v.8h-.8zM483.45 170.81h.8v.8h-.8zM482.97 169.98h.8v.8h-.8zM460.89 158.62h.8v.8h-.8zM485.27 163.44h.8v.8h-.8zM478.66 173.75h.8v.8h-.8zM482.9 174.4h.8v.8h-.8zM485.03 172.8h.8v.8h-.8zM482.29 169.57h.8v.8h-.8zM477.3 156.72h.8v.8h-.8zM483.33 168.48h.8v.8h-.8zM485.67 168.74h.8v.8h-.8zM461.94 155.1h.8v.8h-.8zM481.94 164.05h.8v.8h-.8zM484.97 166.9h.8v.8h-.8zM466.76 156.79h.8v.8h-.8zM483.01 161.82h.8v.8h-.8zM483.72 161.26h.8v.8h-.8zM484.85 163.77h.8v.8h-.8zM484.41 163.67h.8v.8h-.8z" fill="#3c52ab" opacity="0.3"/>
<path d="M486.82 164.35h.8v.8h-.8zM461.95 157.59h.8v.8h-.8zM483.76 163.56h.8v.8h-.8zM480.19 173.86h.8v.8h-.8zM485.37 169.92h.8v.8h-.8zM481.6 171.72h.8v.8h-.8zM475.21 158.49h.8v.8h-.8zM479.45 172.52h.8v.8h-.8zM452.23 155.74h.8v.8h-.8zM460.77 155.14h.8v.8h-.8zM457.11 158.36h.8v.8h-.8zM486.08 166.19h.8v.8h-.8zM462.7 156.91h.8v.8h-.8zM477.38 159.44h.8v.8h-.8zM485.18 168h.8v.8h-.8zM484.18 160.26h.8v.8h-.8zM476.2 159.27h.8v.8h-.8zM481.79 173.83h.8v.8h-.8zM480.02 160.96h.8v.8h-.8zM478.74 157.76h.8v.8h-.8zM487.72 165.61h.8v.8h-.8zM481.95 162.77h.8v.8h-.8zM459.71 157.57h.8v.8h-.8zM484.72 168.25h.8v.8h-.8zM484.53 164.3h.8v.8h-.8zM459.12 157.61h.8v.8h-.8zM477.9 158.94h.8v.8h-.8zM485.34 167.14h.8v.8h-.8zM461.68 155.24h.8v.8h-.8zM481.07 162.89h.8v.8h-.8zM474.41 158.09h.8v.8h-.8zM482.82 160.87h.8v.8h-.8zM479.11 159.18h.8v.8h-.8zM473.92 157.32h.8v.8h-.8zM454.89 157.75h.8v.8h-.8zM476.57 158.43h.8v.8h-.8zM475.32 159.49h.8v.8h-.8zM472.96 158.82h.8v.8h-.8zM480.45 172.45h.8v.8h-.8zM473.17 157.26h.8v.8h-.8zM476.17 157.92h.8v.8h-.8zM480.32 160.29h.8v.8h-.8zM479.17 173.71h.8v.8h-.8zM457.2 157.88h.8v.8h-.8zM483.67 162.46h.8v.8h-.8zM484.47 171.12h.8v.8h-.8zM483.85 168.04h.8v.8h-.8zM454.68 157.84h.8v.8h-.8zM478.88 160.59h.8v.8h-.8zM462.38 159.61h.8v.8h-.8zM483.42 169.74h.8v.8h-.8zM482.17 161.81h.8v.8h-.8zM463.28 157.95h.8v.8h-.8zM461.08 157.22h.8v.8h-.8zM483.73 170.08h.8v.8h-.8zM462.33 156.91h.8v.8h-.8zM480.37 158.45h.8v.8h-.8zM485.45 164.38h.8v.8h-.8zM481.08 159.97h.8v.8h-.8zM465.5 158.32h.8v.8h-.8zM483.26 166.51h.8v.8h-.8zM477.65 159.28h.8v.8h-.8zM485.77 170.38h.8v.8h-.8zM484.87 170.68h.8v.8h-.8zM479.34 159.87h.8v.8h-.8zM451.11 155.99h.8v.8h-.8zM482.88 170.95h.8v.8h-.8zM482.03 170.08h.8v.8h-.8zM478.77 157.34h.8v.8h-.8zM479.38 174.97h.8v.8h-.8zM482.09 159.28h.8v.8h-.8zM459.04 155.11h.8v.8h-.8zM460.93 155.36h.8v.8h-.8zM479.38 174.04h.8v.8h-.8zM453.31 156.61h.8v.8h-.8zM483.62 162.1h.8v.8h-.8zM487.04 165.98h.8v.8h-.8zM481.39 175.84h.8v.8h-.8zM479.07 157.54h.8v.8h-.8zM485.82 165.53h.8v.8h-.8zM480.92 159.99h.8v.8h-.8zM478.73 161.78h.8v.8h-.8zM470.94 157.7h.8v.8h-.8zM472 159.28h.8v.8h-.8zM484.76 162.01h.8v.8h-.8zM483.08 160.14h.8v.8h-.8zM465.86 157.64h.8v.8h-.8zM463.64 156.18h.8v.8h-.8zM478.07 156.78h.8v.8h-.8zM483.18 169.55h.8v.8h-.8zM484.62 171.83h.8v.8h-.8zM484.66 166.04h.8v.8h-.8zM479.87 173.94h.8v.8h-.8zM472.46 155.4h.8v.8h-.8zM485.11 165.49h.8v.8h-.8zM484.6 164.53h.8v.8h-.8zM459.13 158.05h.8v.8h-.8zM472.48 158.03h.8v.8h-.8zM468.52 158.43h.8v.8h-.8zM487.35 168.06h.8v.8h-.8zM482.94 173.83h.8v.8h-.8zM481.14 158.88h.8v.8h-.8zM486.4 165.76h.8v.8h-.8zM485.64 165.56h.8v.8h-.8zM477.31 160.46h.8v.8h-.8zM481.45 161.54h.8v.8h-.8zM452.76 157.93h.8v.8h-.8zM453.38 156.19h.8v.8h-.8zM469.23 156.66h.8v.8h-.8zM486.65 166.95h.8v.8h-.8zM470.56 156.81h.8v.8h-.8zM480.86 159.57h.8v.8h-.8zM485.7 166.29h.8v.8h-.8zM479.05 158.31h.8v.8h-.8zM485.81 165.87h.8v.8h-.8zM469.93 158.76h.8v.8h-.8zM468.29 157.53h.8v.8h-.8zM480.31 173.47h.8v.8h-.8zM456.42 155.68h.8v.8h-.8zM484.81 168.8h.8v.8h-.8zM482.86 162.83h.8v.8h-.8zM484.8 162.93h.8v.8h-.8zM456.38 157.08h.8v.8h-.8zM486.68 167.47h.8v.8h-.8zM462.88 157.44h.8v.8h-.8zM473.22 158.7h.8v.8h-.8zM484.04 168.61h.8v.8h-.8zM486.74 168.15h.8v.8h-.8zM476.72 158.75h.8v.8h-.8zM486.41 165.02h.8v.8h-.8zM482.03 171.96h.8v.8h-.8zM485.59 168.48h.8v.8h-.8zM478.38 157.82h.8v.8h-.8zM483.59 166.58h.8v.8h-.8zM482.01 172.35h.8v.8h-.8zM485.99 165.78h.8v.8h-.8zM484.35 165.51h.8v.8h-.8zM484.43 167.57h.8v.8h-.8zM468.87 156.23h.8v.8h-.8zM460.95 157.33h.8v.8h-.8zM486.88 167.88h.8v.8h-.8zM487.3 165.47h.8v.8h-.8zM473.05 158.55h.8v.8h-.8zM483.46 171.44h.8v.8h-.8zM472.29 159.28h.8v.8h-.8zM478.46 158.26h.8v.8h-.8zM476.59 157.88h.8v.8h-.8zM466.94 157.37h.8v.8h-.8z" fill="#3c52ab" opacity="0.5"/>
<path d="M468.98 156.96h.8v.8h-.8zM479.47 160.52h.8v.8h-.8zM478.58 171.74h.8v.8h-.8zM484.5 168.01h.8v.8h-.8zM484.31 163.25h.8v.8h-.8zM477.81 174.1h.8v.8h-.8zM455.47 159.28h.8v.8h-.8zM481.47 172.21h.8v.8h-.8zM464 156.65h.8v.8h-.8zM478.64 173.04h.8v.8h-.8zM479.34 160.64h.8v.8h-.8zM482.03 162.12h.8v.8h-.8zM486.76 166.73h.8v.8h-.8zM485.2 166.42h.8v.8h-.8zM486.97 166.82h.8v.8h-.8zM480.53 173.62h.8v.8h-.8zM484.19 161.35h.8v.8h-.8zM469.59 157.11h.8v.8h-.8zM482.17 160.36h.8v.8h-.8zM474.63 155.49h.8v.8h-.8zM467.97 156.04h.8v.8h-.8zM485.53 163.85h.8v.8h-.8zM484.24 166.75h.8v.8h-.8zM481.96 160.19h.8v.8h-.8zM484.63 163.67h.8v.8h-.8zM478.1 159.07h.8v.8h-.8zM483.58 171.55h.8v.8h-.8zM485.32 167.81h.8v.8h-.8zM488.07 164.2h.8v.8h-.8zM482.07 160.68h.8v.8h-.8zM475.54 157.82h.8v.8h-.8zM483.3 169.96h.8v.8h-.8zM479.34 159.18h.8v.8h-.8zM484.56 170.72h.8v.8h-.8zM482.79 171.22h.8v.8h-.8zM483.44 171.54h.8v.8h-.8zM476.41 159.94h.8v.8h-.8zM482.95 170.35h.8v.8h-.8zM485.02 164.21h.8v.8h-.8zM483.9 171.28h.8v.8h-.8zM482.58 161.12h.8v.8h-.8zM484 171.59h.8v.8h-.8zM484.53 164.99h.8v.8h-.8zM474.85 158.05h.8v.8h-.8zM480.59 160.73h.8v.8h-.8zM482.65 171.9h.8v.8h-.8zM455.63 158.76h.8v.8h-.8zM457.26 155.5h.8v.8h-.8zM486.03 166.07h.8v.8h-.8zM457.43 157.86h.8v.8h-.8zM480.49 172.86h.8v.8h-.8zM465.09 155.49h.8v.8h-.8zM481.86 169.61h.8v.8h-.8zM487.38 165.32h.8v.8h-.8zM482.21 172.28h.8v.8h-.8zM452.48 155.38h.8v.8h-.8zM482.91 168.24h.8v.8h-.8zM483.85 167.85h.8v.8h-.8zM457.82 158.15h.8v.8h-.8zM474.53 155.56h.8v.8h-.8zM482.2 159.73h.8v.8h-.8zM480.88 172.1h.8v.8h-.8zM455.7 159.2h.8v.8h-.8zM462.11 156.95h.8v.8h-.8zM470.85 156.9h.8v.8h-.8zM452.92 155.09h.8v.8h-.8zM484.54 164.03h.8v.8h-.8zM480.29 163.1h.8v.8h-.8zM484.32 167.33h.8v.8h-.8zM477.28 157.19h.8v.8h-.8zM484.21 165.77h.8v.8h-.8zM453.42 156.62h.8v.8h-.8zM484.05 169.17h.8v.8h-.8zM465.6 157.07h.8v.8h-.8zM483.55 163.96h.8v.8h-.8zM480.61 160.71h.8v.8h-.8zM455.76 158.42h.8v.8h-.8zM453.35 156.91h.8v.8h-.8zM482.89 161h.8v.8h-.8zM483.08 171.78h.8v.8h-.8zM480.63 161.26h.8v.8h-.8zM483.21 160.3h.8v.8h-.8zM485.03 168.47h.8v.8h-.8zM487.86 164.47h.8v.8h-.8zM458.61 157.38h.8v.8h-.8zM455.63 157.97h.8v.8h-.8zM463.09 155.17h.8v.8h-.8zM477.58 158.57h.8v.8h-.8zM483.47 169.11h.8v.8h-.8zM479.1 173.34h.8v.8h-.8zM478.32 172.09h.8v.8h-.8zM483.77 164.38h.8v.8h-.8zM485.4 170.51h.8v.8h-.8zM470.27 157.49h.8v.8h-.8zM458.13 157.54h.8v.8h-.8zM482.88 161.08h.8v.8h-.8zM454.97 156.75h.8v.8h-.8zM485.03 165.67h.8v.8h-.8zM458.78 156.87h.8v.8h-.8zM484.23 166.01h.8v.8h-.8zM484.08 164.27h.8v.8h-.8zM475.29 159.05h.8v.8h-.8zM459.59 157.54h.8v.8h-.8zM474.69 154.91h.8v.8h-.8zM483.75 168.81h.8v.8h-.8zM482.13 164.04h.8v.8h-.8zM481.23 160.58h.8v.8h-.8zM467.24 155.95h.8v.8h-.8zM464.03 158.23h.8v.8h-.8zM484.2 168.82h.8v.8h-.8zM478.13 156.94h.8v.8h-.8zM481.01 158.27h.8v.8h-.8zM483.29 171.16h.8v.8h-.8zM484.88 162.21h.8v.8h-.8zM454.69 156.64h.8v.8h-.8zM464.1 155.3h.8v.8h-.8zM480.65 174.12h.8v.8h-.8zM485.63 166.13h.8v.8h-.8zM483.01 171.09h.8v.8h-.8zM467.28 155.31h.8v.8h-.8zM457.46 155.8h.8v.8h-.8zM459.99 158.06h.8v.8h-.8zM486.31 162.73h.8v.8h-.8zM483.57 164.48h.8v.8h-.8zM483.95 163.98h.8v.8h-.8zM483.82 166.3h.8v.8h-.8zM482.15 173.47h.8v.8h-.8zM477.32 157.13h.8v.8h-.8zM475.95 159.05h.8v.8h-.8zM482.52 164.91h.8v.8h-.8zM458.12 156.88h.8v.8h-.8zM475.96 158.89h.8v.8h-.8zM463.54 158.36h.8v.8h-.8zM484.94 166.76h.8v.8h-.8zM455.24 155.19h.8v.8h-.8zM472.52 157.42h.8v.8h-.8zM475.1 157.98h.8v.8h-.8zM485.6 162.85h.8v.8h-.8zM485.03 165.57h.8v.8h-.8zM485.5 167.12h.8v.8h-.8zM485.25 167.94h.8v.8h-.8zM484 168.56h.8v.8h-.8zM482.08 160.86h.8v.8h-.8zM484.03 161.68h.8v.8h-.8zM484.77 163.06h.8v.8h-.8zM472.17 160.08h.8v.8h-.8zM481.48 173.25h.8v.8h-.8zM477.63 173.33h.8v.8h-.8zM478.08 158.73h.8v.8h-.8z" fill="#3c52ab" opacity="0.7"/>
</g>
<rect x="441.6" y="145.6" width="69.5" height="71.2" fill="none" stroke="#111" stroke-width="1.4"/>
<text x="450.3" y="139.9" font-size="10" textLength="52.1" lengthAdjust="spacingAndGlyphs">High CAR19</text>
<rect x="467.5" y="156.1" width="43.6" height="22.2" fill="none" stroke="#888" stroke-width="0.9"/>
<text x="489.2" y="187.5" font-size="8.5" text-anchor="middle" textLength="21.9" lengthAdjust="spacingAndGlyphs">23.3%</text>
<line x1="439.2" y1="147.3" x2="441.6" y2="147.3" stroke="#222" stroke-width="1"/>
<text x="426.6" y="151" font-size="8.6" textLength="8.4" lengthAdjust="spacingAndGlyphs">10</text>
<text x="435.4" y="147.4" font-size="5.2" textLength="2.6" lengthAdjust="spacingAndGlyphs">4</text>
<line x1="439.2" y1="162" x2="441.6" y2="162" stroke="#222" stroke-width="1"/>
<text x="426.6" y="165.7" font-size="8.6" textLength="8.4" lengthAdjust="spacingAndGlyphs">10</text>
<text x="435.4" y="162.1" font-size="5.2" textLength="2.6" lengthAdjust="spacingAndGlyphs">3</text>
<line x1="439.2" y1="177.2" x2="441.6" y2="177.2" stroke="#222" stroke-width="1"/>
<text x="426.6" y="180.9" font-size="8.6" textLength="8.4" lengthAdjust="spacingAndGlyphs">10</text>
<text x="435.4" y="177.3" font-size="5.2" textLength="2.6" lengthAdjust="spacingAndGlyphs">2</text>
<line x1="439.2" y1="192.4" x2="441.6" y2="192.4" stroke="#222" stroke-width="1"/>
<text x="426.6" y="196.1" font-size="8.6" textLength="8.4" lengthAdjust="spacingAndGlyphs">10</text>
<text x="435.4" y="192.5" font-size="5.2" textLength="2.6" lengthAdjust="spacingAndGlyphs">1</text>
<line x1="439.2" y1="206.3" x2="441.6" y2="206.3" stroke="#222" stroke-width="1"/>
<text x="438.4" y="209.2" font-size="7.8" text-anchor="end">0</text>
<line x1="440.4" y1="157.59" x2="441.6" y2="157.59" stroke="#444" stroke-width="0.6"/>
<line x1="440.4" y1="154.36" x2="441.6" y2="154.36" stroke="#444" stroke-width="0.6"/>
<line x1="440.4" y1="151.71" x2="441.6" y2="151.71" stroke="#444" stroke-width="0.6"/>
<line x1="440.4" y1="149.95" x2="441.6" y2="149.95" stroke="#444" stroke-width="0.6"/>
<line x1="440.4" y1="148.77" x2="441.6" y2="148.77" stroke="#444" stroke-width="0.6"/>
<line x1="440.4" y1="172.64" x2="441.6" y2="172.64" stroke="#444" stroke-width="0.6"/>
<line x1="440.4" y1="169.3" x2="441.6" y2="169.3" stroke="#444" stroke-width="0.6"/>
<line x1="440.4" y1="166.56" x2="441.6" y2="166.56" stroke="#444" stroke-width="0.6"/>
<line x1="440.4" y1="164.74" x2="441.6" y2="164.74" stroke="#444" stroke-width="0.6"/>
<line x1="440.4" y1="163.52" x2="441.6" y2="163.52" stroke="#444" stroke-width="0.6"/>
<line x1="440.4" y1="187.84" x2="441.6" y2="187.84" stroke="#444" stroke-width="0.6"/>
<line x1="440.4" y1="184.5" x2="441.6" y2="184.5" stroke="#444" stroke-width="0.6"/>
<line x1="440.4" y1="181.76" x2="441.6" y2="181.76" stroke="#444" stroke-width="0.6"/>
<line x1="440.4" y1="179.94" x2="441.6" y2="179.94" stroke="#444" stroke-width="0.6"/>
<line x1="440.4" y1="178.72" x2="441.6" y2="178.72" stroke="#444" stroke-width="0.6"/>
<line x1="440.4" y1="202.13" x2="441.6" y2="202.13" stroke="#444" stroke-width="0.6"/>
<line x1="440.4" y1="199.07" x2="441.6" y2="199.07" stroke="#444" stroke-width="0.6"/>
<line x1="440.4" y1="196.57" x2="441.6" y2="196.57" stroke="#444" stroke-width="0.6"/>
<line x1="440.4" y1="194.9" x2="441.6" y2="194.9" stroke="#444" stroke-width="0.6"/>
<line x1="440.4" y1="193.79" x2="441.6" y2="193.79" stroke="#444" stroke-width="0.6"/>
<line x1="451.3" y1="216.8" x2="451.3" y2="218.8" stroke="#222" stroke-width="1"/>
<text x="451" y="229.5" font-size="8.2" text-anchor="middle">0</text>
<line x1="465.9" y1="216.8" x2="465.9" y2="218.8" stroke="#222" stroke-width="1"/>
<text x="460.3" y="229.5" font-size="8.6" textLength="7.9" lengthAdjust="spacingAndGlyphs">10</text>
<text x="468.3" y="226.4" font-size="5.2" textLength="2.8" lengthAdjust="spacingAndGlyphs">1</text>
<line x1="480.5" y1="216.8" x2="480.5" y2="218.8" stroke="#222" stroke-width="1"/>
<text x="474.9" y="229.5" font-size="8.6" textLength="7.9" lengthAdjust="spacingAndGlyphs">10</text>
<text x="482.9" y="226.4" font-size="5.2" textLength="2.8" lengthAdjust="spacingAndGlyphs">2</text>
<line x1="495.1" y1="216.8" x2="495.1" y2="218.8" stroke="#222" stroke-width="1"/>
<text x="489.5" y="229.5" font-size="8.6" textLength="7.9" lengthAdjust="spacingAndGlyphs">10</text>
<text x="497.5" y="226.4" font-size="5.2" textLength="2.8" lengthAdjust="spacingAndGlyphs">3</text>
<line x1="509.7" y1="216.8" x2="509.7" y2="218.8" stroke="#222" stroke-width="1"/>
<text x="504.1" y="229.5" font-size="8.6" textLength="7.9" lengthAdjust="spacingAndGlyphs">10</text>
<text x="512.1" y="226.4" font-size="5.2" textLength="2.8" lengthAdjust="spacingAndGlyphs">4</text>
<line x1="455.68" y1="216.8" x2="455.68" y2="217.9" stroke="#444" stroke-width="0.6"/>
<line x1="458.31" y1="216.8" x2="458.31" y2="217.9" stroke="#444" stroke-width="0.6"/>
<line x1="460.06" y1="216.8" x2="460.06" y2="217.9" stroke="#444" stroke-width="0.6"/>
<line x1="461.52" y1="216.8" x2="461.52" y2="217.9" stroke="#444" stroke-width="0.6"/>
<line x1="462.69" y1="216.8" x2="462.69" y2="217.9" stroke="#444" stroke-width="0.6"/>
<line x1="463.71" y1="216.8" x2="463.71" y2="217.9" stroke="#444" stroke-width="0.6"/>
<line x1="464.44" y1="216.8" x2="464.44" y2="217.9" stroke="#444" stroke-width="0.6"/>
<line x1="465.17" y1="216.8" x2="465.17" y2="217.9" stroke="#444" stroke-width="0.6"/>
<line x1="470.28" y1="216.8" x2="470.28" y2="217.9" stroke="#444" stroke-width="0.6"/>
<line x1="472.91" y1="216.8" x2="472.91" y2="217.9" stroke="#444" stroke-width="0.6"/>
<line x1="474.66" y1="216.8" x2="474.66" y2="217.9" stroke="#444" stroke-width="0.6"/>
<line x1="476.12" y1="216.8" x2="476.12" y2="217.9" stroke="#444" stroke-width="0.6"/>
<line x1="477.29" y1="216.8" x2="477.29" y2="217.9" stroke="#444" stroke-width="0.6"/>
<line x1="478.31" y1="216.8" x2="478.31" y2="217.9" stroke="#444" stroke-width="0.6"/>
<line x1="479.04" y1="216.8" x2="479.04" y2="217.9" stroke="#444" stroke-width="0.6"/>
<line x1="479.77" y1="216.8" x2="479.77" y2="217.9" stroke="#444" stroke-width="0.6"/>
<line x1="484.88" y1="216.8" x2="484.88" y2="217.9" stroke="#444" stroke-width="0.6"/>
<line x1="487.51" y1="216.8" x2="487.51" y2="217.9" stroke="#444" stroke-width="0.6"/>
<line x1="489.26" y1="216.8" x2="489.26" y2="217.9" stroke="#444" stroke-width="0.6"/>
<line x1="490.72" y1="216.8" x2="490.72" y2="217.9" stroke="#444" stroke-width="0.6"/>
<line x1="491.89" y1="216.8" x2="491.89" y2="217.9" stroke="#444" stroke-width="0.6"/>
<line x1="492.91" y1="216.8" x2="492.91" y2="217.9" stroke="#444" stroke-width="0.6"/>
<line x1="493.64" y1="216.8" x2="493.64" y2="217.9" stroke="#444" stroke-width="0.6"/>
<line x1="494.37" y1="216.8" x2="494.37" y2="217.9" stroke="#444" stroke-width="0.6"/>
<line x1="499.48" y1="216.8" x2="499.48" y2="217.9" stroke="#444" stroke-width="0.6"/>
<line x1="502.11" y1="216.8" x2="502.11" y2="217.9" stroke="#444" stroke-width="0.6"/>
<line x1="503.86" y1="216.8" x2="503.86" y2="217.9" stroke="#444" stroke-width="0.6"/>
<line x1="505.32" y1="216.8" x2="505.32" y2="217.9" stroke="#444" stroke-width="0.6"/>
<line x1="506.49" y1="216.8" x2="506.49" y2="217.9" stroke="#444" stroke-width="0.6"/>
<line x1="507.51" y1="216.8" x2="507.51" y2="217.9" stroke="#444" stroke-width="0.6"/>
<line x1="508.24" y1="216.8" x2="508.24" y2="217.9" stroke="#444" stroke-width="0.6"/>
<line x1="508.97" y1="216.8" x2="508.97" y2="217.9" stroke="#444" stroke-width="0.6"/>
<line x1="247.3" y1="234.6" x2="247.3" y2="188.8" stroke="#111" stroke-width="1.4"/>
<path d="M247.3 184.8L249.8 189.8L244.8 189.8Z" fill="#111"/>
<line x1="246.6" y1="234.6" x2="282.2" y2="234.6" stroke="#111" stroke-width="1.4"/>
<path d="M286.2 234.6L281.2 232.1L281.2 237.1Z" fill="#111"/>
<text x="242.3" y="217.6" font-size="9.4" textLength="13.8" lengthAdjust="spacingAndGlyphs" transform="rotate(-90 242.3 217.6)">CD3</text>
<text x="260.2" y="246.8" font-size="9.4" textLength="13" lengthAdjust="spacingAndGlyphs">CAR</text>
<text x="286.3" y="296.3" font-size="11.6" font-weight="bold" style="fill:#000;stroke:#000;stroke-width:0.55px">D</text>
<rect x="315.9" y="289.7" width="184.1" height="45.6" fill="none" stroke="#111" stroke-width="1.3"/>
<rect x="500" y="289.7" width="12.6" height="45.6" fill="#d3d3d3" stroke="#111" stroke-width="1.3"/>
<text x="503.6" y="307.5" font-size="7.8" textLength="10" lengthAdjust="spacingAndGlyphs" transform="rotate(90 503.6 307.5)">PD</text>
<line x1="312.8" y1="335.3" x2="315.9" y2="335.3" stroke="#222" stroke-width="1"/>
<text x="309.7" y="338.7" font-size="9" text-anchor="end" textLength="4.6" lengthAdjust="spacingAndGlyphs">0</text>
<line x1="312.8" y1="319.35" x2="315.9" y2="319.35" stroke="#222" stroke-width="1"/>
<text x="309.7" y="322.75" font-size="9" text-anchor="end" textLength="8.8" lengthAdjust="spacingAndGlyphs">10</text>
<line x1="312.8" y1="303.4" x2="315.9" y2="303.4" stroke="#222" stroke-width="1"/>
<text x="309.7" y="306.8" font-size="9" text-anchor="end" textLength="8.8" lengthAdjust="spacingAndGlyphs">20</text>
<rect x="315.9" y="339.6" width="184.1" height="45.7" fill="none" stroke="#111" stroke-width="1.3"/>
<rect x="500" y="339.6" width="12.6" height="45.7" fill="#d3d3d3" stroke="#111" stroke-width="1.3"/>
<text x="503.6" y="357.45" font-size="7.8" textLength="10" lengthAdjust="spacingAndGlyphs" transform="rotate(90 503.6 357.45)">SD</text>
<line x1="312.8" y1="385.3" x2="315.9" y2="385.3" stroke="#222" stroke-width="1"/>
<text x="309.7" y="388.7" font-size="9" text-anchor="end" textLength="4.6" lengthAdjust="spacingAndGlyphs">0</text>
<line x1="312.8" y1="369.35" x2="315.9" y2="369.35" stroke="#222" stroke-width="1"/>
<text x="309.7" y="372.75" font-size="9" text-anchor="end" textLength="8.8" lengthAdjust="spacingAndGlyphs">10</text>
<line x1="312.8" y1="353.4" x2="315.9" y2="353.4" stroke="#222" stroke-width="1"/>
<text x="309.7" y="356.8" font-size="9" text-anchor="end" textLength="8.8" lengthAdjust="spacingAndGlyphs">20</text>
<rect x="315.9" y="389.6" width="184.1" height="45.6" fill="none" stroke="#111" stroke-width="1.3"/>
<rect x="500" y="389.6" width="12.6" height="45.6" fill="#d3d3d3" stroke="#111" stroke-width="1.3"/>
<text x="503.6" y="407.4" font-size="7.8" textLength="10" lengthAdjust="spacingAndGlyphs" transform="rotate(90 503.6 407.4)">PR</text>
<line x1="312.8" y1="435.2" x2="315.9" y2="435.2" stroke="#222" stroke-width="1"/>
<text x="309.7" y="438.6" font-size="9" text-anchor="end" textLength="4.6" lengthAdjust="spacingAndGlyphs">0</text>
<line x1="312.8" y1="419.25" x2="315.9" y2="419.25" stroke="#222" stroke-width="1"/>
<text x="309.7" y="422.65" font-size="9" text-anchor="end" textLength="8.8" lengthAdjust="spacingAndGlyphs">10</text>
<line x1="312.8" y1="403.3" x2="315.9" y2="403.3" stroke="#222" stroke-width="1"/>
<text x="309.7" y="406.7" font-size="9" text-anchor="end" textLength="8.8" lengthAdjust="spacingAndGlyphs">20</text>
<rect x="315.9" y="439.6" width="184.1" height="45.3" fill="none" stroke="#111" stroke-width="1.3"/>
<rect x="500" y="439.6" width="12.6" height="45.3" fill="#d3d3d3" stroke="#111" stroke-width="1.3"/>
<text x="503.6" y="457.25" font-size="7.8" textLength="10" lengthAdjust="spacingAndGlyphs" transform="rotate(90 503.6 457.25)">CR</text>
<line x1="312.8" y1="484.9" x2="315.9" y2="484.9" stroke="#222" stroke-width="1"/>
<text x="309.7" y="488.3" font-size="9" text-anchor="end" textLength="4.6" lengthAdjust="spacingAndGlyphs">0</text>
<line x1="312.8" y1="468.95" x2="315.9" y2="468.95" stroke="#222" stroke-width="1"/>
<text x="309.7" y="472.35" font-size="9" text-anchor="end" textLength="8.8" lengthAdjust="spacingAndGlyphs">10</text>
<line x1="312.8" y1="453" x2="315.9" y2="453" stroke="#222" stroke-width="1"/>
<text x="309.7" y="456.4" font-size="9" text-anchor="end" textLength="8.8" lengthAdjust="spacingAndGlyphs">20</text>
<line x1="323.8" y1="484.9" x2="323.8" y2="487.8" stroke="#222" stroke-width="1"/>
<text x="323.8" y="497.6" font-size="8.9" text-anchor="middle" textLength="4.4" lengthAdjust="spacingAndGlyphs">0</text>
<line x1="359.6" y1="484.9" x2="359.6" y2="487.8" stroke="#222" stroke-width="1"/>
<text x="359.6" y="497.6" font-size="8.9" text-anchor="middle" textLength="8.5" lengthAdjust="spacingAndGlyphs">50</text>
<line x1="395.4" y1="484.9" x2="395.4" y2="487.8" stroke="#222" stroke-width="1"/>
<text x="395.4" y="497.6" font-size="8.9" text-anchor="middle" textLength="12.6" lengthAdjust="spacingAndGlyphs">100</text>
<line x1="431.2" y1="484.9" x2="431.2" y2="487.8" stroke="#222" stroke-width="1"/>
<text x="431.2" y="497.6" font-size="8.9" text-anchor="middle" textLength="12.6" lengthAdjust="spacingAndGlyphs">150</text>
<line x1="467" y1="484.9" x2="467" y2="487.8" stroke="#222" stroke-width="1"/>
<text x="467" y="497.6" font-size="8.9" text-anchor="middle" textLength="12.6" lengthAdjust="spacingAndGlyphs">200</text>
<text x="356.4" y="511" font-size="10.1" textLength="103.1" lengthAdjust="spacingAndGlyphs" style="fill:#3a3a3a;stroke:#3a3a3a">Days after pembrolizumab start</text>
<text x="294.6" y="411.6" font-size="9.4" textLength="48.6" lengthAdjust="spacingAndGlyphs" transform="rotate(-90 294.6 411.6)" style="fill:#3a3a3a;stroke:#3a3a3a">%CAR in T cells</text>
<polyline points="328.4,289.9 326.7,307.9 325.5,322" fill="none" stroke="#c8102e" stroke-width="1.6" stroke-linejoin="round" stroke-dasharray="2.2 2.1"/>
<polyline points="323.6,332.9 331.4,325.8" fill="none" stroke="#c8102e" stroke-width="2.4" stroke-linejoin="round"/>
<polyline points="333.1,329 382.7,323.8" fill="none" stroke="#c8102e" stroke-width="1.6" stroke-linejoin="round" stroke-dasharray="2.2 2.1"/>
<circle cx="328.4" cy="291.6" r="1.45" fill="#c8102e"/>
<circle cx="323.75" cy="308" r="1.45" fill="#c8102e"/>
<circle cx="324.6" cy="309.5" r="1.45" fill="#c8102e"/>
<circle cx="324" cy="311.8" r="1.45" fill="#c8102e"/>
<circle cx="323.75" cy="316.1" r="1.45" fill="#c8102e"/>
<circle cx="325" cy="318.5" r="1.45" fill="#c8102e"/>
<circle cx="325.2" cy="321.5" r="1.45" fill="#c8102e"/>
<circle cx="328.7" cy="322.3" r="1.45" fill="#c8102e"/>
<circle cx="323.6" cy="332.9" r="1.45" fill="#c8102e"/>
<circle cx="325.2" cy="331" r="1.45" fill="#c8102e"/>
<circle cx="327" cy="329.5" r="1.45" fill="#c8102e"/>
<circle cx="329" cy="328.2" r="1.45" fill="#c8102e"/>
<circle cx="331" cy="326.5" r="1.45" fill="#c8102e"/>
<circle cx="324" cy="330.5" r="1.45" fill="#c8102e"/>
<circle cx="328.9" cy="331.2" r="1.45" fill="#c8102e"/>
<circle cx="333.1" cy="329" r="1.45" fill="#c8102e"/>
<circle cx="382.7" cy="323.8" r="1.45" fill="#c8102e"/>
<polyline points="323.8,382 333.5,347.4 370.5,378.1 395.4,382" fill="none" stroke="#0e4f8c" stroke-width="1.6" stroke-linejoin="round" stroke-dasharray="2.2 2.1"/>
<polyline points="323.8,417.3 325.5,408.5 353.4,429.3 368.9,427.2" fill="none" stroke="#0e4f8c" stroke-width="1.6" stroke-linejoin="round" stroke-dasharray="2.2 2.1"/>
<polyline points="323.8,430.7 326.2,427.2" fill="none" stroke="#0e4f8c" stroke-width="1.6" stroke-linejoin="round" stroke-dasharray="2.2 2.1"/>
<polyline points="323.8,483.1 327.3,475.5 343.5,484.2 376.9,480.3 491.6,480.8" fill="none" stroke="#0e4f8c" stroke-width="1.6" stroke-linejoin="round" stroke-dasharray="2.2 2.1"/>
<circle cx="323.8" cy="382" r="1.75" fill="#0e4f8c"/>
<circle cx="333.5" cy="347.4" r="1.75" fill="#0e4f8c"/>
<circle cx="370.5" cy="378.1" r="1.75" fill="#0e4f8c"/>
<circle cx="395.4" cy="382" r="1.75" fill="#0e4f8c"/>
<circle cx="323.8" cy="417.3" r="1.75" fill="#0e4f8c"/>
<circle cx="325.5" cy="408.5" r="1.75" fill="#0e4f8c"/>
<circle cx="353.4" cy="429.3" r="1.75" fill="#0e4f8c"/>
<circle cx="368.9" cy="427.2" r="1.75" fill="#0e4f8c"/>
<circle cx="323.8" cy="430.7" r="1.75" fill="#0e4f8c"/>
<circle cx="326.2" cy="427.2" r="1.75" fill="#0e4f8c"/>
<circle cx="323.8" cy="483.1" r="1.75" fill="#0e4f8c"/>
<circle cx="327.3" cy="475.5" r="1.75" fill="#0e4f8c"/>
<circle cx="343.5" cy="484.2" r="1.75" fill="#0e4f8c"/>
<circle cx="376.9" cy="480.3" r="1.75" fill="#0e4f8c"/>
<circle cx="491.6" cy="480.8" r="1.75" fill="#0e4f8c"/>
<line x1="427.7" y1="298" x2="438.1" y2="298" stroke="#c8102e" stroke-width="1.5"/>
<circle cx="433" cy="298" r="1.9" fill="#c8102e"/>
<text x="441.5" y="300.7" font-size="7.8" textLength="53.6" lengthAdjust="spacingAndGlyphs">Non-responders</text>
<line x1="427.7" y1="309.5" x2="438.1" y2="309.5" stroke="#0e4f8c" stroke-width="1.5"/>
<circle cx="433" cy="309.5" r="1.9" fill="#0e4f8c"/>
<text x="441.5" y="312.2" font-size="7.8" textLength="39.3" lengthAdjust="spacingAndGlyphs">Responders</text>
<text x="7.3" y="507.7" font-size="11.6" textLength="6.6" lengthAdjust="spacingAndGlyphs" font-weight="bold" style="fill:#000;stroke:#000;stroke-width:0.55px">E</text>
<line x1="42.7" y1="510.3" x2="42.7" y2="648.8" stroke="#333" stroke-width="1.5"/>
<line x1="42" y1="648.1" x2="159.1" y2="648.1" stroke="#333" stroke-width="1.5"/>
<line x1="39.8" y1="511.3" x2="42.7" y2="511.3" stroke="#333" stroke-width="1.1"/>
<text x="36.9" y="514.3" font-size="8.8" text-anchor="end" textLength="8.2" lengthAdjust="spacingAndGlyphs">30</text>
<line x1="39.8" y1="545.4" x2="42.7" y2="545.4" stroke="#333" stroke-width="1.1"/>
<text x="36.9" y="548.4" font-size="8.8" text-anchor="end" textLength="8.2" lengthAdjust="spacingAndGlyphs">20</text>
<line x1="39.8" y1="579.5" x2="42.7" y2="579.5" stroke="#333" stroke-width="1.1"/>
<text x="36.9" y="582.5" font-size="8.8" text-anchor="end" textLength="8.2" lengthAdjust="spacingAndGlyphs">10</text>
<line x1="39.8" y1="613.6" x2="42.7" y2="613.6" stroke="#333" stroke-width="1.1"/>
<text x="36.9" y="616.6" font-size="8.8" text-anchor="end" textLength="4.2" lengthAdjust="spacingAndGlyphs">0</text>
<line x1="39.8" y1="647.7" x2="42.7" y2="647.7" stroke="#333" stroke-width="1.1"/>
<text x="36.9" y="650.7" font-size="8.8" text-anchor="end" textLength="12.9" lengthAdjust="spacingAndGlyphs">−10</text>
<line x1="57.2" y1="648.1" x2="57.2" y2="651" stroke="#333" stroke-width="1.1"/>
<text x="57.2" y="660.4" font-size="8.4" text-anchor="middle" textLength="9.7" lengthAdjust="spacingAndGlyphs">PD</text>
<line x1="86.5" y1="648.1" x2="86.5" y2="651" stroke="#333" stroke-width="1.1"/>
<text x="86.5" y="660.4" font-size="8.4" text-anchor="middle" textLength="9.7" lengthAdjust="spacingAndGlyphs">SD</text>
<line x1="115.5" y1="648.1" x2="115.5" y2="651" stroke="#333" stroke-width="1.1"/>
<text x="115.5" y="660.4" font-size="8.4" text-anchor="middle" textLength="9.7" lengthAdjust="spacingAndGlyphs">PR</text>
<line x1="144.4" y1="648.1" x2="144.4" y2="651" stroke="#333" stroke-width="1.1"/>
<text x="144.4" y="660.4" font-size="8.4" text-anchor="middle" textLength="9.7" lengthAdjust="spacingAndGlyphs">CR</text>
<text x="15" y="643.6" font-size="10" textLength="128.2" lengthAdjust="spacingAndGlyphs" transform="rotate(-90 15 643.6)" style="fill:#3a3a3a;stroke:#3a3a3a">Change in % CAR after pembrolizumab</text>
<text x="77.5" y="519.8" font-size="9.8" textLength="46.8" lengthAdjust="spacingAndGlyphs">KW P=0.01</text>
<line x1="62.8" y1="523.1" x2="139.4" y2="523.1" stroke="#666" stroke-width="1.5"/>
<circle cx="50.3" cy="611.9" r="1.45" fill="#c8102e"/>
<circle cx="54.9" cy="610.3" r="1.45" fill="#c8102e"/>
<circle cx="59.5" cy="612.8" r="1.45" fill="#c8102e"/>
<circle cx="64.6" cy="610.5" r="1.45" fill="#c8102e"/>
<circle cx="54.7" cy="643.1" r="1.45" fill="#c8102e"/>
<circle cx="58.2" cy="641.9" r="1.45" fill="#c8102e"/>
<circle cx="86.5" cy="540.3" r="1.45" fill="#0e4f8c"/>
<circle cx="115.5" cy="595.7" r="1.45" fill="#0e4f8c"/>
<circle cx="115.5" cy="606" r="1.45" fill="#0e4f8c"/>
<circle cx="144.4" cy="597.8" r="1.45" fill="#0e4f8c"/>
<line x1="47.8" y1="621.6" x2="66.9" y2="621.6" stroke="#666" stroke-width="1.5"/>
<line x1="106.2" y1="600.9" x2="125" y2="600.9" stroke="#666" stroke-width="1.5"/>
<line x1="144.9" y1="518" x2="154.9" y2="518" stroke="#c8102e" stroke-width="1.5"/>
<circle cx="150" cy="518" r="1.9" fill="#c8102e"/>
<text x="158.6" y="520.7" font-size="7.8" textLength="53.7" lengthAdjust="spacingAndGlyphs">Non-responders</text>
<line x1="144.9" y1="529.4" x2="154.9" y2="529.4" stroke="#0e4f8c" stroke-width="1.5"/>
<circle cx="150" cy="529.4" r="1.9" fill="#0e4f8c"/>
<text x="158.6" y="532.1" font-size="7.8" textLength="38.7" lengthAdjust="spacingAndGlyphs">Responders</text>
</svg></body></html>
